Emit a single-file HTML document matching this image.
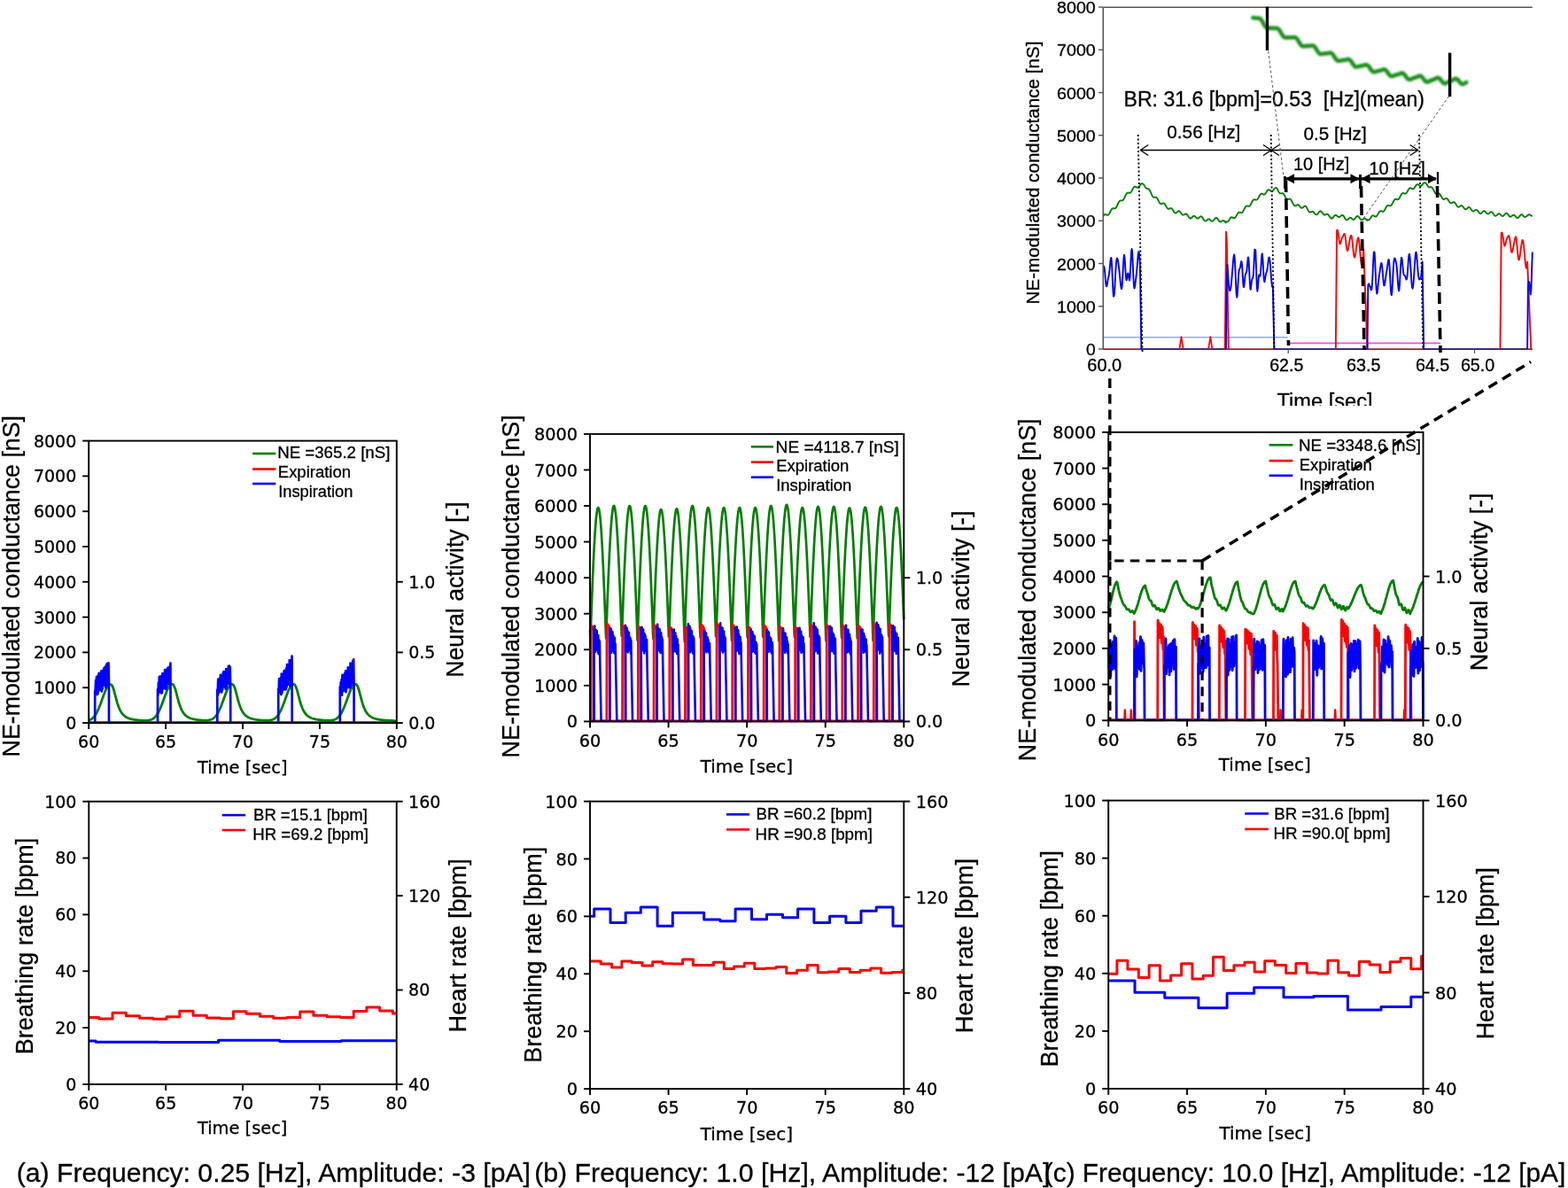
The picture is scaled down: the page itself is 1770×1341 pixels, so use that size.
<!DOCTYPE html><html><head><meta charset="utf-8"><title>Figure</title><style>html,body{margin:0;padding:0;background:#fff;}svg{display:block;}</style></head><body><svg width="1770" height="1341" viewBox="0 0 1770 1341"><defs><filter id="blur" x="-5%" y="-20%" width="110%" height="140%"><feGaussianBlur stdDeviation="0.9"/></filter><clipPath id="insclip"><rect x="1140" y="0" width="630" height="458"/></clipPath></defs><rect width="1770" height="1341" fill="#fff"/>
<polyline points="100.2,813.12 100.9,812.87 101.6,812.57 102.3,812.22 103,811.81 103.7,811.32 104.4,810.77 105.1,810.13 105.8,809.4 106.5,808.57 107.2,807.64 107.9,806.6 108.6,805.46 109.3,804.2 110,802.83 110.7,801.35 111.4,799.76 112.1,798.08 112.8,796.31 113.5,794.46 114.2,792.56 114.9,790.62 115.6,788.65 116.3,786.69 117,784.76 117.7,782.89 118.4,781.09 119.1,779.4 119.8,777.85 120.5,776.46 121.2,775.25 121.9,774.24 122.6,773.46 123.3,772.91 124,772.6 124.7,772.54 125.4,772.72 126.1,773.29 126.8,774.36 127.5,775.94 128.2,777.98 128.9,780.37 129.6,782.99 130.3,785.7 131,788.39 131.7,790.97 132.4,793.37 133.1,795.58 133.8,797.56 134.5,799.34 135.2,800.92 135.9,802.31 136.6,803.53 137.3,804.61 138,805.56 138.7,806.39 139.4,807.13 140.1,807.78 140.8,808.35 141.5,808.86 142.2,809.31 142.9,809.72 143.6,810.08 144.3,810.4 145,810.69 145.7,810.95 146.4,811.19 147.1,811.4 147.8,811.59 148.5,811.77 149.2,811.93 149.9,812.08 150.6,812.21 151.3,812.33 152,812.44 152.7,812.55 153.4,812.64 154.1,812.73 154.8,812.81 155.5,812.88 156.2,812.95 156.9,813.01 157.6,813.07 158.3,813.12 159,813.17 159.7,813.21 160.4,813.25 161.1,813.28 161.8,813.3 162.5,813.32 163.2,813.32 163.9,813.32 164.6,813.31 165.3,813.28 166,813.24 166.7,813.18 167.4,813.1 168.1,812.99 168.8,812.86 169.5,812.68 170.2,812.47 170.9,812.21 171.6,811.9 172.3,811.53 173,811.1 173.7,810.59 174.4,810 175.1,809.32 175.8,808.55 176.5,807.68 177.2,806.7 177.9,805.61 178.6,804.42 179.3,803.1 180,801.68 180.7,800.15 181.4,798.51 182.1,796.79 182.8,794.98 183.5,793.11 184.2,791.19 184.9,789.24 185.6,787.28 186.3,785.34 187,783.45 187.7,781.62 188.4,779.89 189.1,778.28 189.8,776.82 190.5,775.54 191.2,774.45 191.9,773.57 192.6,772.92 193.3,772.52 194,772.36 194.7,772.43 195.4,772.82 196.1,773.67 196.8,775.04 197.5,776.89 198.2,779.15 198.9,781.7 199.6,784.39 200.3,787.1 201,789.74 201.7,792.23 202.4,794.52 203.1,796.61 203.8,798.48 204.5,800.14 205.2,801.61 205.9,802.91 206.6,804.05 207.3,805.05 208,805.93 208.7,806.71 209.4,807.4 210.1,808.01 210.8,808.55 211.5,809.02 212.2,809.45 212.9,809.83 213.6,810.17 214.3,810.48 215,810.75 215.7,811 216.4,811.22 217.1,811.43 217.8,811.61 218.5,811.78 219.2,811.93 219.9,812.07 220.6,812.2 221.3,812.32 222,812.42 222.7,812.52 223.4,812.61 224.1,812.7 224.8,812.77 225.5,812.84 226.2,812.91 226.9,812.96 227.6,813.01 228.3,813.06 229,813.1 229.7,813.13 230.4,813.15 231.1,813.16 231.8,813.16 232.5,813.15 233.2,813.12 233.9,813.08 234.6,813.02 235.3,812.93 236,812.81 236.7,812.67 237.4,812.48 238.1,812.26 238.8,811.98 239.5,811.65 240.2,811.26 240.9,810.79 241.6,810.25 242.3,809.63 243,808.92 243.7,808.1 244.4,807.19 245.1,806.17 245.8,805.04 246.5,803.79 247.2,802.43 247.9,800.96 248.6,799.39 249.3,797.72 250,795.96 250.7,794.12 251.4,792.23 252.1,790.29 252.8,788.34 253.5,786.39 254.2,784.47 254.9,782.6 255.6,780.81 256.3,779.13 257,777.58 257.7,776.2 258.4,774.99 259.1,773.99 259.8,773.21 260.5,772.67 261.2,772.37 261.9,772.32 262.6,772.5 263.3,773.08 264,774.15 264.7,775.73 265.4,777.78 266.1,780.18 266.8,782.8 267.5,785.52 268.2,788.21 268.9,790.79 269.6,793.2 270.3,795.4 271,797.4 271.7,799.18 272.4,800.76 273.1,802.15 273.8,803.38 274.5,804.46 275.2,805.41 275.9,806.25 276.6,806.99 277.3,807.64 278,808.21 278.7,808.73 279.4,809.18 280.1,809.59 280.8,809.95 281.5,810.28 282.2,810.57 282.9,810.83 283.6,811.07 284.3,811.28 285,811.48 285.7,811.66 286.4,811.82 287.1,811.97 287.8,812.1 288.5,812.23 289.2,812.34 289.9,812.44 290.6,812.54 291.3,812.63 292,812.71 292.7,812.79 293.4,812.86 294.1,812.92 294.8,812.98 295.5,813.03 296.2,813.08 296.9,813.12 297.6,813.16 298.3,813.19 299,813.21 299.7,813.23 300.4,813.24 301.1,813.24 301.8,813.22 302.5,813.2 303.2,813.15 303.9,813.09 304.6,813.01 305.3,812.9 306,812.76 306.7,812.58 307.4,812.37 308.1,812.1 308.8,811.78 309.5,811.41 310.2,810.96 310.9,810.44 311.6,809.84 312.3,809.15 313,808.37 313.7,807.48 314.4,806.49 315.1,805.39 315.8,804.17 316.5,802.85 317.2,801.41 317.9,799.86 318.6,798.22 319.3,796.48 320,794.66 320.7,792.78 321.4,790.86 322.1,788.91 322.8,786.95 323.5,785.02 324.2,783.13 324.9,781.31 325.6,779.6 326.3,778.01 327,776.58 327.7,775.32 328.4,774.26 329.1,773.42 329.8,772.8 330.5,772.43 331.2,772.31 331.9,772.41 332.6,772.87 333.3,773.79 334,775.23 334.7,777.15 335.4,779.46 336.1,782.03 336.8,784.74 337.5,787.45 338.2,790.06 338.9,792.53 339.6,794.79 340.3,796.85 341,798.69 341.7,800.32 342.4,801.77 343.1,803.04 343.8,804.16 344.5,805.15 345.2,806.02 345.9,806.78 346.6,807.46 347.3,808.05 348,808.58 348.7,809.05 349.4,809.47 350.1,809.85 350.8,810.18 351.5,810.48 352.2,810.75 352.9,811 353.6,811.22 354.3,811.42 355,811.6 355.7,811.77 356.4,811.92 357.1,812.06 357.8,812.19 358.5,812.3 359.2,812.41 359.9,812.51 360.6,812.6 361.3,812.68 362,812.76 362.7,812.83 363.4,812.9 364.1,812.96 364.8,813.01 365.5,813.06 366.2,813.11 366.9,813.15 367.6,813.18 368.3,813.21 369,813.23 369.7,813.25 370.4,813.25 371.1,813.25 371.8,813.23 372.5,813.2 373.2,813.16 373.9,813.09 374.6,813 375.3,812.89 376,812.74 376.7,812.56 377.4,812.34 378.1,812.07 378.8,811.74 379.5,811.35 380.2,810.9 380.9,810.37 381.6,809.75 382.3,809.05 383,808.25 383.7,807.35 384.4,806.34 385.1,805.22 385.8,803.99 386.5,802.65 387.2,801.19 387.9,799.63 388.6,797.97 389.3,796.22 390,794.4 390.7,792.51 391.4,790.58 392.1,788.63 392.8,786.67 393.5,784.74 394.2,782.86 394.9,781.06 395.6,779.36 396.3,777.8 397,776.39 397.7,775.15 398.4,774.12 399.1,773.31 399.8,772.73 400.5,772.4 401.2,772.31 401.9,772.45 402.6,772.97 403.3,773.96 404,775.48 404.7,777.46 405.4,779.81 406.1,782.41 406.8,785.12 407.5,787.82 408.2,790.42 408.9,792.86 409.6,795.1 410.3,797.12 411,798.93 411.7,800.54 412.4,801.96 413.1,803.21 413.8,804.31 414.5,805.28 415.2,806.13 415.9,806.88 416.6,807.54 417.3,808.13 418,808.65 418.7,809.11 419.4,809.53 420.1,809.89 420.8,810.22 421.5,810.52 422.2,810.79 422.9,811.03 423.6,811.25 424.3,811.45 425,811.63 425.7,811.79 426.4,811.94 427.1,812.08 427.8,812.2 428.5,812.32 429.2,812.42 429.9,812.52 430.6,812.61 431.3,812.69 432,812.77 432.7,812.84 433.4,812.91 434.1,812.97 434.8,813.03 435.5,813.09 436.2,813.14 436.9,813.18 437.6,813.23 438.3,813.27 439,813.31 439.7,813.35 440.4,813.38 441.1,813.41 441.8,813.44 442.5,813.47 443.2,813.5 443.9,813.53 444.6,813.55 445.3,813.57 446,813.6 446.7,813.62 447.4,813.64" fill="none" stroke="#007f00" stroke-width="2.8" stroke-linejoin="round"/>
<line x1="100.2" y1="815.5" x2="447.8" y2="815.5" stroke="#0000ff" stroke-width="2.6"/>
<line x1="108.7" y1="815.5" x2="121.5" y2="815.5" stroke="#ff0000" stroke-width="2.6"/>
<line x1="179.5" y1="815.5" x2="191.1" y2="815.5" stroke="#ff0000" stroke-width="2.6"/>
<line x1="246.8" y1="815.5" x2="258.7" y2="815.5" stroke="#ff0000" stroke-width="2.6"/>
<line x1="315.7" y1="815.5" x2="328.2" y2="815.5" stroke="#ff0000" stroke-width="2.6"/>
<line x1="385.3" y1="815.5" x2="398.1" y2="815.5" stroke="#ff0000" stroke-width="2.6"/>
<polyline points="107.2,816 107.2,780.01 107.65,780.84 108.1,767.74 108.55,781.68 109,764.19 109.45,783.85 109.9,766.03 110.35,783.48 110.8,762.3 111.25,780.22 111.7,759.84 112.15,776.85 112.6,763.28 113.05,778.01 113.5,760.94 113.95,778.87 114.4,757.34 114.85,780.51 115.3,759.06 115.75,777.21 116.2,760.05 116.65,773.31 117.1,754.82 117.55,772.55 118,753.37 118.45,773.74 118.9,755.67 119.35,776.19 119.8,751.2 120.25,774.42 120.7,749.22 121.15,770.69 121.6,751.6 122.05,767.98 122.5,748.45 122.95,768.9 123,816" fill="none" stroke="#0000ff" stroke-width="2.7" stroke-linejoin="round"/>
<polyline points="178,816 178,778.36 178.45,784.74 178.9,770.58 179.35,781.51 179.8,763.83 180.25,779.4 180.7,763.52 181.15,781.18 181.6,765.57 182.05,782.48 182.5,762.99 182.95,781.95 183.4,760.07 183.85,777.66 184.3,763.19 184.75,774.75 185.2,761.35 185.65,776.01 186.1,756.21 186.55,777.36 187,757.24 187.45,777.75 187.9,759.57 188.35,774.85 188.8,754.94 189.25,771.14 189.7,753.55 190.15,770.72 190.6,755.85 191.05,772.06 191.5,752.71 191.95,773.89 192.4,748.72 192.6,816" fill="none" stroke="#0000ff" stroke-width="2.7" stroke-linejoin="round"/>
<polyline points="245.3,816 245.3,778.67 245.75,785 246.2,766.76 246.65,782.65 247.1,767.26 247.55,780.23 248,765.72 248.45,779.69 248.9,761.79 249.35,780.9 249.8,762.67 250.25,781.35 250.7,763.69 251.15,778.53 251.6,760.19 252.05,775.33 252.5,758.16 252.95,774.78 253.4,761.87 253.85,775.82 254.3,758 254.75,777.71 255.2,755.21 255.65,776.47 256.1,757.7 256.55,772.13 257,755.94 257.45,770.2 257.9,751.81 258.35,772 258.8,751.65 259.25,772.43 259.7,752.87 260.15,771.98 260.2,816" fill="none" stroke="#0000ff" stroke-width="2.7" stroke-linejoin="round"/>
<polyline points="314.2,816 314.2,777.96 314.65,782.48 315.1,766.36 315.55,779.83 316,766.25 316.45,781.54 316.9,765.1 317.35,784.07 317.8,760.64 318.25,782.51 318.7,761.92 319.15,779.51 319.6,761.64 320.05,777.2 320.5,757.66 320.95,777.35 321.4,756.76 321.85,778.41 322.3,758.16 322.75,778.19 323.2,754.36 323.65,775.51 324.1,750.08 324.55,772.46 325,752.45 325.45,771.75 325.9,750.06 326.35,772.77 326.8,745.09 327.25,774.1 327.7,746.46 328.15,772.33 328.6,747.27 329.05,769.83 329.5,740.5 329.7,816" fill="none" stroke="#0000ff" stroke-width="2.7" stroke-linejoin="round"/>
<polyline points="383.8,816 383.8,775.44 384.25,783.55 384.7,770.05 385.15,784.58 385.6,767.17 386.05,784.66 386.5,761.85 386.95,780.47 387.4,762.07 387.85,777.57 388.3,764.07 388.75,778.44 389.2,760.2 389.65,780.09 390.1,757.24 390.55,781.18 391,760.59 391.45,776.98 391.9,757.39 392.35,773.72 392.8,753.43 393.25,774.79 393.7,756.12 394.15,776.09 394.6,754.09 395.05,776.41 395.5,748.71 395.95,775 396.4,749.8 396.85,771.59 397.3,750.46 397.75,769.12 398.2,746.08 398.65,771.56 399.1,744.29 399.55,772.84 399.6,816" fill="none" stroke="#0000ff" stroke-width="2.7" stroke-linejoin="round"/>
<rect x="100.2" y="497.6" width="347.6" height="318.4" fill="none" stroke="#000" stroke-width="1.9"/>
<line x1="100.2" y1="816" x2="100.2" y2="823" stroke="#000" stroke-width="1.9"/>
<text x="100.2" y="844.15" font-size="19" font-family="'DejaVu Sans', 'Liberation Sans', sans-serif" fill="#000" stroke="#000" stroke-width="0.3" text-anchor="middle">60</text>
<line x1="187.1" y1="816" x2="187.1" y2="823" stroke="#000" stroke-width="1.9"/>
<text x="187.1" y="844.15" font-size="19" font-family="'DejaVu Sans', 'Liberation Sans', sans-serif" fill="#000" stroke="#000" stroke-width="0.3" text-anchor="middle">65</text>
<line x1="274" y1="816" x2="274" y2="823" stroke="#000" stroke-width="1.9"/>
<text x="274" y="844.15" font-size="19" font-family="'DejaVu Sans', 'Liberation Sans', sans-serif" fill="#000" stroke="#000" stroke-width="0.3" text-anchor="middle">70</text>
<line x1="360.9" y1="816" x2="360.9" y2="823" stroke="#000" stroke-width="1.9"/>
<text x="360.9" y="844.15" font-size="19" font-family="'DejaVu Sans', 'Liberation Sans', sans-serif" fill="#000" stroke="#000" stroke-width="0.3" text-anchor="middle">75</text>
<line x1="447.8" y1="816" x2="447.8" y2="823" stroke="#000" stroke-width="1.9"/>
<text x="447.8" y="844.15" font-size="19" font-family="'DejaVu Sans', 'Liberation Sans', sans-serif" fill="#000" stroke="#000" stroke-width="0.3" text-anchor="middle">80</text>
<line x1="93.2" y1="816" x2="100.2" y2="816" stroke="#000" stroke-width="1.9"/>
<text x="86.3" y="822.93" font-size="19" font-family="'DejaVu Sans', 'Liberation Sans', sans-serif" fill="#000" stroke="#000" stroke-width="0.3" text-anchor="end">0</text>
<line x1="93.2" y1="776.2" x2="100.2" y2="776.2" stroke="#000" stroke-width="1.9"/>
<text x="86.3" y="783.13" font-size="19" font-family="'DejaVu Sans', 'Liberation Sans', sans-serif" fill="#000" stroke="#000" stroke-width="0.3" text-anchor="end">1000</text>
<line x1="93.2" y1="736.4" x2="100.2" y2="736.4" stroke="#000" stroke-width="1.9"/>
<text x="86.3" y="743.33" font-size="19" font-family="'DejaVu Sans', 'Liberation Sans', sans-serif" fill="#000" stroke="#000" stroke-width="0.3" text-anchor="end">2000</text>
<line x1="93.2" y1="696.6" x2="100.2" y2="696.6" stroke="#000" stroke-width="1.9"/>
<text x="86.3" y="703.53" font-size="19" font-family="'DejaVu Sans', 'Liberation Sans', sans-serif" fill="#000" stroke="#000" stroke-width="0.3" text-anchor="end">3000</text>
<line x1="93.2" y1="656.8" x2="100.2" y2="656.8" stroke="#000" stroke-width="1.9"/>
<text x="86.3" y="663.73" font-size="19" font-family="'DejaVu Sans', 'Liberation Sans', sans-serif" fill="#000" stroke="#000" stroke-width="0.3" text-anchor="end">4000</text>
<line x1="93.2" y1="617" x2="100.2" y2="617" stroke="#000" stroke-width="1.9"/>
<text x="86.3" y="623.93" font-size="19" font-family="'DejaVu Sans', 'Liberation Sans', sans-serif" fill="#000" stroke="#000" stroke-width="0.3" text-anchor="end">5000</text>
<line x1="93.2" y1="577.2" x2="100.2" y2="577.2" stroke="#000" stroke-width="1.9"/>
<text x="86.3" y="584.13" font-size="19" font-family="'DejaVu Sans', 'Liberation Sans', sans-serif" fill="#000" stroke="#000" stroke-width="0.3" text-anchor="end">6000</text>
<line x1="93.2" y1="537.4" x2="100.2" y2="537.4" stroke="#000" stroke-width="1.9"/>
<text x="86.3" y="544.34" font-size="19" font-family="'DejaVu Sans', 'Liberation Sans', sans-serif" fill="#000" stroke="#000" stroke-width="0.3" text-anchor="end">7000</text>
<line x1="93.2" y1="497.6" x2="100.2" y2="497.6" stroke="#000" stroke-width="1.9"/>
<text x="86.3" y="504.54" font-size="19" font-family="'DejaVu Sans', 'Liberation Sans', sans-serif" fill="#000" stroke="#000" stroke-width="0.3" text-anchor="end">8000</text>
<line x1="447.8" y1="816" x2="454.8" y2="816" stroke="#000" stroke-width="1.9"/>
<text x="461.2" y="822.93" font-size="19" font-family="'DejaVu Sans', 'Liberation Sans', sans-serif" fill="#000" stroke="#000" stroke-width="0.3">0.0</text>
<line x1="447.8" y1="736.4" x2="454.8" y2="736.4" stroke="#000" stroke-width="1.9"/>
<text x="461.2" y="743.33" font-size="19" font-family="'DejaVu Sans', 'Liberation Sans', sans-serif" fill="#000" stroke="#000" stroke-width="0.3">0.5</text>
<line x1="447.8" y1="656.8" x2="454.8" y2="656.8" stroke="#000" stroke-width="1.9"/>
<text x="461.2" y="663.73" font-size="19" font-family="'DejaVu Sans', 'Liberation Sans', sans-serif" fill="#000" stroke="#000" stroke-width="0.3">1.0</text>
<text x="0" y="0" font-size="27.5" font-family="'Liberation Sans', Arial, sans-serif" fill="#000" stroke="#000" stroke-width="0.3" text-anchor="middle" textLength="385.5" lengthAdjust="spacingAndGlyphs" transform="translate(21.6 661.7) rotate(-90)">NE-modulated conductance [nS]</text>
<text x="0" y="0" font-size="28" font-family="'Liberation Sans', Arial, sans-serif" fill="#000" stroke="#000" stroke-width="0.3" text-anchor="middle" textLength="198.5" lengthAdjust="spacingAndGlyphs" transform="translate(522.5 665.5) rotate(-90)">Neural activity [-]</text>
<text x="273.8" y="873" font-size="19.3" font-family="'DejaVu Sans', 'Liberation Sans', sans-serif" fill="#000" stroke="#000" stroke-width="0.3" text-anchor="middle" textLength="101.5" lengthAdjust="spacingAndGlyphs">Time [sec]</text>
<line x1="285" y1="512" x2="311.3" y2="512" stroke="#007f00" stroke-width="2.6"/>
<text x="313.2" y="516.8" font-size="18.5" font-family="'Liberation Sans', Arial, sans-serif" fill="#000" stroke="#000" stroke-width="0.3" textLength="127.2" lengthAdjust="spacingAndGlyphs">NE =365.2 [nS]</text>
<line x1="285" y1="529.5" x2="311.3" y2="529.5" stroke="#ff0000" stroke-width="2.6"/>
<text x="313.8" y="539.4" font-size="18.5" font-family="'Liberation Sans', Arial, sans-serif" fill="#000" stroke="#000" stroke-width="0.3" textLength="82.2" lengthAdjust="spacingAndGlyphs">Expiration</text>
<line x1="285" y1="546" x2="311.3" y2="546" stroke="#0000ff" stroke-width="2.6"/>
<text x="314.2" y="560.8" font-size="18.5" font-family="'Liberation Sans', Arial, sans-serif" fill="#000" stroke="#000" stroke-width="0.3" textLength="84.2" lengthAdjust="spacingAndGlyphs">Inspiration</text>
<polyline points="100.3,1175.1 108.2,1175.1 108.2,1176.3 178.9,1176.3 178.9,1176.6 246.6,1176.6 246.6,1174.2 315.8,1174.2 315.8,1175.6 385,1175.6 385,1174.8 447.7,1174.8" fill="none" stroke="#0000ff" stroke-width="3.0" stroke-linejoin="round" stroke-linejoin="miter" stroke-linecap="butt"/>
<polyline points="100.3,1148.5 111.8,1148.5 111.8,1150.1 127,1150.1 127,1143.2 142.3,1143.2 142.3,1146.8 157.6,1146.8 157.6,1149.3 172.8,1149.3 172.8,1150.3 188,1150.3 188,1147.8 202.8,1147.8 202.8,1141.2 218,1141.2 218,1146.3 233.3,1146.3 233.3,1149.1 248.6,1149.1 248.6,1149.8 263.4,1149.8 263.4,1141.7 278.1,1141.7 278.1,1144.2 293.4,1144.2 293.4,1147.3 308.6,1147.3 308.6,1149.3 323.9,1149.3 323.9,1148.6 338.7,1148.6 338.7,1142 353.9,1142 353.9,1146.3 369.2,1146.3 369.2,1147.8 384.4,1147.8 384.4,1148.6 399.2,1148.6 399.2,1141.5 413.9,1141.5 413.9,1137.1 428.7,1137.1 428.7,1141 443.4,1141 443.4,1144 447.7,1144" fill="none" stroke="#ff0000" stroke-width="3.0" stroke-linejoin="round" stroke-linejoin="miter" stroke-linecap="butt"/>
<rect x="100.3" y="904.7" width="347.4" height="319.2" fill="none" stroke="#000" stroke-width="1.9"/>
<line x1="100.3" y1="1223.9" x2="100.3" y2="1230.9" stroke="#000" stroke-width="1.9"/>
<text x="100.3" y="1252.05" font-size="19" font-family="'DejaVu Sans', 'Liberation Sans', sans-serif" fill="#000" stroke="#000" stroke-width="0.3" text-anchor="middle">60</text>
<line x1="187.15" y1="1223.9" x2="187.15" y2="1230.9" stroke="#000" stroke-width="1.9"/>
<text x="187.15" y="1252.05" font-size="19" font-family="'DejaVu Sans', 'Liberation Sans', sans-serif" fill="#000" stroke="#000" stroke-width="0.3" text-anchor="middle">65</text>
<line x1="274" y1="1223.9" x2="274" y2="1230.9" stroke="#000" stroke-width="1.9"/>
<text x="274" y="1252.05" font-size="19" font-family="'DejaVu Sans', 'Liberation Sans', sans-serif" fill="#000" stroke="#000" stroke-width="0.3" text-anchor="middle">70</text>
<line x1="360.85" y1="1223.9" x2="360.85" y2="1230.9" stroke="#000" stroke-width="1.9"/>
<text x="360.85" y="1252.05" font-size="19" font-family="'DejaVu Sans', 'Liberation Sans', sans-serif" fill="#000" stroke="#000" stroke-width="0.3" text-anchor="middle">75</text>
<line x1="447.7" y1="1223.9" x2="447.7" y2="1230.9" stroke="#000" stroke-width="1.9"/>
<text x="447.7" y="1252.05" font-size="19" font-family="'DejaVu Sans', 'Liberation Sans', sans-serif" fill="#000" stroke="#000" stroke-width="0.3" text-anchor="middle">80</text>
<line x1="93.3" y1="1223.9" x2="100.3" y2="1223.9" stroke="#000" stroke-width="1.9"/>
<text x="86.4" y="1230.84" font-size="19" font-family="'DejaVu Sans', 'Liberation Sans', sans-serif" fill="#000" stroke="#000" stroke-width="0.3" text-anchor="end">0</text>
<line x1="93.3" y1="1160.06" x2="100.3" y2="1160.06" stroke="#000" stroke-width="1.9"/>
<text x="86.4" y="1167" font-size="19" font-family="'DejaVu Sans', 'Liberation Sans', sans-serif" fill="#000" stroke="#000" stroke-width="0.3" text-anchor="end">20</text>
<line x1="93.3" y1="1096.22" x2="100.3" y2="1096.22" stroke="#000" stroke-width="1.9"/>
<text x="86.4" y="1103.15" font-size="19" font-family="'DejaVu Sans', 'Liberation Sans', sans-serif" fill="#000" stroke="#000" stroke-width="0.3" text-anchor="end">40</text>
<line x1="93.3" y1="1032.38" x2="100.3" y2="1032.38" stroke="#000" stroke-width="1.9"/>
<text x="86.4" y="1039.32" font-size="19" font-family="'DejaVu Sans', 'Liberation Sans', sans-serif" fill="#000" stroke="#000" stroke-width="0.3" text-anchor="end">60</text>
<line x1="93.3" y1="968.54" x2="100.3" y2="968.54" stroke="#000" stroke-width="1.9"/>
<text x="86.4" y="975.48" font-size="19" font-family="'DejaVu Sans', 'Liberation Sans', sans-serif" fill="#000" stroke="#000" stroke-width="0.3" text-anchor="end">80</text>
<line x1="93.3" y1="904.7" x2="100.3" y2="904.7" stroke="#000" stroke-width="1.9"/>
<text x="86.4" y="911.63" font-size="19" font-family="'DejaVu Sans', 'Liberation Sans', sans-serif" fill="#000" stroke="#000" stroke-width="0.3" text-anchor="end">100</text>
<line x1="447.7" y1="1223.9" x2="454.7" y2="1223.9" stroke="#000" stroke-width="1.9"/>
<text x="461.1" y="1230.84" font-size="19" font-family="'DejaVu Sans', 'Liberation Sans', sans-serif" fill="#000" stroke="#000" stroke-width="0.3">40</text>
<line x1="447.7" y1="1117.5" x2="454.7" y2="1117.5" stroke="#000" stroke-width="1.9"/>
<text x="461.1" y="1124.43" font-size="19" font-family="'DejaVu Sans', 'Liberation Sans', sans-serif" fill="#000" stroke="#000" stroke-width="0.3">80</text>
<line x1="447.7" y1="1011.1" x2="454.7" y2="1011.1" stroke="#000" stroke-width="1.9"/>
<text x="461.1" y="1018.04" font-size="19" font-family="'DejaVu Sans', 'Liberation Sans', sans-serif" fill="#000" stroke="#000" stroke-width="0.3">120</text>
<line x1="447.7" y1="904.7" x2="454.7" y2="904.7" stroke="#000" stroke-width="1.9"/>
<text x="461.1" y="911.63" font-size="19" font-family="'DejaVu Sans', 'Liberation Sans', sans-serif" fill="#000" stroke="#000" stroke-width="0.3">160</text>
<text x="0" y="0" font-size="27.5" font-family="'Liberation Sans', Arial, sans-serif" fill="#000" stroke="#000" stroke-width="0.3" text-anchor="middle" textLength="244.5" lengthAdjust="spacingAndGlyphs" transform="translate(37.3 1068) rotate(-90)">Breathing rate [bpm]</text>
<text x="0" y="0" font-size="27.5" font-family="'Liberation Sans', Arial, sans-serif" fill="#000" stroke="#000" stroke-width="0.3" text-anchor="middle" textLength="196.3" lengthAdjust="spacingAndGlyphs" transform="translate(526.1 1067.3) rotate(-90)">Heart rate [bpm]</text>
<text x="273.7" y="1280.4" font-size="19.3" font-family="'DejaVu Sans', 'Liberation Sans', sans-serif" fill="#000" stroke="#000" stroke-width="0.3" text-anchor="middle" textLength="101.5" lengthAdjust="spacingAndGlyphs">Time [sec]</text>
<line x1="250.7" y1="920.1" x2="277.1" y2="920.1" stroke="#0000ff" stroke-width="2.6"/>
<text x="286.1" y="925.5" font-size="18.5" font-family="'Liberation Sans', Arial, sans-serif" fill="#000" stroke="#000" stroke-width="0.3" textLength="128.7" lengthAdjust="spacingAndGlyphs">BR =15.1 [bpm]</text>
<line x1="250.7" y1="937" x2="277.1" y2="937" stroke="#ff0000" stroke-width="2.6"/>
<text x="285.3" y="947.9" font-size="18.5" font-family="'Liberation Sans', Arial, sans-serif" fill="#000" stroke="#000" stroke-width="0.3" textLength="130.7" lengthAdjust="spacingAndGlyphs">HR =69.2 [bpm]</text>
<polyline points="666,711.17 666.35,721.47 666.7,714.66 667.05,704.62 667.4,694.94 667.75,685.53 668.1,676.37 668.45,667.49 668.8,658.88 669.15,650.56 669.5,642.57 669.85,634.9 670.2,627.6 670.55,620.68 670.9,614.16 671.25,608.06 671.6,602.39 671.95,597.19 672.3,592.45 672.65,588.21 673,584.47 673.35,581.24 673.7,578.53 674.05,576.36 674.4,574.73 674.75,573.65 675.1,573.11 675.45,573.13 675.8,573.7 676.15,574.81 676.5,576.47 676.85,578.67 677.2,581.41 677.55,584.67 677.9,588.44 678.25,592.71 678.6,597.47 678.95,602.7 679.3,608.39 679.65,614.52 680,621.06 680.35,628.01 680.7,635.33 681.05,643.01 681.4,651.03 681.75,659.36 682.1,667.99 682.45,676.89 682.8,686.06 683.15,695.48 683.5,705.19 683.85,715.25 684.2,720.39 684.55,709.88 684.9,699.93 685.25,690.29 685.6,680.92 685.95,671.81 686.3,662.97 686.65,654.41 687,646.16 687.35,638.23 687.7,630.65 688.05,623.44 688.4,616.61 688.75,610.2 689.1,604.21 689.45,598.68 689.8,593.6 690.15,589.01 690.5,584.92 690.85,581.33 691.2,578.26 691.55,575.73 691.9,573.73 692.25,572.28 692.6,571.38 692.95,571.03 693.3,571.24 693.65,571.99 694,573.3 694.35,575.16 694.7,577.56 695.05,580.49 695.4,583.94 695.75,587.91 696.1,592.38 696.45,597.33 696.8,602.75 697.15,608.62 697.5,614.92 697.85,621.64 698.2,628.76 698.55,636.25 698.9,644.09 699.25,652.26 699.6,660.74 699.95,669.51 700.3,678.55 700.65,687.86 701,697.42 701.35,707.29 701.7,717.59 702.05,717.85 702.4,707.52 702.75,697.6 703.1,687.98 703.45,678.62 703.8,669.53 704.15,660.71 704.5,652.19 704.85,643.98 705.2,636.11 705.55,628.59 705.9,621.45 706.25,614.71 706.6,608.39 706.95,602.51 707.3,597.09 707.65,592.14 708,587.68 708.35,583.73 708.7,580.29 709.05,577.38 709.4,575.01 709.75,573.19 710.1,571.92 710.45,571.2 710.8,571.04 711.15,571.44 711.5,572.39 711.85,573.9 712.2,575.96 712.55,578.56 712.9,581.7 713.25,585.36 713.6,589.53 713.95,594.2 714.3,599.36 714.65,604.98 715,611.05 715.35,617.55 715.7,624.47 716.05,631.77 716.4,639.44 716.75,647.46 717.1,655.81 717.45,664.46 717.8,673.39 718.15,682.6 718.5,692.07 718.85,701.81 719.2,711.88 719.55,722.56 719.9,713.86 720.25,703.73 720.6,693.94 720.95,684.44 721.3,675.2 721.65,666.22 722,657.53 722.35,649.13 722.7,641.06 723.05,633.33 723.4,625.96 723.75,618.97 724.1,612.39 724.45,606.23 724.8,600.52 725.15,595.27 725.5,590.5 725.85,586.23 726.2,582.46 726.55,579.21 726.9,576.5 727.25,574.32 727.6,572.69 727.95,571.6 728.3,571.08 728.65,571.11 729,571.7 729.35,572.84 729.7,574.54 730.05,576.78 730.4,579.56 730.75,582.87 731.1,586.69 731.45,591.03 731.8,595.85 732.15,601.15 732.5,606.92 732.85,613.12 733.2,619.75 733.55,626.78 733.9,634.19 734.25,641.96 734.6,650.08 734.95,658.51 735.3,667.23 735.65,676.24 736,685.51 736.35,695.05 736.7,704.86 737.05,715.05 737.4,720.94 737.75,710.69 738.1,700.96 738.45,691.53 738.8,682.36 739.15,673.46 739.5,664.81 739.85,656.45 740.2,648.38 740.55,640.63 740.9,633.22 741.25,626.18 741.6,619.51 741.95,613.24 742.3,607.4 742.65,601.99 743,597.04 743.35,592.56 743.7,588.57 744.05,585.07 744.4,582.09 744.75,579.62 745.1,577.68 745.45,576.28 745.8,575.41 746.15,575.08 746.5,575.3 746.85,576.06 747.2,577.36 747.55,579.19 747.9,581.55 748.25,584.43 748.6,587.83 748.95,591.72 749.3,596.11 749.65,600.96 750,606.28 750.35,612.04 750.7,618.22 751.05,624.81 751.4,631.79 751.75,639.12 752.1,646.8 752.45,654.81 752.8,663.12 753.15,671.71 753.5,680.56 753.85,689.68 754.2,699.05 754.55,708.71 754.9,718.81 755.25,718.84 755.6,708.67 755.95,698.89 756.3,689.4 756.65,680.18 757,671.21 757.35,662.52 757.7,654.12 758.05,646.03 758.4,638.27 758.75,630.87 759.1,623.83 759.45,617.2 759.8,610.97 760.15,605.18 760.5,599.84 760.85,594.97 761.2,590.59 761.55,586.7 761.9,583.32 762.25,580.47 762.6,578.15 762.95,576.36 763.3,575.12 763.65,574.43 764,574.29 764.35,574.7 764.7,575.65 765.05,577.16 765.4,579.21 765.75,581.79 766.1,584.9 766.45,588.53 766.8,592.66 767.15,597.28 767.5,602.38 767.85,607.94 768.2,613.94 768.55,620.37 768.9,627.2 769.25,634.42 769.6,642 769.95,649.92 770.3,658.17 770.65,666.71 771,675.53 771.35,684.63 771.7,693.98 772.05,703.6 772.4,713.54 772.75,724.12 773.1,712.05 773.45,702.03 773.8,692.36 774.15,682.97 774.5,673.83 774.85,664.96 775.2,656.36 775.55,648.07 775.9,640.09 776.25,632.45 776.6,625.17 776.95,618.27 777.3,611.77 777.65,605.69 778,600.05 778.35,594.88 778.7,590.17 779.05,585.95 779.4,582.24 779.75,579.04 780.1,576.37 780.45,574.23 780.8,572.63 781.15,571.58 781.5,571.07 781.85,571.12 782.2,571.72 782.55,572.86 782.9,574.56 783.25,576.79 783.6,579.55 783.95,582.84 784.3,586.64 784.65,590.94 785,595.73 785.35,600.99 785.7,606.7 786.05,612.85 786.4,619.42 786.75,626.39 787.1,633.73 787.45,641.43 787.8,649.47 788.15,657.82 788.5,666.46 788.85,675.38 789.2,684.56 789.55,694 789.9,703.72 790.25,713.81 790.6,719.79 790.95,709.48 791.3,699.68 791.65,690.19 792,680.96 792.35,671.98 792.7,663.27 793.05,654.85 793.4,646.73 793.75,638.92 794.1,631.46 794.45,624.37 794.8,617.66 795.15,611.35 795.5,605.47 795.85,600.04 796.2,595.06 796.55,590.55 796.9,586.54 797.25,583.03 797.6,580.04 797.95,577.57 798.3,575.63 798.65,574.23 799,573.37 799.35,573.05 799.7,573.29 800.05,574.07 800.4,575.39 800.75,577.26 801.1,579.65 801.45,582.57 801.8,586.01 802.15,589.95 802.5,594.38 802.85,599.3 803.2,604.67 803.55,610.49 803.9,616.73 804.25,623.39 804.6,630.43 804.95,637.84 805.3,645.59 805.65,653.67 806,662.05 806.35,670.72 806.7,679.66 807.05,688.85 807.4,698.31 807.75,708.06 808.1,718.26 808.45,716.94 808.8,706.81 809.15,697.07 809.5,687.61 809.85,678.42 810.2,669.49 810.55,660.83 810.9,652.46 811.25,644.4 811.6,636.67 811.95,629.29 812.3,622.29 812.65,615.68 813,609.49 813.35,603.72 813.7,598.41 814.05,593.57 814.4,589.21 814.75,585.35 815.1,581.99 815.45,579.16 815.8,576.86 816.15,575.1 816.5,573.87 816.85,573.2 817.2,573.07 817.55,573.5 817.9,574.47 818.25,575.99 818.6,578.04 818.95,580.64 819.3,583.75 819.65,587.38 820,591.52 820.35,596.14 820.7,601.24 821.05,606.8 821.4,612.8 821.75,619.22 822.1,626.04 822.45,633.25 822.8,640.82 823.15,648.73 823.5,656.96 823.85,665.49 824.2,674.3 824.55,683.38 824.9,692.71 825.25,702.31 825.6,712.24 825.95,722.83 826.3,713.4 826.65,703.43 827,693.79 827.35,684.43 827.7,675.33 828.05,666.48 828.4,657.92 828.75,649.66 829.1,641.71 829.45,634.1 829.8,626.85 830.15,619.98 830.5,613.51 830.85,607.46 831.2,601.85 831.55,596.7 831.9,592.02 832.25,587.83 832.6,584.14 832.95,580.96 833.3,578.31 833.65,576.19 834,574.62 834.35,573.58 834.7,573.09 835.05,573.16 835.4,573.77 835.75,574.93 836.1,576.63 836.45,578.87 836.8,581.64 837.15,584.94 837.5,588.74 837.85,593.05 838.2,597.83 838.55,603.09 838.9,608.8 839.25,614.95 839.6,621.51 839.95,628.47 840.3,635.81 840.65,643.5 841,651.52 841.35,659.85 841.7,668.48 842.05,677.38 842.4,686.55 842.75,695.97 843.1,705.68 843.45,715.75 843.8,719.88 844.15,709.57 844.5,699.75 844.85,690.24 845.2,680.99 845.55,672 845.9,663.27 846.25,654.83 846.6,646.7 846.95,638.88 847.3,631.41 847.65,624.31 848,617.59 848.35,611.28 848.7,605.4 849.05,599.96 849.4,594.98 849.75,590.48 850.1,586.47 850.45,582.97 850.8,579.98 851.15,577.51 851.5,575.59 851.85,574.2 852.2,573.35 852.55,573.05 852.9,573.3 853.25,574.1 853.6,575.45 853.95,577.33 854.3,579.75 854.65,582.69 855,586.15 855.35,590.12 855.7,594.58 856.05,599.51 856.4,604.92 856.75,610.76 857.1,617.04 857.45,623.72 857.8,630.79 858.15,638.23 858.5,646.01 858.85,654.12 859.2,662.54 859.55,671.24 859.9,680.21 860.25,689.43 860.6,698.93 860.95,708.71 861.3,718.96 861.65,716.55 862,706.29 862.35,696.43 862.7,686.86 863.05,677.55 863.4,668.5 863.75,659.73 864.1,651.26 864.45,643.1 864.8,635.28 865.15,627.81 865.5,620.73 865.85,614.04 866.2,607.78 866.55,601.95 866.9,596.58 867.25,591.68 867.6,587.28 867.95,583.38 868.3,580 868.65,577.14 869,574.83 869.35,573.05 869.7,571.83 870.05,571.16 870.4,571.05 870.75,571.5 871.1,572.5 871.45,574.05 871.8,576.15 872.15,578.79 872.5,581.96 872.85,585.66 873.2,589.86 873.55,594.56 873.9,599.74 874.25,605.39 874.6,611.48 874.95,618 875.3,624.93 875.65,632.25 876,639.93 876.35,647.96 876.7,656.31 877.05,664.96 877.4,673.9 877.75,683.1 878.1,692.57 878.45,702.31 878.8,712.38 879.15,723.17 879.5,712.89 879.85,702.71 880.2,692.88 880.55,683.32 880.9,674.02 881.25,665 881.6,656.26 881.95,647.83 882.3,639.72 882.65,631.95 883,624.56 883.35,617.55 883.7,610.95 884.05,604.79 884.4,599.07 884.75,593.82 885.1,589.05 885.45,584.79 885.8,581.03 886.15,577.81 886.5,575.11 886.85,572.96 887.2,571.37 887.55,570.33 887.9,569.84 888.25,569.92 888.6,570.57 888.95,571.77 889.3,573.52 889.65,575.83 890,578.67 890.35,582.05 890.7,585.95 891.05,590.37 891.4,595.27 891.75,600.66 892.1,606.5 892.45,612.8 892.8,619.51 893.15,626.63 893.5,634.14 893.85,642 894.2,650.21 894.55,658.73 894.9,667.55 895.25,676.65 895.6,686.02 895.95,695.66 896.3,705.58 896.65,715.89 897,719.18 897.35,708.91 897.7,699.13 898.05,689.65 898.4,680.44 898.75,671.48 899.1,662.78 899.45,654.38 899.8,646.27 900.15,638.49 900.5,631.05 900.85,623.98 901.2,617.29 901.55,611.01 901.9,605.15 902.25,599.74 902.6,594.79 902.95,590.31 903.3,586.33 903.65,582.85 904,579.88 904.35,577.44 904.7,575.53 905.05,574.16 905.4,573.33 905.75,573.05 906.1,573.32 906.45,574.13 906.8,575.48 907.15,577.38 907.5,579.8 907.85,582.76 908.2,586.22 908.55,590.19 908.9,594.65 909.25,599.59 909.6,604.99 909.95,610.83 910.3,617.1 910.65,623.78 911,630.84 911.35,638.27 911.7,646.04 912.05,654.14 912.4,662.54 912.75,671.22 913.1,680.18 913.45,689.39 913.8,698.86 914.15,708.63 914.5,718.87 914.85,715.51 915.2,705.38 915.55,695.63 915.9,686.17 916.25,676.97 916.6,668.02 916.95,659.36 917.3,650.98 917.65,642.92 918,635.19 918.35,627.82 918.7,620.82 919.05,614.21 919.4,608.02 919.75,602.27 920.1,596.97 920.45,592.14 920.8,587.8 921.15,583.96 921.5,580.63 921.85,577.82 922.2,575.54 922.55,573.8 922.9,572.61 923.25,571.96 923.6,571.87 923.95,572.32 924.3,573.33 924.65,574.88 925,576.97 925.35,579.6 925.7,582.76 926.05,586.43 926.4,590.6 926.75,595.26 927.1,600.4 927.45,606 927.8,612.04 928.15,618.51 928.5,625.37 928.85,632.62 929.2,640.23 929.55,648.18 929.9,656.45 930.25,665.02 930.6,673.87 930.95,682.99 931.3,692.36 931.65,702 932,711.98 932.35,723.13 932.7,712.36 933.05,702.35 933.4,692.68 933.75,683.28 934.1,674.14 934.45,665.27 934.8,656.68 935.15,648.39 935.5,640.42 935.85,632.79 936.2,625.52 936.55,618.63 936.9,612.15 937.25,606.09 937.6,600.48 937.95,595.33 938.3,590.65 938.65,586.47 939,582.79 939.35,579.62 939.7,576.99 940.05,574.89 940.4,573.33 940.75,572.32 941.1,571.87 941.45,571.96 941.8,572.61 942.15,573.8 942.5,575.55 942.85,577.83 943.2,580.65 943.55,583.99 943.9,587.84 944.25,592.2 944.6,597.04 944.95,602.35 945.3,608.12 945.65,614.33 946,620.95 946.35,627.97 946.7,635.36 947.05,643.11 947.4,651.2 947.75,659.59 948.1,668.28 948.45,677.25 948.8,686.48 949.15,695.97 949.5,705.74 949.85,715.9 950.2,720.07 950.55,709.77 950.9,699.95 951.25,690.42 951.6,681.16 951.95,672.16 952.3,663.43 952.65,654.99 953,646.85 953.35,639.03 953.7,631.56 954.05,624.46 954.4,617.75 954.75,611.44 955.1,605.57 955.45,600.14 955.8,595.17 956.15,590.69 956.5,586.7 956.85,583.21 957.2,580.25 957.55,577.81 957.9,575.9 958.25,574.54 958.6,573.73 958.95,573.46 959.3,573.74 959.65,574.57 960,575.95 960.35,577.87 960.7,580.32 961.05,583.31 961.4,586.81 961.75,590.81 962.1,595.31 962.45,600.29 962.8,605.73 963.15,611.62 963.5,617.93 963.85,624.66 964.2,631.77 964.55,639.25 964.9,647.07 965.25,655.22 965.6,663.68 965.95,672.42 966.3,681.42 966.65,690.69 967,700.22 967.35,710.06 967.7,720.37 968.05,716.03 968.4,705.91 968.75,696.17 969.1,686.71 969.45,677.52 969.8,668.58 970.15,659.93 970.5,651.56 970.85,643.51 971.2,635.79 971.55,628.42 971.9,621.43 972.25,614.84 972.6,608.67 972.95,602.93 973.3,597.64 973.65,592.83 974,588.5 974.35,584.67 974.7,581.35 975.05,578.55 975.4,576.29 975.75,574.57 976.1,573.39 976.45,572.76 976.8,572.68 977.15,573.15 977.5,574.18 977.85,575.74 978.2,577.85 978.55,580.5 978.9,583.67 979.25,587.35 979.6,591.54 979.95,596.22 980.3,601.37 980.65,606.98 981,613.03 981.35,619.51 981.7,626.39 982.05,633.65 982.4,641.27 982.75,649.23 983.1,657.51 983.45,666.08 983.8,674.94 984.15,684.06 984.5,693.44 984.85,703.1 985.2,713.08 985.55,723.17 985.9,712.44 986.25,702.42 986.6,692.73 986.95,683.32 987.3,674.16 987.65,665.27 988,656.67 988.35,648.36 988.7,640.38 989.05,632.74 989.4,625.46 989.75,618.57 990.1,612.08 990.45,606.02 990.8,600.4 991.15,595.25 991.5,590.57 991.85,586.39 992.2,582.72 992.55,579.56 992.9,576.93 993.25,574.85 993.6,573.3 993.95,572.3 994.3,571.86 994.65,571.97 995,572.64 995.35,573.85 995.7,575.62 996.05,577.92 996.4,580.76 996.75,584.13 997.1,588.01 997.45,592.39 997.8,597.25 998.15,602.6 998.5,608.39 998.85,614.62 999.2,621.28 999.55,628.32 999.9,635.75 1000.25,643.53 1000.6,651.65 1000.95,660.07 1001.3,668.79 1001.65,677.79 1002,687.05 1002.35,696.58 1002.7,706.38 1003.05,716.59 1003.4,718.57 1003.75,708.35 1004.1,698.58 1004.45,689.12 1004.8,679.92 1005.15,670.97 1005.5,662.3 1005.85,653.91 1006.2,645.82 1006.55,638.05 1006.9,630.63 1007.25,623.58 1007.6,616.92 1007.95,610.66 1008.3,604.83 1008.65,599.44 1009,594.52 1009.35,590.07 1009.7,586.11 1010.05,582.66 1010.4,579.73 1010.75,577.32 1011.1,575.44 1011.45,574.1 1011.8,573.3 1012.15,573.05 1012.5,573.35 1012.85,574.19 1013.2,575.58 1013.55,577.5 1013.9,579.96 1014.25,582.94 1014.6,586.43 1014.95,590.43 1015.3,594.92 1015.65,599.89 1016,605.31 1016.35,611.18 1016.7,617.47 1017.05,624.17 1017.4,631.26 1017.75,638.71 1018.1,646.5 1018.45,654.61 1018.8,663.03 1019.15,671.73 1019.5,680.7 1019.85,689.92 1020.2,699.41" fill="none" stroke="#007f00" stroke-width="2.7" stroke-linejoin="round"/>
<line x1="666" y1="813.9" x2="1020.3" y2="813.9" stroke="#ff0000" stroke-width="2.6"/>
<line x1="666" y1="813.9" x2="670.3" y2="813.9" stroke="#0000ff" stroke-width="2.6"/>
<line x1="678.6" y1="813.9" x2="688.03" y2="813.9" stroke="#0000ff" stroke-width="2.6"/>
<line x1="696.33" y1="813.9" x2="705.76" y2="813.9" stroke="#0000ff" stroke-width="2.6"/>
<line x1="714.06" y1="813.9" x2="723.49" y2="813.9" stroke="#0000ff" stroke-width="2.6"/>
<line x1="731.79" y1="813.9" x2="741.22" y2="813.9" stroke="#0000ff" stroke-width="2.6"/>
<line x1="749.52" y1="813.9" x2="758.95" y2="813.9" stroke="#0000ff" stroke-width="2.6"/>
<line x1="767.25" y1="813.9" x2="776.68" y2="813.9" stroke="#0000ff" stroke-width="2.6"/>
<line x1="784.98" y1="813.9" x2="794.41" y2="813.9" stroke="#0000ff" stroke-width="2.6"/>
<line x1="802.71" y1="813.9" x2="812.14" y2="813.9" stroke="#0000ff" stroke-width="2.6"/>
<line x1="820.44" y1="813.9" x2="829.87" y2="813.9" stroke="#0000ff" stroke-width="2.6"/>
<line x1="838.17" y1="813.9" x2="847.6" y2="813.9" stroke="#0000ff" stroke-width="2.6"/>
<line x1="855.9" y1="813.9" x2="865.33" y2="813.9" stroke="#0000ff" stroke-width="2.6"/>
<line x1="873.63" y1="813.9" x2="883.06" y2="813.9" stroke="#0000ff" stroke-width="2.6"/>
<line x1="891.36" y1="813.9" x2="900.79" y2="813.9" stroke="#0000ff" stroke-width="2.6"/>
<line x1="909.09" y1="813.9" x2="918.52" y2="813.9" stroke="#0000ff" stroke-width="2.6"/>
<line x1="926.82" y1="813.9" x2="936.25" y2="813.9" stroke="#0000ff" stroke-width="2.6"/>
<line x1="944.55" y1="813.9" x2="953.98" y2="813.9" stroke="#0000ff" stroke-width="2.6"/>
<line x1="962.28" y1="813.9" x2="971.71" y2="813.9" stroke="#0000ff" stroke-width="2.6"/>
<line x1="980.01" y1="813.9" x2="989.44" y2="813.9" stroke="#0000ff" stroke-width="2.6"/>
<line x1="997.74" y1="813.9" x2="1007.17" y2="813.9" stroke="#0000ff" stroke-width="2.6"/>
<line x1="1015.47" y1="813.9" x2="1020.3" y2="813.9" stroke="#0000ff" stroke-width="2.6"/>
<polyline points="667.1,814.4 667.3,705.89 668.8,707.51 670.3,710.35 670.6,753.56 670.8,814.4" fill="none" stroke="#ff0000" stroke-width="2.8" stroke-linejoin="round"/>
<polyline points="668.8,707.51 670.3,710.35 671.9,715.22" fill="none" stroke="#ff0000" stroke-width="2.8" stroke-linejoin="round"/>
<polyline points="670.5,814.4 670.5,710.49 670.9,733.33 671.3,706.63 671.7,735.92 672.1,711.18 672.5,733.72 672.9,711.25 673.3,731.13 673.7,712.1 674.1,732.67 674.5,718.37 674.9,736.35 675.3,716.93 675.7,738.26 676.1,722.3 676.5,734.7 676.9,723.69 677.4,753.56 677.9,777.89 678.3,800.2 678.6,814.4" fill="none" stroke="#0000ff" stroke-width="2.6" stroke-linejoin="round"/>
<polyline points="684.83,814.4 685.03,703.97 686.53,705.59 688.03,708.43 688.33,753.56 688.53,814.4" fill="none" stroke="#ff0000" stroke-width="2.8" stroke-linejoin="round"/>
<polyline points="686.53,705.59 688.03,708.43 689.63,713.3" fill="none" stroke="#ff0000" stroke-width="2.8" stroke-linejoin="round"/>
<polyline points="688.23,814.4 688.23,709.44 688.63,729.72 689.03,709.93 689.43,733.83 689.83,709.78 690.23,736.73 690.63,714.57 691.03,734.64 691.43,713.29 691.83,731.19 692.23,717.25 692.63,733.52 693.03,720.27 693.43,737.3 693.83,719.79 694.23,737.58 694.63,726.77 695.13,753.56 695.63,777.89 696.03,800.2 696.33,814.4" fill="none" stroke="#0000ff" stroke-width="2.6" stroke-linejoin="round"/>
<polyline points="702.56,814.4 702.76,705.66 704.26,707.28 705.76,710.12 706.06,753.56 706.26,814.4" fill="none" stroke="#ff0000" stroke-width="2.8" stroke-linejoin="round"/>
<polyline points="704.26,707.28 705.76,710.12 707.36,714.99" fill="none" stroke="#ff0000" stroke-width="2.8" stroke-linejoin="round"/>
<polyline points="705.96,814.4 705.96,705.89 706.36,731.15 706.76,711.17 707.16,730.47 707.56,708.65 707.96,734.86 708.36,711.68 708.76,736.32 709.16,714.33 709.56,734.21 709.96,714.1 710.36,732.38 710.76,719.38 711.16,734.03 711.56,720.32 711.96,737.77 712.36,722.77 712.86,753.56 713.36,777.89 713.76,800.2 714.06,814.4" fill="none" stroke="#0000ff" stroke-width="2.6" stroke-linejoin="round"/>
<polyline points="720.29,814.4 720.49,706.97 721.99,708.59 723.49,711.43 723.79,753.56 723.99,814.4" fill="none" stroke="#ff0000" stroke-width="2.8" stroke-linejoin="round"/>
<polyline points="721.99,708.59 723.49,711.43 725.09,716.3" fill="none" stroke="#ff0000" stroke-width="2.8" stroke-linejoin="round"/>
<polyline points="723.69,814.4 723.69,708.01 724.09,733.71 724.49,708.09 724.89,731.58 725.29,712.43 725.69,731.16 726.09,710.67 726.49,734.88 726.89,716.04 727.29,737.48 727.69,715.55 728.09,734.49 728.49,717.45 728.89,732.03 729.29,723.2 729.69,733.97 730.09,721.98 730.59,753.56 731.09,777.89 731.49,800.2 731.79,814.4" fill="none" stroke="#0000ff" stroke-width="2.6" stroke-linejoin="round"/>
<polyline points="738.02,814.4 738.22,705.17 739.72,706.79 741.22,709.63 741.52,753.56 741.72,814.4" fill="none" stroke="#ff0000" stroke-width="2.8" stroke-linejoin="round"/>
<polyline points="739.72,706.79 741.22,709.63 742.82,714.5" fill="none" stroke="#ff0000" stroke-width="2.8" stroke-linejoin="round"/>
<polyline points="741.42,814.4 741.42,707.72 741.82,735.91 742.22,704.83 742.62,734.3 743.02,709.37 743.42,731.75 743.82,709.86 744.22,732.18 744.62,710.31 745.02,735.62 745.42,715.89 745.82,736.86 746.22,714.4 746.62,734.58 747.02,719.06 747.42,733.06 747.82,721.77 748.32,753.56 748.82,777.89 749.22,800.2 749.52,814.4" fill="none" stroke="#0000ff" stroke-width="2.6" stroke-linejoin="round"/>
<polyline points="755.75,814.4 755.95,707.34 757.45,708.96 758.95,711.8 759.25,753.56 759.45,814.4" fill="none" stroke="#ff0000" stroke-width="2.8" stroke-linejoin="round"/>
<polyline points="757.45,708.96 758.95,711.8 760.55,716.67" fill="none" stroke="#ff0000" stroke-width="2.8" stroke-linejoin="round"/>
<polyline points="759.15,814.4 759.15,711 759.55,733.05 759.95,711.85 760.35,735.66 760.75,710.64 761.15,734.6 761.55,716.31 761.95,731.05 762.35,714.47 762.75,731.94 763.15,718.05 763.55,736.52 763.95,721.43 764.35,737.85 764.75,721.46 765.15,735.62 765.55,727.71 766.05,753.56 766.55,777.89 766.95,800.2 767.25,814.4" fill="none" stroke="#0000ff" stroke-width="2.6" stroke-linejoin="round"/>
<polyline points="773.48,814.4 773.68,707.35 775.18,708.98 776.68,711.81 776.98,753.56 777.18,814.4" fill="none" stroke="#ff0000" stroke-width="2.8" stroke-linejoin="round"/>
<polyline points="775.18,708.98 776.68,711.81 778.28,716.68" fill="none" stroke="#ff0000" stroke-width="2.8" stroke-linejoin="round"/>
<polyline points="776.88,814.4 776.88,704.29 777.28,729.99 777.68,708.69 778.08,733.66 778.48,706.92 778.88,736.35 779.28,709.37 779.68,735.24 780.08,713.21 780.48,732.26 780.88,712.23 781.28,732.54 781.68,717.93 782.08,737.33 782.48,718.37 782.88,737.65 783.28,720.49 783.78,753.56 784.28,777.89 784.68,800.2 784.98,814.4" fill="none" stroke="#0000ff" stroke-width="2.6" stroke-linejoin="round"/>
<polyline points="791.21,814.4 791.41,704.91 792.91,706.53 794.41,709.37 794.71,753.56 794.91,814.4" fill="none" stroke="#ff0000" stroke-width="2.8" stroke-linejoin="round"/>
<polyline points="792.91,706.53 794.41,709.37 796.01,714.24" fill="none" stroke="#ff0000" stroke-width="2.8" stroke-linejoin="round"/>
<polyline points="794.61,814.4 794.61,712 795.01,730.48 795.41,712.26 795.81,729.97 796.21,716.52 796.61,734.41 797.01,714.64 797.41,736.31 797.81,719.77 798.21,735.08 798.61,719.59 799.01,732.56 799.41,722.16 799.81,733.09 800.21,727.69 800.61,737.27 801.01,726.1 801.51,753.56 802.01,777.89 802.41,800.2 802.71,814.4" fill="none" stroke="#0000ff" stroke-width="2.6" stroke-linejoin="round"/>
<polyline points="808.94,814.4 809.14,703.74 810.64,705.36 812.14,708.2 812.44,753.56 812.64,814.4" fill="none" stroke="#ff0000" stroke-width="2.8" stroke-linejoin="round"/>
<polyline points="810.64,705.36 812.14,708.2 813.74,713.07" fill="none" stroke="#ff0000" stroke-width="2.8" stroke-linejoin="round"/>
<polyline points="812.34,814.4 812.34,707.32 812.74,734.77 813.14,703.18 813.54,731.12 813.94,707.72 814.34,730.8 814.74,708.25 815.14,734.49 815.54,709.03 815.94,736.54 816.34,714.47 816.74,734.98 817.14,712.49 817.54,732.22 817.94,718.23 818.34,734.04 818.74,720.29 819.24,753.56 819.74,777.89 820.14,800.2 820.44,814.4" fill="none" stroke="#0000ff" stroke-width="2.6" stroke-linejoin="round"/>
<polyline points="826.67,814.4 826.87,705.07 828.37,706.69 829.87,709.53 830.17,753.56 830.37,814.4" fill="none" stroke="#ff0000" stroke-width="2.8" stroke-linejoin="round"/>
<polyline points="828.37,706.69 829.87,709.53 831.47,714.4" fill="none" stroke="#ff0000" stroke-width="2.8" stroke-linejoin="round"/>
<polyline points="830.07,814.4 830.07,708.84 830.47,735.68 830.87,709.8 831.27,734.1 831.67,707.62 832.07,730.88 832.47,713.63 832.87,731.25 833.27,711.38 833.67,735.25 834.07,716.03 834.47,737.88 834.87,718.58 835.27,734.8 835.67,718.95 836.07,732.84 836.47,725.32 836.97,753.56 837.47,777.89 837.87,800.2 838.17,814.4" fill="none" stroke="#0000ff" stroke-width="2.6" stroke-linejoin="round"/>
<polyline points="844.4,814.4 844.6,707.08 846.1,708.7 847.6,711.54 847.9,753.56 848.1,814.4" fill="none" stroke="#ff0000" stroke-width="2.8" stroke-linejoin="round"/>
<polyline points="846.1,708.7 847.6,711.54 849.2,716.41" fill="none" stroke="#ff0000" stroke-width="2.8" stroke-linejoin="round"/>
<polyline points="847.8,814.4 847.8,710.4 848.2,731.99 848.6,715.62 849,735.73 849.4,713.33 849.8,735.3 850.2,716.21 850.6,732.04 851,719.32 851.4,732.5 851.8,717.94 852.2,736.41 852.6,724.51 853,737.65 853.4,724.91 853.8,735.89 854.2,727.32 854.7,753.56 855.2,777.89 855.6,800.2 855.9,814.4" fill="none" stroke="#0000ff" stroke-width="2.6" stroke-linejoin="round"/>
<polyline points="862.13,814.4 862.33,705.58 863.83,707.2 865.33,710.04 865.63,753.56 865.83,814.4" fill="none" stroke="#ff0000" stroke-width="2.8" stroke-linejoin="round"/>
<polyline points="863.83,707.2 865.33,710.04 866.93,714.91" fill="none" stroke="#ff0000" stroke-width="2.8" stroke-linejoin="round"/>
<polyline points="865.53,814.4 865.53,711.59 865.93,729.94 866.33,711.99 866.73,732.7 867.13,715.81 867.53,735.73 867.93,713.68 868.33,734.73 868.73,719.04 869.13,732.25 869.53,719.74 869.93,732.64 870.33,720.96 870.73,736.4 871.13,726.46 871.53,737.88 871.93,725.42 872.43,753.56 872.93,777.89 873.33,800.2 873.63,814.4" fill="none" stroke="#0000ff" stroke-width="2.6" stroke-linejoin="round"/>
<polyline points="879.86,814.4 880.06,706.95 881.56,708.57 883.06,711.41 883.36,753.56 883.56,814.4" fill="none" stroke="#ff0000" stroke-width="2.8" stroke-linejoin="round"/>
<polyline points="881.56,708.57 883.06,711.41 884.66,716.28" fill="none" stroke="#ff0000" stroke-width="2.8" stroke-linejoin="round"/>
<polyline points="883.26,814.4 883.26,713.2 883.66,731.27 884.06,709.42 884.46,730.36 884.86,714.27 885.26,733.34 885.66,715.27 886.06,736.63 886.46,714.83 886.86,735.54 887.26,720.45 887.66,732.23 888.06,719.52 888.46,733.8 888.86,723.94 889.26,737.59 889.66,727.33 890.16,753.56 890.66,777.89 891.06,800.2 891.36,814.4" fill="none" stroke="#0000ff" stroke-width="2.6" stroke-linejoin="round"/>
<polyline points="897.59,814.4 897.79,707.6 899.29,709.22 900.79,712.06 901.09,753.56 901.29,814.4" fill="none" stroke="#ff0000" stroke-width="2.8" stroke-linejoin="round"/>
<polyline points="899.29,709.22 900.79,712.06 902.39,716.93" fill="none" stroke="#ff0000" stroke-width="2.8" stroke-linejoin="round"/>
<polyline points="900.99,814.4 900.99,709.59 901.39,734.45 901.79,710.46 902.19,730.87 902.59,708.69 902.99,730.36 903.39,714.85 903.79,734.17 904.19,712.8 904.59,736.63 904.99,717.12 905.39,735.75 905.79,720.46 906.19,732.26 906.59,719.4 906.99,733.56 907.39,726.28 907.89,753.56 908.39,777.89 908.79,800.2 909.09,814.4" fill="none" stroke="#0000ff" stroke-width="2.6" stroke-linejoin="round"/>
<polyline points="915.32,814.4 915.52,705.93 917.02,707.56 918.52,710.4 918.82,753.56 919.02,814.4" fill="none" stroke="#ff0000" stroke-width="2.8" stroke-linejoin="round"/>
<polyline points="917.02,707.56 918.52,710.4 920.12,715.26" fill="none" stroke="#ff0000" stroke-width="2.8" stroke-linejoin="round"/>
<polyline points="918.72,814.4 918.72,703.41 919.12,735.17 919.52,708.01 919.92,735.34 920.32,707.47 920.72,731.68 921.12,708.58 921.52,731.95 921.92,712.62 922.32,734.93 922.72,710.81 923.12,737.38 923.52,717.41 923.92,735.48 924.32,717.55 924.72,732.84 925.12,719.84 925.62,753.56 926.12,777.89 926.52,800.2 926.82,814.4" fill="none" stroke="#0000ff" stroke-width="2.6" stroke-linejoin="round"/>
<polyline points="933.05,814.4 933.25,705.61 934.75,707.24 936.25,710.08 936.55,753.56 936.75,814.4" fill="none" stroke="#ff0000" stroke-width="2.8" stroke-linejoin="round"/>
<polyline points="934.75,707.24 936.25,710.08 937.85,714.94" fill="none" stroke="#ff0000" stroke-width="2.8" stroke-linejoin="round"/>
<polyline points="936.45,814.4 936.45,706.93 936.85,731.77 937.25,707.13 937.65,735.19 938.05,710.75 938.45,734.76 938.85,708.79 939.25,731.96 939.65,714.27 940.05,732.22 940.45,715.35 940.85,735.99 941.25,716.76 941.65,737.77 942.05,721.91 942.45,736.22 942.85,720.68 943.35,753.56 943.85,777.89 944.25,800.2 944.55,814.4" fill="none" stroke="#0000ff" stroke-width="2.6" stroke-linejoin="round"/>
<polyline points="950.78,814.4 950.98,705.69 952.48,707.32 953.98,710.16 954.28,753.56 954.48,814.4" fill="none" stroke="#ff0000" stroke-width="2.8" stroke-linejoin="round"/>
<polyline points="952.48,707.32 953.98,710.16 955.58,715.02" fill="none" stroke="#ff0000" stroke-width="2.8" stroke-linejoin="round"/>
<polyline points="954.18,814.4 954.18,709.63 954.58,730.03 954.98,705.72 955.38,733.31 955.78,710.53 956.18,736.37 956.58,711.7 956.98,735.57 957.38,710.75 957.78,732.13 958.18,717 958.58,732.87 958.98,716.15 959.38,736.75 959.78,720.53 960.18,738.73 960.58,723.83 961.08,753.56 961.58,777.89 961.98,800.2 962.28,814.4" fill="none" stroke="#0000ff" stroke-width="2.6" stroke-linejoin="round"/>
<polyline points="968.51,814.4 968.71,705.87 970.21,707.49 971.71,710.33 972.01,753.56 972.21,814.4" fill="none" stroke="#ff0000" stroke-width="2.8" stroke-linejoin="round"/>
<polyline points="970.21,707.49 971.71,710.33 973.31,715.19" fill="none" stroke="#ff0000" stroke-width="2.8" stroke-linejoin="round"/>
<polyline points="971.91,814.4 971.91,711.13 972.31,731.11 972.71,711.76 973.11,729.87 973.51,710.5 973.91,733.08 974.31,716.52 974.71,736.75 975.11,715.03 975.51,735.53 975.91,718.39 976.31,732.35 976.71,721.34 977.11,733.39 977.51,721.56 977.91,736.98 978.31,727.91 978.81,753.56 979.31,777.89 979.71,800.2 980.01,814.4" fill="none" stroke="#0000ff" stroke-width="2.6" stroke-linejoin="round"/>
<polyline points="986.24,814.4 986.44,703.67 987.94,705.3 989.44,708.14 989.74,753.56 989.94,814.4" fill="none" stroke="#ff0000" stroke-width="2.8" stroke-linejoin="round"/>
<polyline points="987.94,705.3 989.44,708.14 991.04,713" fill="none" stroke="#ff0000" stroke-width="2.8" stroke-linejoin="round"/>
<polyline points="989.64,814.4 989.64,702.69 990.04,734.23 990.44,707.21 990.84,731.33 991.24,705.2 991.64,730.5 992.04,707.74 992.44,733.85 992.84,711.91 993.24,737.69 993.64,710.1 994.04,735.42 994.44,716.04 994.84,732.86 995.24,717.05 995.64,733.75 996.04,719.19 996.54,753.56 997.04,777.89 997.44,800.2 997.74,814.4" fill="none" stroke="#0000ff" stroke-width="2.6" stroke-linejoin="round"/>
<polyline points="1003.97,814.4 1004.17,704.31 1005.67,705.94 1007.17,708.77 1007.47,753.56 1007.67,814.4" fill="none" stroke="#ff0000" stroke-width="2.8" stroke-linejoin="round"/>
<polyline points="1005.67,705.94 1007.17,708.77 1008.77,713.64" fill="none" stroke="#ff0000" stroke-width="2.8" stroke-linejoin="round"/>
<polyline points="1007.37,814.4 1007.37,706.25 1007.77,734.69 1008.17,706.28 1008.57,735.28 1008.97,710.56 1009.37,731.91 1009.77,707.99 1010.17,730.75 1010.57,713.28 1010.97,735.05 1011.37,714.94 1011.77,737.74 1012.17,715.38 1012.57,735.75 1012.97,721.53 1013.37,732.89 1013.77,720.12 1014.27,753.56 1014.77,777.89 1015.17,800.2 1015.47,814.4" fill="none" stroke="#0000ff" stroke-width="2.6" stroke-linejoin="round"/>
<rect x="666" y="489.9" width="354.3" height="324.5" fill="none" stroke="#000" stroke-width="1.9"/>
<line x1="666" y1="814.4" x2="666" y2="821.4" stroke="#000" stroke-width="1.9"/>
<text x="666" y="842.77" font-size="19.3" font-family="'DejaVu Sans', 'Liberation Sans', sans-serif" fill="#000" stroke="#000" stroke-width="0.3" text-anchor="middle">60</text>
<line x1="754.58" y1="814.4" x2="754.58" y2="821.4" stroke="#000" stroke-width="1.9"/>
<text x="754.58" y="842.77" font-size="19.3" font-family="'DejaVu Sans', 'Liberation Sans', sans-serif" fill="#000" stroke="#000" stroke-width="0.3" text-anchor="middle">65</text>
<line x1="843.15" y1="814.4" x2="843.15" y2="821.4" stroke="#000" stroke-width="1.9"/>
<text x="843.15" y="842.77" font-size="19.3" font-family="'DejaVu Sans', 'Liberation Sans', sans-serif" fill="#000" stroke="#000" stroke-width="0.3" text-anchor="middle">70</text>
<line x1="931.72" y1="814.4" x2="931.72" y2="821.4" stroke="#000" stroke-width="1.9"/>
<text x="931.72" y="842.77" font-size="19.3" font-family="'DejaVu Sans', 'Liberation Sans', sans-serif" fill="#000" stroke="#000" stroke-width="0.3" text-anchor="middle">75</text>
<line x1="1020.3" y1="814.4" x2="1020.3" y2="821.4" stroke="#000" stroke-width="1.9"/>
<text x="1020.3" y="842.77" font-size="19.3" font-family="'DejaVu Sans', 'Liberation Sans', sans-serif" fill="#000" stroke="#000" stroke-width="0.3" text-anchor="middle">80</text>
<line x1="659" y1="814.4" x2="666" y2="814.4" stroke="#000" stroke-width="1.9"/>
<text x="652.1" y="821.44" font-size="19.3" font-family="'DejaVu Sans', 'Liberation Sans', sans-serif" fill="#000" stroke="#000" stroke-width="0.3" text-anchor="end">0</text>
<line x1="659" y1="773.84" x2="666" y2="773.84" stroke="#000" stroke-width="1.9"/>
<text x="652.1" y="780.88" font-size="19.3" font-family="'DejaVu Sans', 'Liberation Sans', sans-serif" fill="#000" stroke="#000" stroke-width="0.3" text-anchor="end">1000</text>
<line x1="659" y1="733.27" x2="666" y2="733.27" stroke="#000" stroke-width="1.9"/>
<text x="652.1" y="740.32" font-size="19.3" font-family="'DejaVu Sans', 'Liberation Sans', sans-serif" fill="#000" stroke="#000" stroke-width="0.3" text-anchor="end">2000</text>
<line x1="659" y1="692.71" x2="666" y2="692.71" stroke="#000" stroke-width="1.9"/>
<text x="652.1" y="699.76" font-size="19.3" font-family="'DejaVu Sans', 'Liberation Sans', sans-serif" fill="#000" stroke="#000" stroke-width="0.3" text-anchor="end">3000</text>
<line x1="659" y1="652.15" x2="666" y2="652.15" stroke="#000" stroke-width="1.9"/>
<text x="652.1" y="659.19" font-size="19.3" font-family="'DejaVu Sans', 'Liberation Sans', sans-serif" fill="#000" stroke="#000" stroke-width="0.3" text-anchor="end">4000</text>
<line x1="659" y1="611.59" x2="666" y2="611.59" stroke="#000" stroke-width="1.9"/>
<text x="652.1" y="618.63" font-size="19.3" font-family="'DejaVu Sans', 'Liberation Sans', sans-serif" fill="#000" stroke="#000" stroke-width="0.3" text-anchor="end">5000</text>
<line x1="659" y1="571.02" x2="666" y2="571.02" stroke="#000" stroke-width="1.9"/>
<text x="652.1" y="578.07" font-size="19.3" font-family="'DejaVu Sans', 'Liberation Sans', sans-serif" fill="#000" stroke="#000" stroke-width="0.3" text-anchor="end">6000</text>
<line x1="659" y1="530.46" x2="666" y2="530.46" stroke="#000" stroke-width="1.9"/>
<text x="652.1" y="537.51" font-size="19.3" font-family="'DejaVu Sans', 'Liberation Sans', sans-serif" fill="#000" stroke="#000" stroke-width="0.3" text-anchor="end">7000</text>
<line x1="659" y1="489.9" x2="666" y2="489.9" stroke="#000" stroke-width="1.9"/>
<text x="652.1" y="496.94" font-size="19.3" font-family="'DejaVu Sans', 'Liberation Sans', sans-serif" fill="#000" stroke="#000" stroke-width="0.3" text-anchor="end">8000</text>
<line x1="1020.3" y1="814.4" x2="1027.3" y2="814.4" stroke="#000" stroke-width="1.9"/>
<text x="1033.7" y="821.44" font-size="19.3" font-family="'DejaVu Sans', 'Liberation Sans', sans-serif" fill="#000" stroke="#000" stroke-width="0.3">0.0</text>
<line x1="1020.3" y1="733.27" x2="1027.3" y2="733.27" stroke="#000" stroke-width="1.9"/>
<text x="1033.7" y="740.32" font-size="19.3" font-family="'DejaVu Sans', 'Liberation Sans', sans-serif" fill="#000" stroke="#000" stroke-width="0.3">0.5</text>
<line x1="1020.3" y1="652.15" x2="1027.3" y2="652.15" stroke="#000" stroke-width="1.9"/>
<text x="1033.7" y="659.19" font-size="19.3" font-family="'DejaVu Sans', 'Liberation Sans', sans-serif" fill="#000" stroke="#000" stroke-width="0.3">1.0</text>
<text x="0" y="0" font-size="27.5" font-family="'Liberation Sans', Arial, sans-serif" fill="#000" stroke="#000" stroke-width="0.3" text-anchor="middle" textLength="387.1" lengthAdjust="spacingAndGlyphs" transform="translate(586.1 661.9) rotate(-90)">NE-modulated conductance [nS]</text>
<text x="0" y="0" font-size="28" font-family="'Liberation Sans', Arial, sans-serif" fill="#000" stroke="#000" stroke-width="0.3" text-anchor="middle" textLength="199.1" lengthAdjust="spacingAndGlyphs" transform="translate(1093.5 675.9) rotate(-90)">Neural activity [-]</text>
<text x="842.9" y="871.5" font-size="19.6" font-family="'DejaVu Sans', 'Liberation Sans', sans-serif" fill="#000" stroke="#000" stroke-width="0.3" text-anchor="middle" textLength="104.3" lengthAdjust="spacingAndGlyphs">Time [sec]</text>
<line x1="847.8" y1="504.3" x2="873" y2="504.3" stroke="#007f00" stroke-width="2.6"/>
<text x="875.6" y="510.8" font-size="18.5" font-family="'Liberation Sans', Arial, sans-serif" fill="#000" stroke="#000" stroke-width="0.3" textLength="139.2" lengthAdjust="spacingAndGlyphs">NE =4118.7 [nS]</text>
<line x1="847.8" y1="521.6" x2="873" y2="521.6" stroke="#ff0000" stroke-width="2.6"/>
<text x="876.2" y="532" font-size="18.5" font-family="'Liberation Sans', Arial, sans-serif" fill="#000" stroke="#000" stroke-width="0.3" textLength="82.2" lengthAdjust="spacingAndGlyphs">Expiration</text>
<line x1="847.8" y1="538.7" x2="873" y2="538.7" stroke="#0000ff" stroke-width="2.6"/>
<text x="876.2" y="554.4" font-size="18.5" font-family="'Liberation Sans', Arial, sans-serif" fill="#000" stroke="#000" stroke-width="0.3" textLength="85.2" lengthAdjust="spacingAndGlyphs">Inspiration</text>
<polyline points="665.8,1034.2 670.7,1034.2 670.7,1026.1 689,1026.1 689,1041.5 706.2,1041.5 706.2,1030.2 723.3,1030.2 723.3,1024 742.1,1024 742.1,1045.2 759.3,1045.2 759.3,1030.2 794.7,1030.2 794.7,1038.1 813,1038.1 813,1039.8 830.1,1039.8 830.1,1025.9 848.5,1025.9 848.5,1037.7 865.5,1037.7 865.5,1032.3 883.5,1032.3 883.5,1035.8 900.6,1035.8 900.6,1025.9 918.9,1025.9 918.9,1041.5 936.6,1041.5 936.6,1034.2 954.9,1034.2 954.9,1041.5 972,1041.5 972,1028.2 989.2,1028.2 989.2,1024 1008,1024 1008,1045.2 1020.4,1045.2" fill="none" stroke="#0000ff" stroke-width="3.0" stroke-linejoin="round" stroke-linejoin="miter" stroke-linecap="butt"/>
<polyline points="665.8,1085.1 678.2,1085.1 678.2,1088.1 690.6,1088.1 690.6,1092.1 701.9,1092.1 701.9,1085.1 713.1,1085.1 713.1,1086.4 724.9,1086.4 724.9,1090 736.7,1090 736.7,1085.7 748,1085.7 748,1087.8 759.8,1087.8 759.8,1088.1 770.6,1088.1 770.6,1083 782.4,1083 782.4,1089.4 793.6,1089.4 793.6,1089.4 805.4,1089.4 805.4,1086.2 817.3,1086.2 817.3,1093.5 828.5,1093.5 828.5,1091 840.3,1091 840.3,1087.3 851.8,1087.3 851.8,1093.5 864.2,1093.5 864.2,1092.9 876,1092.9 876,1091.4 887.8,1091.4 887.8,1098.6 899.6,1098.6 899.6,1095.3 911.4,1095.3 911.4,1089.6 923.2,1089.6 923.2,1097.8 935,1097.8 935,1096.9 946.8,1096.9 946.8,1093.5 959.2,1093.5 959.2,1097.5 971,1097.5 971,1095.3 982.8,1095.3 982.8,1092.9 994.6,1092.9 994.6,1098.2 1006.9,1098.2 1006.9,1097.5 1018.7,1097.5 1018.7,1095.3 1020.4,1095.3" fill="none" stroke="#ff0000" stroke-width="3.0" stroke-linejoin="round" stroke-linejoin="miter" stroke-linecap="butt"/>
<rect x="666" y="904.6" width="354.3" height="324.45" fill="none" stroke="#000" stroke-width="1.9"/>
<line x1="666" y1="1229.05" x2="666" y2="1236.05" stroke="#000" stroke-width="1.9"/>
<text x="666" y="1257.42" font-size="19.3" font-family="'DejaVu Sans', 'Liberation Sans', sans-serif" fill="#000" stroke="#000" stroke-width="0.3" text-anchor="middle">60</text>
<line x1="754.58" y1="1229.05" x2="754.58" y2="1236.05" stroke="#000" stroke-width="1.9"/>
<text x="754.58" y="1257.42" font-size="19.3" font-family="'DejaVu Sans', 'Liberation Sans', sans-serif" fill="#000" stroke="#000" stroke-width="0.3" text-anchor="middle">65</text>
<line x1="843.15" y1="1229.05" x2="843.15" y2="1236.05" stroke="#000" stroke-width="1.9"/>
<text x="843.15" y="1257.42" font-size="19.3" font-family="'DejaVu Sans', 'Liberation Sans', sans-serif" fill="#000" stroke="#000" stroke-width="0.3" text-anchor="middle">70</text>
<line x1="931.72" y1="1229.05" x2="931.72" y2="1236.05" stroke="#000" stroke-width="1.9"/>
<text x="931.72" y="1257.42" font-size="19.3" font-family="'DejaVu Sans', 'Liberation Sans', sans-serif" fill="#000" stroke="#000" stroke-width="0.3" text-anchor="middle">75</text>
<line x1="1020.3" y1="1229.05" x2="1020.3" y2="1236.05" stroke="#000" stroke-width="1.9"/>
<text x="1020.3" y="1257.42" font-size="19.3" font-family="'DejaVu Sans', 'Liberation Sans', sans-serif" fill="#000" stroke="#000" stroke-width="0.3" text-anchor="middle">80</text>
<line x1="659" y1="1229.05" x2="666" y2="1229.05" stroke="#000" stroke-width="1.9"/>
<text x="652.1" y="1236.09" font-size="19.3" font-family="'DejaVu Sans', 'Liberation Sans', sans-serif" fill="#000" stroke="#000" stroke-width="0.3" text-anchor="end">0</text>
<line x1="659" y1="1164.16" x2="666" y2="1164.16" stroke="#000" stroke-width="1.9"/>
<text x="652.1" y="1171.2" font-size="19.3" font-family="'DejaVu Sans', 'Liberation Sans', sans-serif" fill="#000" stroke="#000" stroke-width="0.3" text-anchor="end">20</text>
<line x1="659" y1="1099.27" x2="666" y2="1099.27" stroke="#000" stroke-width="1.9"/>
<text x="652.1" y="1106.31" font-size="19.3" font-family="'DejaVu Sans', 'Liberation Sans', sans-serif" fill="#000" stroke="#000" stroke-width="0.3" text-anchor="end">40</text>
<line x1="659" y1="1034.38" x2="666" y2="1034.38" stroke="#000" stroke-width="1.9"/>
<text x="652.1" y="1041.42" font-size="19.3" font-family="'DejaVu Sans', 'Liberation Sans', sans-serif" fill="#000" stroke="#000" stroke-width="0.3" text-anchor="end">60</text>
<line x1="659" y1="969.49" x2="666" y2="969.49" stroke="#000" stroke-width="1.9"/>
<text x="652.1" y="976.53" font-size="19.3" font-family="'DejaVu Sans', 'Liberation Sans', sans-serif" fill="#000" stroke="#000" stroke-width="0.3" text-anchor="end">80</text>
<line x1="659" y1="904.6" x2="666" y2="904.6" stroke="#000" stroke-width="1.9"/>
<text x="652.1" y="911.64" font-size="19.3" font-family="'DejaVu Sans', 'Liberation Sans', sans-serif" fill="#000" stroke="#000" stroke-width="0.3" text-anchor="end">100</text>
<line x1="1020.3" y1="1229.05" x2="1027.3" y2="1229.05" stroke="#000" stroke-width="1.9"/>
<text x="1033.7" y="1236.09" font-size="19.3" font-family="'DejaVu Sans', 'Liberation Sans', sans-serif" fill="#000" stroke="#000" stroke-width="0.3">40</text>
<line x1="1020.3" y1="1120.9" x2="1027.3" y2="1120.9" stroke="#000" stroke-width="1.9"/>
<text x="1033.7" y="1127.94" font-size="19.3" font-family="'DejaVu Sans', 'Liberation Sans', sans-serif" fill="#000" stroke="#000" stroke-width="0.3">80</text>
<line x1="1020.3" y1="1012.75" x2="1027.3" y2="1012.75" stroke="#000" stroke-width="1.9"/>
<text x="1033.7" y="1019.79" font-size="19.3" font-family="'DejaVu Sans', 'Liberation Sans', sans-serif" fill="#000" stroke="#000" stroke-width="0.3">120</text>
<line x1="1020.3" y1="904.6" x2="1027.3" y2="904.6" stroke="#000" stroke-width="1.9"/>
<text x="1033.7" y="911.64" font-size="19.3" font-family="'DejaVu Sans', 'Liberation Sans', sans-serif" fill="#000" stroke="#000" stroke-width="0.3">160</text>
<text x="0" y="0" font-size="27.5" font-family="'Liberation Sans', Arial, sans-serif" fill="#000" stroke="#000" stroke-width="0.3" text-anchor="middle" textLength="243.9" lengthAdjust="spacingAndGlyphs" transform="translate(611.3 1077.8) rotate(-90)">Breathing rate [bpm]</text>
<text x="0" y="0" font-size="27.5" font-family="'Liberation Sans', Arial, sans-serif" fill="#000" stroke="#000" stroke-width="0.3" text-anchor="middle" textLength="197.3" lengthAdjust="spacingAndGlyphs" transform="translate(1098.4 1067.6) rotate(-90)">Heart rate [bpm]</text>
<text x="842.9" y="1286.5" font-size="19.6" font-family="'DejaVu Sans', 'Liberation Sans', sans-serif" fill="#000" stroke="#000" stroke-width="0.3" text-anchor="middle" textLength="104.3" lengthAdjust="spacingAndGlyphs">Time [sec]</text>
<line x1="820" y1="919.3" x2="846" y2="919.3" stroke="#0000ff" stroke-width="2.6"/>
<text x="853.6" y="925" font-size="18.5" font-family="'Liberation Sans', Arial, sans-serif" fill="#000" stroke="#000" stroke-width="0.3" textLength="130.8" lengthAdjust="spacingAndGlyphs">BR =60.2 [bpm]</text>
<line x1="820" y1="936.4" x2="846" y2="936.4" stroke="#ff0000" stroke-width="2.6"/>
<text x="852.6" y="947.5" font-size="18.5" font-family="'Liberation Sans', Arial, sans-serif" fill="#000" stroke="#000" stroke-width="0.3" textLength="132.4" lengthAdjust="spacingAndGlyphs">HR =90.8 [bpm]</text>
<polyline points="1251.2,687.27 1251.56,686.4 1251.91,685.63 1252.27,684.81 1252.62,683.69 1252.98,682.31 1253.33,680.93 1253.69,679.7 1254.04,678.45 1254.4,676.97 1254.75,675.27 1255.11,673.64 1255.46,672.21 1255.82,670.85 1256.17,669.3 1256.53,667.62 1256.88,666.08 1257.24,664.82 1257.6,663.68 1257.95,662.44 1258.31,661.12 1258.66,660 1259.02,659.23 1259.37,658.64 1259.73,657.99 1260.08,657.31 1260.44,656.87 1260.79,656.8 1261.15,657.46 1261.5,659.47 1261.86,661.17 1262.21,662.85 1262.57,664.66 1262.92,666.45 1263.28,667.98 1263.64,669.27 1263.99,670.56 1264.35,671.96 1264.7,673.29 1265.06,674.31 1265.41,675.07 1265.77,675.88 1266.12,676.92 1266.48,678.05 1266.83,679.03 1267.19,679.84 1267.54,680.69 1267.9,681.62 1268.25,682.41 1268.61,682.84 1268.97,682.98 1269.32,683.15 1269.68,683.6 1270.03,684.2 1270.39,684.77 1270.74,685.29 1271.1,685.96 1271.45,686.82 1271.81,687.58 1272.16,687.94 1272.52,687.91 1272.87,687.77 1273.23,687.77 1273.58,687.84 1273.94,687.87 1274.29,687.94 1274.65,688.32 1275.01,689.09 1275.36,689.96 1275.72,690.55 1276.07,690.76 1276.43,690.78 1276.78,690.75 1277.14,690.59 1277.49,690.17 1277.85,689.69 1278.2,689.52 1278.56,689.87 1278.91,690.55 1279.27,691.2 1279.62,691.71 1279.98,692.15 1280.33,692.55 1280.69,691.33 1281.05,690.75 1281.4,689.92 1281.76,689.1 1282.11,688.43 1282.47,687.74 1282.82,686.8 1283.18,685.62 1283.53,684.47 1283.89,683.49 1284.24,682.53 1284.6,681.33 1284.95,679.93 1285.31,678.6 1285.66,677.48 1286.02,676.4 1286.37,675.13 1286.73,673.71 1287.09,672.38 1287.44,671.31 1287.8,670.32 1288.15,669.18 1288.51,667.91 1288.86,666.8 1289.22,665.97 1289.57,665.26 1289.93,664.43 1290.28,663.52 1290.64,662.78 1290.99,662.35 1291.35,662.07 1291.7,661.7 1292.06,661.25 1292.41,661 1292.77,661.07 1293.13,662.85 1293.48,664.32 1293.84,665.46 1294.19,666.53 1294.55,667.71 1294.9,668.9 1295.26,669.94 1295.61,670.91 1295.97,672.07 1296.32,673.51 1296.68,674.96 1297.03,676.05 1297.39,676.71 1297.74,677.14 1298.1,677.53 1298.45,677.81 1298.81,677.91 1299.17,678.02 1299.52,678.53 1299.88,679.59 1300.23,680.98 1300.59,682.21 1300.94,683.08 1301.3,683.71 1301.65,684.16 1302.01,684.28 1302.36,683.98 1302.72,683.45 1303.07,683.15 1303.43,683.36 1303.78,683.98 1304.14,684.71 1304.5,685.46 1304.85,686.31 1305.21,687.2 1305.56,687.83 1305.92,687.91 1306.27,687.49 1306.63,686.97 1306.98,686.65 1307.34,686.53 1307.69,686.5 1308.05,686.62 1308.4,687.11 1308.76,687.98 1309.11,688.9 1309.47,689.46 1309.82,689.57 1310.18,689.45 1310.54,689.28 1310.89,689.01 1311.25,688.54 1311.6,688.05 1311.96,687.89 1312.31,688.24 1312.67,688.88 1313.02,689.46 1313.38,689.86 1313.73,690.2 1314.09,690.53 1314.44,689.52 1314.8,688.97 1315.15,688.19 1315.51,687.44 1315.86,686.85 1316.22,686.24 1316.58,685.39 1316.93,684.31 1317.29,683.27 1317.64,682.41 1318,681.56 1318.35,680.47 1318.71,679.18 1319.06,677.95 1319.42,676.93 1319.77,675.93 1320.13,674.73 1320.48,673.35 1320.84,672.05 1321.19,670.99 1321.55,669.98 1321.9,668.8 1322.26,667.47 1322.62,666.26 1322.97,665.3 1323.33,664.43 1323.68,663.41 1324.04,662.27 1324.39,661.27 1324.75,660.55 1325.1,659.95 1325.46,659.21 1325.81,658.38 1326.17,657.71 1326.52,657.34 1326.88,657.1 1327.23,656.75 1327.59,656.31 1327.94,656.04 1328.3,656.08 1328.66,657 1329.01,658.43 1329.37,659.62 1329.72,660.85 1330.08,662.25 1330.43,663.66 1330.79,664.85 1331.14,665.81 1331.5,666.8 1331.85,667.95 1332.21,669.07 1332.56,669.91 1332.92,670.53 1333.27,671.17 1333.63,672.01 1333.98,672.89 1334.34,673.59 1334.7,674.13 1335.05,674.78 1335.41,675.66 1335.76,676.56 1336.12,677.22 1336.47,677.63 1336.83,678 1337.18,678.51 1337.54,678.99 1337.89,679.24 1338.25,679.33 1338.6,679.56 1338.96,680.09 1339.31,680.74 1339.67,681.25 1340.03,681.61 1340.38,682.02 1340.74,682.58 1341.09,683.07 1341.45,683.23 1341.8,683.12 1342.16,683.04 1342.51,683.17 1342.87,683.42 1343.22,683.57 1343.58,683.68 1343.93,683.98 1344.29,684.57 1344.64,685.2 1345,685.56 1345.35,685.61 1345.71,685.59 1346.07,685.66 1346.42,685.68 1346.78,685.49 1347.13,685.2 1347.49,685.12 1347.84,685.44 1348.2,685.95 1348.55,686.36 1348.91,686.62 1349.26,686.89 1349.62,687.24 1349.97,687.44 1350.33,687.28 1350.68,686.82 1351.04,686.43 1351.39,686.32 1351.75,686.42 1352.11,686.53 1352.46,687.11 1352.82,686.48 1353.17,685.99 1353.53,685.49 1353.88,684.72 1354.24,683.72 1354.59,682.73 1354.95,681.91 1355.3,681.09 1355.66,680.02 1356.01,678.73 1356.37,677.48 1356.72,676.42 1357.08,675.37 1357.43,674.11 1357.79,672.66 1358.15,671.28 1358.5,670.11 1358.86,668.99 1359.21,667.69 1359.57,666.22 1359.92,664.86 1360.28,663.75 1360.63,662.72 1360.99,661.53 1361.34,660.22 1361.7,659.04 1362.05,658.14 1362.41,657.36 1362.76,656.44 1363.12,655.43 1363.47,654.58 1363.83,654.03 1364.19,653.61 1364.54,653.09 1364.9,652.48 1365.25,652.06 1365.61,651.95 1365.96,651.98 1366.32,651.92 1366.67,654.09 1367.03,656.21 1367.38,658.38 1367.74,660.38 1368.09,662 1368.45,663.3 1368.8,664.61 1369.16,666.15 1369.51,667.81 1369.87,669.35 1370.23,670.76 1370.58,672.19 1370.94,673.67 1371.29,674.94 1371.65,675.68 1372,675.95 1372.36,676.11 1372.71,676.5 1373.07,677.11 1373.42,677.78 1373.78,678.55 1374.13,679.6 1374.49,680.91 1374.84,682.17 1375.2,682.97 1375.56,683.27 1375.91,683.32 1376.27,683.33 1376.62,683.28 1376.98,683.1 1377.33,682.94 1377.69,683.17 1378.04,683.91 1378.4,684.92 1378.75,685.8 1379.11,686.41 1379.46,686.87 1379.82,687.22 1380.17,687.3 1380.53,686.94 1380.88,686.31 1381.24,685.84 1381.6,685.82 1381.95,686.16 1382.31,686.6 1382.66,687.1 1383.02,687.75 1383.37,688.53 1383.73,689.13 1384.08,689.21 1384.44,688.8 1384.79,687.34 1385.15,686.85 1385.5,686.34 1385.86,685.55 1386.21,684.53 1386.57,683.52 1386.92,682.68 1387.28,681.82 1387.64,680.72 1387.99,679.4 1388.35,678.13 1388.7,677.05 1389.06,675.99 1389.41,674.71 1389.77,673.26 1390.12,671.89 1390.48,670.74 1390.83,669.66 1391.19,668.41 1391.54,667.01 1391.9,665.74 1392.25,664.73 1392.61,663.82 1392.96,662.78 1393.32,661.64 1393.68,660.65 1394.03,659.96 1394.39,659.41 1394.74,658.75 1395.1,658.01 1395.45,657.46 1395.81,657.23 1396.16,657.14 1396.52,656.97 1396.87,656.73 1397.23,658.97 1397.58,661.23 1397.94,663.36 1398.29,665.14 1398.65,666.65 1399,668.2 1399.36,669.97 1399.72,671.79 1400.07,673.38 1400.43,674.71 1400.78,675.97 1401.14,677.25 1401.49,678.35 1401.85,679.08 1402.2,679.52 1402.56,680.04 1402.91,680.85 1403.27,681.88 1403.62,682.84 1403.98,683.67 1404.33,684.54 1404.69,685.52 1405.04,686.37 1405.4,686.84 1405.76,686.97 1406.11,687.08 1406.47,687.39 1406.82,687.79 1407.18,688.1 1407.53,688.34 1407.89,688.75 1408.24,689.41 1408.6,690.1 1408.95,690.52 1409.31,690.66 1409.66,690.78 1410.02,691.03 1410.37,691.28 1410.73,691.33 1411.08,691.25 1411.44,691.3 1411.8,691.62 1412.15,692.03 1412.51,692.25 1412.86,692.29 1413.22,692.38 1413.57,692.65 1413.93,692.95 1414.28,693.04 1414.64,692.94 1414.99,692.93 1415.35,692.44 1415.7,691.98 1416.06,691.25 1416.41,690.28 1416.77,689.33 1417.13,688.53 1417.48,687.72 1417.84,686.66 1418.19,685.37 1418.55,684.12 1418.9,683.04 1419.26,681.98 1419.61,680.69 1419.97,679.21 1420.32,677.78 1420.68,676.57 1421.03,675.4 1421.39,674.03 1421.74,672.5 1422.1,671.07 1422.45,669.87 1422.81,668.76 1423.17,667.48 1423.52,666.08 1423.88,664.8 1424.23,663.8 1424.59,662.91 1424.94,661.89 1425.3,660.76 1425.65,659.8 1426.01,659.14 1426.36,658.61 1426.72,657.98 1427.07,657.26 1427.43,656.73 1427.78,656.51 1428.14,656.44 1428.49,656.28 1428.85,656.04 1429.21,657.91 1429.56,659.84 1429.92,661.69 1430.27,663.25 1430.63,664.6 1430.98,666.05 1431.34,667.74 1431.69,669.47 1432.05,670.92 1432.4,672.03 1432.76,673 1433.11,673.93 1433.47,674.68 1433.82,675.13 1434.18,675.43 1434.53,675.97 1434.89,677 1435.25,678.35 1435.6,679.68 1435.96,680.79 1436.31,681.75 1436.67,682.57 1437.02,683.04 1437.38,682.97 1437.73,682.55 1438.09,682.23 1438.44,682.34 1438.8,682.84 1439.15,683.51 1439.51,684.32 1439.86,685.34 1440.22,686.5 1440.57,687.42 1440.93,687.75 1441.29,687.48 1441.64,686.96 1442,686.51 1442.35,686.18 1442.71,685.95 1443.06,685.95 1443.42,686.46 1443.77,687.49 1444.13,688.69 1444.48,689.57 1444.84,689.95 1445.19,689.97 1445.55,689.76 1445.9,689.29 1446.26,688.52 1446.61,687.72 1446.97,687.34 1447.33,687.65 1447.68,688.43 1448.04,689.32 1448.39,690.11 1448.75,688.87 1449.1,688.42 1449.46,687.95 1449.81,687.22 1450.17,686.26 1450.52,685.33 1450.88,684.56 1451.23,683.79 1451.59,682.78 1451.94,681.55 1452.3,680.36 1452.66,679.37 1453.01,678.39 1453.37,677.2 1453.72,675.81 1454.08,674.5 1454.43,673.41 1454.79,672.36 1455.14,671.13 1455.5,669.73 1455.85,668.44 1456.21,667.4 1456.56,666.43 1456.92,665.31 1457.27,664.06 1457.63,662.94 1457.98,662.1 1458.34,661.37 1458.7,660.5 1459.05,659.54 1459.41,658.73 1459.76,658.21 1460.12,657.83 1460.47,657.33 1460.83,656.75 1461.18,656.34 1461.54,656.25 1461.89,656.29 1462.25,656.23 1462.6,657.82 1462.96,659.32 1463.31,660.89 1463.67,662.42 1464.02,663.74 1464.38,664.94 1464.74,666.29 1465.09,667.89 1465.45,669.48 1465.8,670.73 1466.16,671.55 1466.51,672.19 1466.87,672.81 1467.22,673.35 1467.58,673.71 1467.93,674.05 1468.29,674.72 1468.64,675.87 1469,677.25 1469.35,678.41 1469.71,679.2 1470.06,679.76 1470.42,680.21 1470.78,680.44 1471.13,680.34 1471.49,680.08 1471.84,680.07 1472.2,680.52 1472.55,681.27 1472.91,682 1473.26,682.61 1473.62,683.22 1473.97,683.86 1474.33,684.29 1474.68,684.29 1475.04,683.97 1475.39,683.7 1475.75,683.73 1476.1,683.99 1476.46,684.25 1476.82,684.5 1477.17,684.91 1477.53,685.51 1477.88,686.04 1478.24,686.2 1478.59,686.01 1478.95,685.78 1479.3,685.75 1479.66,685.82 1480.01,685.82 1480.37,685.8 1480.72,685.99 1481.08,686.46 1481.43,686.94 1481.79,687.13 1482.14,687 1482.5,686.36 1482.86,686.04 1483.21,685.7 1483.57,685.11 1483.92,684.29 1484.28,683.51 1484.63,682.9 1484.99,682.3 1485.34,681.45 1485.7,680.4 1486.05,679.4 1486.41,678.59 1486.76,677.8 1487.12,676.8 1487.47,675.61 1487.83,674.5 1488.19,673.61 1488.54,672.77 1488.9,671.74 1489.25,670.56 1489.61,669.48 1489.96,668.64 1490.32,667.89 1490.67,666.98 1491.03,665.94 1491.38,665.03 1491.74,664.39 1492.09,663.86 1492.45,663.19 1492.8,662.42 1493.16,661.8 1493.51,661.47 1493.87,661.26 1494.23,660.94 1494.58,660.52 1494.94,660.26 1495.29,660.31 1495.65,661.06 1496,662.19 1496.36,663.14 1496.71,664.19 1497.07,665.48 1497.42,666.79 1497.78,667.82 1498.13,668.53 1498.49,669.16 1498.84,669.86 1499.2,670.52 1499.55,671 1499.91,671.43 1500.27,672.13 1500.62,673.26 1500.98,674.58 1501.33,675.7 1501.69,676.49 1502.04,677.06 1502.4,677.48 1502.75,677.59 1503.11,677.31 1503.46,676.85 1503.82,676.71 1504.17,677.23 1504.53,678.3 1504.88,679.51 1505.24,680.65 1505.59,681.7 1505.95,682.59 1506.31,683.01 1506.66,682.74 1507.02,681.95 1507.37,681.15 1507.73,680.77 1508.08,680.85 1508.44,681.26 1508.79,681.98 1509.15,683.09 1509.5,684.45 1509.86,685.61 1510.21,686.1 1510.57,685.86 1510.92,685.21 1511.28,684.48 1511.63,683.81 1511.99,683.22 1512.35,682.96 1512.7,683.34 1513.06,684.43 1513.41,685.81 1513.77,686.94 1514.12,687.57 1514.48,687.76 1514.83,687.58 1515.19,687 1515.54,685.99 1515.9,684.91 1516.25,684.28 1516.61,684.41 1516.96,685.17 1517.32,686.16 1517.67,687.16 1518.03,688.1 1518.39,688.86 1518.74,689.11 1519.1,688.6 1519.45,687.52 1519.81,686.4 1520.16,685.67 1520.52,685.42 1520.87,685.54 1521.23,686.02 1521.58,687.08 1521.94,686.81 1522.29,686.55 1522.65,686.05 1523,685.33 1523.36,684.67 1523.72,684.18 1524.07,683.71 1524.43,683 1524.78,682.1 1525.14,681.25 1525.49,680.59 1525.85,679.96 1526.2,679.11 1526.56,678.07 1526.91,677.11 1527.27,676.35 1527.62,675.64 1527.98,674.73 1528.33,673.64 1528.69,672.64 1529.04,671.88 1529.4,671.17 1529.76,670.28 1530.11,669.24 1530.47,668.31 1530.82,667.63 1531.18,667.02 1531.53,666.25 1531.89,665.35 1532.24,664.57 1532.6,664.05 1532.95,663.63 1533.31,663.06 1533.66,662.37 1534.02,661.82 1534.37,661.54 1534.73,661.37 1535.08,661.06 1535.44,660.64 1535.8,660.36 1536.15,660.37 1536.51,660.48 1536.86,661.26 1537.22,662.6 1537.57,663.97 1537.93,665.56 1538.28,667.21 1538.64,668.64 1538.99,669.84 1539.35,670.98 1539.7,672.16 1540.06,673.21 1540.41,673.92 1540.77,674.42 1541.12,675.04 1541.48,676 1541.84,677.16 1542.19,678.24 1542.55,679.17 1542.9,680.09 1543.26,681.03 1543.61,681.75 1543.97,682.03 1544.32,681.99 1544.68,682.04 1545.03,682.45 1545.39,683.11 1545.74,683.77 1546.1,684.39 1546.45,685.1 1546.81,685.91 1547.16,686.57 1547.52,686.8 1547.88,686.66 1548.23,686.52 1548.59,686.63 1548.94,686.92 1549.3,687.21 1549.65,687.52 1550.01,688.03 1550.36,688.75 1550.72,689.4 1551.07,689.66 1551.43,689.51 1551.78,689.28 1552.14,689.19 1552.49,689.2 1552.85,689.19 1553.2,689.23 1553.56,689.57 1553.92,690.27 1554.27,691.01 1554.63,691.43 1554.98,691.43 1555.34,691.25 1555.69,691.07 1556.05,690.84 1556.4,690.48 1556.76,690.14 1557.11,690.17 1557.47,690.7 1557.82,691.49 1558.18,692.13 1558.53,692.47 1558.89,692.63 1559.25,691.06 1559.6,690.62 1559.96,689.9 1560.31,688.95 1560.67,688.01 1561.02,687.23 1561.38,686.44 1561.73,685.4 1562.09,684.13 1562.44,682.9 1562.8,681.85 1563.15,680.81 1563.51,679.54 1563.86,678.08 1564.22,676.68 1564.57,675.49 1564.93,674.35 1565.29,673.01 1565.64,671.5 1566,670.09 1566.35,668.92 1566.71,667.83 1567.06,666.58 1567.42,665.2 1567.77,663.94 1568.13,662.97 1568.48,662.09 1568.84,661.09 1569.19,659.98 1569.55,659.04 1569.9,658.39 1570.26,657.88 1570.61,657.25 1570.97,656.55 1571.33,656.02 1571.68,655.81 1572.04,655.75 1572.39,655.59 1572.75,655.35 1573.1,657.27 1573.46,659.27 1573.81,661.3 1574.17,663.17 1574.52,664.93 1574.88,666.75 1575.23,668.66 1575.59,670.36 1575.94,671.5 1576.3,672.11 1576.65,672.54 1577.01,673.12 1577.37,673.89 1577.72,674.8 1578.08,675.97 1578.43,677.58 1578.79,679.57 1579.14,681.47 1579.5,682.65 1579.85,682.99 1580.21,682.83 1580.56,682.49 1580.92,682.12 1581.27,681.79 1581.63,681.77 1581.98,682.41 1582.34,683.78 1582.69,685.5 1583.05,687 1583.41,688 1583.76,688.53 1584.12,688.67 1584.47,688.32 1584.83,687.5 1585.18,686.53 1585.54,685.97 1585.89,686.17 1586.25,687 1586.6,688.1 1586.96,689.23 1587.31,690.36 1587.67,691.32 1588.02,691.77 1588.38,691.44 1588.73,690.5 1589.09,689.46 1589.45,688.78 1589.8,688.53 1590.16,688.64 1590.51,689.11 1590.87,690.05 1591.22,691.33 1591.58,692.48 1591.93,693.02 1592.29,690.75 1592.64,690.14 1593,689.7 1593.35,689.26 1593.71,688.56 1594.06,687.64 1594.42,686.75 1594.78,686.04 1595.13,685.33 1595.49,684.38 1595.84,683.23 1596.2,682.12 1596.55,681.2 1596.91,680.31 1597.26,679.2 1597.62,677.89 1597.97,676.66 1598.33,675.64 1598.68,674.67 1599.04,673.5 1599.39,672.16 1599.75,670.92 1600.1,669.92 1600.46,668.98 1600.82,667.87 1601.17,666.63 1601.53,665.5 1601.88,664.63 1602.24,663.85 1602.59,662.93 1602.95,661.89 1603.3,660.99 1603.66,660.37 1604.01,659.86 1604.37,659.22 1604.72,658.47 1605.08,657.89 1605.43,657.6 1605.79,657.43 1606.14,657.15 1606.5,656.77" fill="none" stroke="#007f00" stroke-width="2.8" stroke-linejoin="round"/>
<line x1="1251.2" y1="812.75" x2="1606.5" y2="812.75" stroke="#ff0000" stroke-width="2.8"/>
<line x1="1259.99" y1="812.75" x2="1280.51" y2="812.75" stroke="#0000ff" stroke-width="2.8"/>
<line x1="1291.7" y1="812.75" x2="1314.27" y2="812.75" stroke="#0000ff" stroke-width="2.8"/>
<line x1="1327.41" y1="812.75" x2="1352.46" y2="812.75" stroke="#0000ff" stroke-width="2.8"/>
<line x1="1365.25" y1="812.75" x2="1384.44" y2="812.75" stroke="#0000ff" stroke-width="2.8"/>
<line x1="1395.81" y1="812.75" x2="1414.99" y2="812.75" stroke="#0000ff" stroke-width="2.8"/>
<line x1="1427.78" y1="812.75" x2="1448.39" y2="812.75" stroke="#0000ff" stroke-width="2.8"/>
<line x1="1461.18" y1="812.75" x2="1482.32" y2="812.75" stroke="#0000ff" stroke-width="2.8"/>
<line x1="1494.4" y1="812.75" x2="1521.41" y2="812.75" stroke="#0000ff" stroke-width="2.8"/>
<line x1="1535.62" y1="812.75" x2="1558.89" y2="812.75" stroke="#0000ff" stroke-width="2.8"/>
<line x1="1571.68" y1="812.75" x2="1592.11" y2="812.75" stroke="#0000ff" stroke-width="2.8"/>
<line x1="1606.14" y1="812.75" x2="1606.5" y2="812.75" stroke="#0000ff" stroke-width="2.8"/>
<polyline points="1280.28,813.25 1280.55,701.72 1280.71,711.3 1280.73,712.72 1281.12,813.25" fill="none" stroke="#ff0000" stroke-width="2.8" stroke-linejoin="round"/>
<polyline points="1306.72,813.25 1306.98,700.7 1307.14,700.04 1307.3,702.75 1307.46,707.82 1307.62,712.1 1307.78,713.21 1307.94,711.45 1308.1,708.98 1308.26,707.3 1308.42,706.15 1308.58,704.76 1308.74,703.6 1308.9,704.44 1309.06,708.29 1309.22,713.92 1309.38,718.51 1309.54,719.88 1309.7,717.98 1309.86,714.28 1310.02,710.33 1310.18,707.03 1310.34,705.18 1310.5,705.86 1310.66,709.74 1310.82,716.01 1310.98,722.23 1311.14,725.8 1311.3,725.55 1311.46,722.17 1311.62,717.24 1311.78,712.28 1311.94,708.55 1312.1,707.31 1312.26,709.66 1312.42,715.59 1312.58,723.42 1312.74,730.26 1312.9,733.44 1313.06,731.82 1313.22,726.13 1313.38,718.56 1314.27,813.25" fill="none" stroke="#ff0000" stroke-width="2.8" stroke-linejoin="round"/>
<polyline points="1345.98,813.25 1346.24,702.71 1346.4,702.56 1346.56,704.59 1346.72,708.69 1346.88,713.02 1347.04,715.09 1347.2,714.02 1347.36,711.22 1347.52,708.75 1347.68,707.26 1347.84,706.13 1348,705.38 1348.16,706.41 1348.32,710.36 1348.48,716.01 1348.64,720.37 1348.8,721.32 1348.96,719.31 1349.12,716.15 1349.28,712.87 1349.44,709.53 1349.6,706.82 1349.76,706.77 1349.92,710.9 1350.08,718.14 1350.24,725.02 1350.4,728.4 1350.56,727.53 1350.72,723.75 1350.88,718.83 1351.04,714.04 1351.2,710.52 1351.36,709.58 1351.52,712.04 1351.68,717.57 1351.84,724.77 1352,731.64 1352.16,735.86 1352.32,735.29 1352.46,730.17 1353.35,813.25" fill="none" stroke="#ff0000" stroke-width="2.8" stroke-linejoin="round"/>
<polyline points="1376.35,813.25 1376.62,705.97 1376.78,707.07 1376.94,708.6 1377.1,710.97 1377.26,714.17 1377.42,716.94 1377.58,717.52 1377.74,715.39 1377.9,711.9 1378.06,709.08 1378.22,707.96 1378.38,708.41 1378.54,710.13 1378.7,713.31 1378.86,717.83 1379.02,722.29 1379.18,724.45 1379.34,723.01 1379.5,718.84 1379.66,714.27 1379.82,711.16 1379.98,710.1 1380.14,711.06 1380.3,714.24 1380.46,719.68 1380.62,726.03 1380.78,730.56 1380.94,730.93 1381.1,727.08 1381.26,721.24 1381.42,716.04 1381.58,712.9 1381.74,712.24 1381.9,714.45 1382.06,719.91 1382.22,727.71 1382.38,734.95 1382.54,738.21 1382.7,736 1382.86,729.84 1383.02,722.82 1383.9,813.25" fill="none" stroke="#ff0000" stroke-width="2.8" stroke-linejoin="round"/>
<polyline points="1405.49,813.25 1405.76,710.17 1405.92,710.57 1406.08,711.59 1406.24,714.41 1406.4,718.28 1406.55,720.72 1406.71,720.24 1406.87,717.81 1407.03,715.34 1407.19,713.54 1407.35,712 1407.51,711.1 1407.67,712.36 1407.83,716.52 1407.99,721.94 1408.15,725.73 1408.31,726.37 1408.47,724.54 1408.63,721.64 1408.79,718.31 1408.95,714.91 1409.11,712.71 1409.27,713.42 1409.43,717.45 1409.59,723.2 1409.75,728.4 1409.91,731.63 1410.07,732.32 1410.23,730 1410.39,724.77 1410.55,718.47 1410.71,714.37 1410.87,714.68 1411.03,718.71 1411.19,724.06 1411.35,729.23 1411.51,734.2 1411.67,738.3 1411.83,738.95 1411.99,734 1412.15,725.09 1412.31,717.41 1412.47,715.33 1412.63,718.75 1412.79,724.45 1412.86,727.01 1413.75,813.25" fill="none" stroke="#ff0000" stroke-width="2.8" stroke-linejoin="round"/>
<polyline points="1437.47,813.25 1437.73,712.43 1437.89,712.69 1438.05,714.45 1438.21,717.77 1438.37,721.63 1438.53,724.53 1438.69,725.32 1438.85,723.74 1439.01,720.37 1439.17,716.55 1439.33,714.04 1439.49,714.34 1439.65,717.88 1439.81,723.5 1439.97,729.02 1440.13,732.6 1440.29,733.65 1440.45,732.62 1440.61,730.02 1440.77,726 1440.93,721.1 1441.09,717.2 1441.25,717.11 1441.41,722.54 1441.57,732.07 1441.73,741.43 1441.89,746.17 1442,745.82 1442.88,813.25" fill="none" stroke="#ff0000" stroke-width="2.8" stroke-linejoin="round"/>
<polyline points="1470.86,813.25 1471.13,703.73 1471.29,706.27 1471.45,707.57 1471.61,708.35 1471.77,710.76 1471.93,714.58 1472.09,716.6 1472.25,714.41 1472.41,709.51 1472.57,705.82 1472.73,705.44 1472.89,707.15 1473.05,709.04 1473.21,711.24 1473.37,714.98 1473.53,719.73 1473.69,722.69 1473.85,721.57 1474.01,717.07 1474.17,712.02 1474.33,708.75 1474.49,707.8 1474.65,709.05 1474.81,712.61 1474.97,718.15 1475.13,724 1475.29,727.81 1475.45,728.2 1475.61,725.36 1475.77,720.37 1475.93,714.58 1476.09,709.91 1476.25,708.77 1476.41,712.42 1476.57,719.54 1476.73,726.91 1476.89,731.98 1477.05,734.12 1477.21,733.49 1477.37,729.7 1477.53,722.64 1478.41,813.25" fill="none" stroke="#ff0000" stroke-width="2.8" stroke-linejoin="round"/>
<polyline points="1514.03,813.25 1514.3,699.4 1514.46,702.42 1514.62,704.92 1514.78,706 1514.94,707.34 1515.1,710.03 1515.26,712.27 1515.42,711.25 1515.58,706.89 1515.74,702.48 1515.9,701.21 1516.06,703.08 1516.22,705.84 1516.38,708.22 1516.54,711.05 1516.7,714.93 1516.86,718.09 1517.02,717.74 1517.18,713.41 1517.34,707.84 1517.5,704.44 1517.66,704.23 1517.82,706.03 1517.98,708.9 1518.14,713.14 1518.3,718.65 1518.46,723.34 1518.62,724.31 1518.78,720.72 1518.94,714.73 1519.1,709.51 1519.26,706.73 1519.42,706.41 1519.58,708.55 1519.74,713.54 1519.9,720.72 1520.06,727.4 1520.22,730.31 1520.38,728.22 1520.54,722.73 1520.7,716.47 1520.85,711.21 1521.01,707.96 1521.17,708.03 1521.33,712.61 1521.41,716.01 1522.29,813.25" fill="none" stroke="#ff0000" stroke-width="2.8" stroke-linejoin="round"/>
<polyline points="1551.52,813.25 1551.78,705.9 1551.94,706.2 1552.1,707.95 1552.26,711.61 1552.42,716.02 1552.58,718.75 1552.74,718.2 1552.9,715.12 1553.06,711.92 1553.22,710.29 1553.38,709.95 1553.54,709.9 1553.7,710.45 1553.86,713.27 1554.02,719.04 1554.18,725.54 1554.34,728.83 1554.5,726.67 1554.66,720.68 1554.82,714.81 1554.98,711.88 1555.14,711.89 1555.3,713.58 1555.46,716.69 1555.62,722 1555.78,729.11 1555.94,735.13 1556.1,736.49 1556.26,732.13 1556.42,724.63 1556.58,717.99 1556.74,714.56 1556.76,714.39 1557.65,813.25" fill="none" stroke="#ff0000" stroke-width="2.8" stroke-linejoin="round"/>
<polyline points="1586.34,813.25 1586.6,705.62 1586.76,705.26 1586.92,708.25 1587.08,713.08 1587.24,716.7 1587.4,717.68 1587.56,716.92 1587.72,715.66 1587.88,713.79 1588.04,710.93 1588.2,708.29 1588.36,708.06 1588.52,711.06 1588.68,715.72 1588.84,719.93 1589,723.02 1589.16,725.16 1589.32,725.55 1589.48,722.6 1589.64,716.56 1589.8,710.75 1589.96,709.07 1590.12,712.37 1590.28,718.06 1590.44,723.31 1590.6,727.57 1590.76,731.34 1590.92,733.51 1591.08,731.71 1591.24,725.36 1591.4,717.55 1591.56,712.67 1591.72,712.81 1591.88,716.98 1592.04,723.36 1592.11,726.61 1593,813.25" fill="none" stroke="#ff0000" stroke-width="2.8" stroke-linejoin="round"/>
<polyline points="1269.41,813.25 1269.85,801.46 1270.3,813.25" fill="none" stroke="#ff0000" stroke-width="2.52" stroke-linejoin="round"/>
<polyline points="1276.34,813.25 1276.78,801.46 1277.23,813.25" fill="none" stroke="#ff0000" stroke-width="2.52" stroke-linejoin="round"/>
<polyline points="1445.1,813.25 1445.55,801.46 1445.99,813.25" fill="none" stroke="#ff0000" stroke-width="2.52" stroke-linejoin="round"/>
<polyline points="1469.27,813.25 1469.71,801.46 1470.15,813.25" fill="none" stroke="#ff0000" stroke-width="2.52" stroke-linejoin="round"/>
<polyline points="1506.75,813.25 1507.19,801.46 1507.64,813.25" fill="none" stroke="#ff0000" stroke-width="2.52" stroke-linejoin="round"/>
<polyline points="1584.74,813.25 1585.18,801.46 1585.63,813.25" fill="none" stroke="#ff0000" stroke-width="2.52" stroke-linejoin="round"/>
<polyline points="1251.2,735.31 1251.36,734.28 1251.52,736.88 1251.68,743.77 1251.84,751.07 1252,753.95 1252.16,751.65 1252.32,747.58 1252.48,744.45 1252.64,741.11 1252.8,735.24 1252.96,728.39 1253.12,726.36 1253.28,733.62 1253.44,747.8 1253.6,760.62 1253.76,763.12 1253.92,757.96 1254.08,745.96 1254.24,734.82 1254.4,728.33 1254.56,726.9 1254.72,729.09 1254.88,733.31 1255.04,738.63 1255.2,744.8 1255.36,751.24 1255.52,755.71 1255.68,754.6 1255.84,746.06 1256,733.4 1256.16,724.49 1256.32,725.61 1256.48,735.32 1256.64,745.13 1256.8,747.66 1256.96,743.8 1257.12,740.91 1257.28,743.62 1257.44,747.8 1257.6,745.11 1257.76,733.31 1257.92,720.45 1258.08,717.88 1258.23,727.9 1258.39,743.51 1258.55,753.86 1258.71,755.03 1258.87,750.71 1259.03,745.6 1259.19,740.11 1259.35,732.47 1259.51,724.08 1259.67,720.15 1259.83,724.29 1259.99,734 1260.31,813.25" fill="none" stroke="#0000ff" stroke-width="2.8" stroke-linejoin="round"/>
<polyline points="1280.51,813.25 1280.69,752.25 1280.87,733.19 1281.03,743.58 1281.19,752.52 1281.35,757.17 1281.51,757.7 1281.67,754.84 1281.83,749.16 1281.99,741.63 1282.15,733.51 1282.31,726.44 1282.47,723.5 1282.63,728.5 1282.79,741.91 1282.95,757.27 1283.11,764.02 1283.27,759.88 1283.43,748.47 1283.59,739.86 1283.75,737.1 1283.91,735.62 1284.07,731.89 1284.23,729.7 1284.39,734.98 1284.54,746.15 1284.7,754.13 1284.86,752.78 1285.02,746 1285.18,741.68 1285.34,740.96 1285.5,737.98 1285.66,730.44 1285.82,725.42 1285.98,731.1 1286.14,745.04 1286.3,755.57 1286.46,755.42 1286.62,749.45 1286.78,746.28 1286.94,745.56 1287.1,739.21 1287.26,725.22 1287.42,718.65 1287.58,719.31 1287.74,737.96 1287.9,754.78 1288.06,757.45 1288.22,749.46 1288.38,743.13 1288.54,743.37 1288.7,743.32 1288.86,736.04 1289.02,725.56 1289.18,722.47 1289.34,730.75 1289.5,742.98 1289.66,749.22 1289.82,747.46 1289.98,743.12 1290.14,740.63 1290.3,738.86 1290.46,734.91 1290.62,729.34 1290.78,725.9 1290.94,727.39 1291.1,733.53 1291.26,742.16 1291.42,750.35 1291.58,754.48 1291.7,752.81 1292.02,813.25" fill="none" stroke="#0000ff" stroke-width="2.8" stroke-linejoin="round"/>
<polyline points="1314.27,813.25 1314.44,752.25 1314.62,751.14 1314.78,752.96 1314.94,753.85 1315.1,756.12 1315.26,756.99 1315.42,751.45 1315.58,738.59 1315.74,724.67 1315.9,720.85 1316.06,725.59 1316.22,740.68 1316.38,754.72 1316.54,760.58 1316.7,757.96 1316.86,751.57 1317.02,745.71 1317.18,741.16 1317.34,736.71 1317.5,732.6 1317.66,731.44 1317.82,735.42 1317.98,743.25 1318.14,750.43 1318.3,752.98 1318.46,750.54 1318.62,745.9 1318.78,741.58 1318.94,737.65 1319.1,733.05 1319.26,728.77 1319.42,728.49 1319.58,735.38 1319.74,747.86 1319.9,759.26 1320.06,761.84 1320.22,755.46 1320.38,742.97 1320.54,732.19 1320.7,727.2 1320.86,727.13 1321.02,729.05 1321.18,732.05 1321.34,737.6 1321.5,746.33 1321.66,755.01 1321.82,757.96 1321.98,751.96 1322.14,739.94 1322.3,729.28 1322.46,726.06 1322.62,730.45 1322.78,737.47 1322.94,742.04 1323.09,743.19 1323.25,743.54 1323.41,745.27 1323.57,747.12 1323.73,745.55 1323.89,738.83 1324.05,729.56 1324.21,723.23 1324.37,723.94 1324.53,731.54 1324.69,742.15 1324.85,751.14 1325.01,755.46 1325.17,754.14 1325.33,747.66 1325.49,737.76 1325.65,727.69 1325.81,721.53 1325.97,721.97 1326.13,728.37 1326.29,736.96 1326.45,743.61 1326.61,746.65 1326.77,747.04 1326.93,746.09 1327.09,743.44 1327.25,737.88 1327.41,730.13 1327.73,813.25" fill="none" stroke="#0000ff" stroke-width="2.8" stroke-linejoin="round"/>
<polyline points="1352.46,813.25 1352.64,752.25 1352.82,748.9 1352.98,751.53 1353.14,759.06 1353.3,760.39 1353.46,747.52 1353.62,726.72 1353.78,720.95 1353.93,720.89 1354.09,737.99 1354.25,754.79 1354.41,760.33 1354.57,756.71 1354.73,751.57 1354.89,748.63 1355.05,745.61 1355.21,739.97 1355.37,733.59 1355.53,730.78 1355.69,733.3 1355.85,739.09 1356.01,745.32 1356.17,750.69 1356.33,754.14 1356.49,753.19 1356.65,746.09 1356.81,735.47 1356.97,727.94 1357.13,728.26 1357.29,734.61 1357.45,740.98 1357.61,744.21 1357.77,746.94 1357.93,752.51 1358.09,758.34 1358.25,757.02 1358.41,744.96 1358.57,728.29 1358.73,719.22 1358.89,720.85 1359.05,731.56 1359.21,741.76 1359.37,747.46 1359.53,750.82 1359.69,753.79 1359.85,753.56 1360.01,746.38 1360.17,734.6 1360.33,726.55 1360.49,728.12 1360.65,735.96 1360.81,741.32 1360.97,740.42 1361.13,738.6 1361.29,742.69 1361.45,750.96 1361.61,753.51 1361.77,743.69 1361.93,727.22 1362.09,718.05 1362.25,722.34 1362.41,735.85 1362.57,746.19 1362.73,747.88 1362.89,745.85 1363.05,747.01 1363.21,750.66 1363.37,749.36 1363.53,738.66 1363.69,723.78 1363.85,717.44 1364.01,719.03 1364.17,731.42 1364.33,743.96 1364.49,750.77 1364.65,751.2 1364.81,747.3 1364.97,741.05 1365.13,734.51 1365.25,730.92 1365.57,813.25" fill="none" stroke="#0000ff" stroke-width="2.8" stroke-linejoin="round"/>
<polyline points="1384.44,813.25 1384.62,752.25 1384.79,744.45 1384.95,749.55 1385.11,753.21 1385.27,745.52 1385.43,729.62 1385.59,720.95 1385.75,727.66 1385.91,746.37 1386.07,760.83 1386.23,762.06 1386.39,754.98 1386.55,749.43 1386.71,747.51 1386.87,743.02 1387.03,732.4 1387.19,721.99 1387.35,721.74 1387.51,733.43 1387.67,748.22 1387.83,756.29 1387.99,756.21 1388.15,753.17 1388.31,750.15 1388.47,744.74 1388.63,735.33 1388.79,727.03 1388.95,727.51 1389.11,737.22 1389.27,747.27 1389.43,749.09 1389.59,744.36 1389.75,742.31 1389.91,747.09 1390.07,751.37 1390.23,745.11 1390.39,729.33 1390.55,719.01 1390.71,721.33 1390.87,738.14 1391.03,753.43 1391.19,756.79 1391.35,751.39 1391.51,747.15 1391.67,747.24 1391.83,745.12 1391.99,735.04 1392.15,721.75 1392.31,718.32 1392.47,725.14 1392.63,740.17 1392.79,750.51 1392.95,751.95 1393.11,748.98 1393.27,746.42 1393.43,743.25 1393.59,736.44 1393.75,728.19 1393.91,725.37 1394.07,731.1 1394.23,739.85 1394.39,743.53 1394.55,741.28 1394.71,739.97 1394.87,744.26 1395.03,748.9 1395.19,744.38 1395.35,729.7 1395.51,717.06 1395.66,717 1395.81,728.46 1396.13,813.25" fill="none" stroke="#0000ff" stroke-width="2.8" stroke-linejoin="round"/>
<polyline points="1414.99,813.25 1415.17,752.25 1415.35,754.18 1415.51,736.8 1415.67,722.36 1415.83,721.11 1415.99,731.72 1416.15,744.04 1416.31,749.62 1416.47,749.91 1416.63,751.37 1416.79,755.26 1416.95,755.53 1417.11,747.23 1417.27,734.48 1417.43,727.26 1417.59,730.85 1417.75,740.44 1417.91,747.33 1418.07,748.46 1418.23,747.96 1418.39,749.84 1418.55,751.95 1418.71,748.78 1418.87,739.04 1419.03,728.35 1419.19,723.93 1419.35,728.01 1419.51,737.21 1419.67,747.04 1419.83,755.03 1419.99,759.62 1420.15,758.59 1420.31,750.74 1420.46,738.79 1420.62,728.72 1420.78,725.01 1420.94,727.3 1421.1,732.31 1421.26,738.14 1421.42,745.07 1421.58,752.23 1421.74,755.56 1421.9,751.29 1422.06,741.13 1422.22,732.12 1422.38,729.99 1422.54,733.63 1422.7,737.24 1422.86,737.75 1423.02,738.28 1423.18,743.18 1423.34,751.05 1423.5,754.68 1423.66,748.66 1423.82,735.83 1423.98,724.96 1424.14,722.32 1424.3,726.81 1424.46,733.31 1424.62,738.99 1424.78,744.93 1424.94,751.83 1425.1,756.45 1425.26,753.96 1425.42,743.53 1425.58,730.45 1425.74,722 1425.9,721.69 1426.06,727.61 1426.22,735.44 1426.38,741.99 1426.54,746.06 1426.7,747.29 1426.86,745.6 1427.02,741.61 1427.18,736.78 1427.34,732.45 1427.5,729.35 1427.66,728.17 1427.78,729.36 1428.1,813.25" fill="none" stroke="#0000ff" stroke-width="2.8" stroke-linejoin="round"/>
<polyline points="1448.39,813.25 1448.57,752.25 1448.75,729.52 1448.91,721.22 1449.07,721.17 1449.23,733.46 1449.39,753.22 1449.55,763.22 1449.71,759.39 1449.87,748.49 1450.03,741.02 1450.19,741.76 1450.35,746.3 1450.51,746.41 1450.67,738.92 1450.83,729.5 1450.99,727.75 1451.15,738.01 1451.3,754.42 1451.46,763.93 1451.62,761.51 1451.78,746.18 1451.94,729.87 1452.1,723.02 1452.26,727.63 1452.42,737.07 1452.58,743.18 1452.74,743.74 1452.9,743.43 1453.06,747.75 1453.22,756.17 1453.38,761.35 1453.54,755.68 1453.7,739.12 1453.86,720.98 1454.02,719.44 1454.18,721.33 1454.34,739.35 1454.5,755.04 1454.66,759.2 1454.82,752.13 1454.98,741.98 1455.14,736.9 1455.3,738.39 1455.46,741.27 1455.62,739.79 1455.78,733.75 1455.94,728.9 1456.1,731.5 1456.26,742.03 1456.42,753.94 1456.58,758.63 1456.74,752.23 1456.9,738.6 1457.06,726.09 1457.22,721.29 1457.38,724.9 1457.54,732.68 1457.7,739.84 1457.86,744.58 1458.02,747.96 1458.18,751.02 1458.34,752.48 1458.5,749.51 1458.66,740.89 1458.82,729.33 1458.98,720.58 1459.14,719.67 1459.3,727.29 1459.46,739.16 1459.62,748.88 1459.78,752 1459.94,748.38 1460.1,741.4 1460.26,735.14 1460.42,731.83 1460.58,731.22 1460.74,731.84 1460.9,732.76 1461.06,734.33 1461.18,736.62 1461.5,813.25" fill="none" stroke="#0000ff" stroke-width="2.8" stroke-linejoin="round"/>
<polyline points="1482.32,813.25 1482.5,752.25 1482.68,722.82 1482.84,728.63 1483,743.09 1483.16,754.58 1483.32,755.3 1483.48,749.46 1483.64,746.7 1483.8,749.2 1483.96,749.43 1484.12,741.32 1484.28,729.94 1484.44,726.51 1484.6,735.21 1484.76,748.38 1484.92,755.6 1485.08,754.55 1485.24,750.76 1485.4,748.51 1485.56,745.82 1485.72,738.97 1485.88,729.34 1486.04,723.17 1486.2,725.42 1486.36,735.38 1486.52,748.17 1486.68,758.42 1486.83,762.25 1486.99,757.96 1487.15,747.3 1487.31,735.66 1487.47,728.84 1487.63,728.48 1487.79,731.6 1487.95,734.88 1488.11,738.46 1488.27,744.09 1488.43,750.62 1488.59,753.49 1488.75,749.47 1488.91,740.77 1489.07,733.02 1489.23,729.96 1489.39,731.14 1489.55,734.41 1489.71,738.72 1489.87,743.8 1490.03,748.51 1490.19,751.08 1490.35,750.54 1490.51,746.74 1490.67,739.34 1490.83,728.92 1490.99,719.63 1491.15,718.32 1491.31,728.31 1491.47,744.08 1491.63,754.89 1491.79,754.98 1491.95,748.69 1492.11,743.9 1492.27,742.13 1492.43,738.04 1492.59,728.91 1492.75,720.91 1492.91,722.85 1493.07,734.88 1493.23,746.99 1493.39,749.94 1493.55,744.8 1493.71,739.64 1493.87,738.65 1494.03,738.14 1494.19,733.65 1494.35,727.37 1494.4,726.03 1494.72,813.25" fill="none" stroke="#0000ff" stroke-width="2.8" stroke-linejoin="round"/>
<polyline points="1521.41,813.25 1521.58,752.25 1521.76,736.67 1521.92,745.35 1522.08,753.66 1522.24,756.18 1522.4,751.99 1522.56,745.78 1522.72,742.36 1522.88,741.16 1523.04,737.96 1523.2,731.95 1523.36,728.78 1523.52,734.75 1523.68,748.68 1523.84,761.61 1524,764.54 1524.16,757.8 1524.32,746.3 1524.48,736.36 1524.64,729.78 1524.8,726.33 1524.96,726.92 1525.12,732.87 1525.28,742.68 1525.44,751.87 1525.6,756.55 1525.76,756.17 1525.92,752.2 1526.08,745.51 1526.24,736.84 1526.4,729.31 1526.56,727.72 1526.72,733.89 1526.88,743.41 1527.04,749.26 1527.2,748.88 1527.36,746.18 1527.52,745.79 1527.68,746.72 1527.84,743.69 1528,734.7 1528.16,725.24 1528.32,723.46 1528.48,731.81 1528.64,744.82 1528.8,754.72 1528.96,757.93 1529.12,755.52 1529.28,749.48 1529.44,740.84 1529.6,731.32 1529.76,724.53 1529.92,723.7 1530.07,728.58 1530.23,736.06 1530.39,743.43 1530.55,749.85 1530.71,754.18 1530.87,753.48 1531.03,745.85 1531.19,734.51 1531.35,726.79 1531.51,727.55 1531.67,734.2 1531.83,739.82 1531.99,740.96 1532.15,740.7 1532.31,743.45 1532.47,748.22 1532.63,749.09 1532.79,742.24 1532.95,730.97 1533.11,722.75 1533.27,722.3 1533.43,728.5 1533.59,737.38 1533.75,745.91 1533.91,752.27 1534.07,754.41 1534.23,750.6 1534.39,741.93 1534.55,732.5 1534.71,726.15 1534.87,723.7 1535.03,724.11 1535.19,727.59 1535.35,735.34 1535.51,745.77 1535.62,751.39 1535.94,813.25" fill="none" stroke="#0000ff" stroke-width="2.8" stroke-linejoin="round"/>
<polyline points="1558.89,813.25 1559.07,752.25 1559.25,748.73 1559.4,749.33 1559.56,752.92 1559.72,756.61 1559.88,753.11 1560.04,741.62 1560.2,730.92 1560.36,729.83 1560.52,737.19 1560.68,744.3 1560.84,746.06 1561,746.27 1561.16,750.58 1561.32,757.02 1561.48,757.14 1561.64,746.47 1561.8,731.07 1561.96,721.92 1562.12,724.14 1562.28,733.46 1562.44,742.64 1562.6,748.96 1562.76,754.14 1562.92,758.67 1563.08,759.07 1563.24,751.72 1563.4,738.41 1563.56,726.52 1563.72,723.12 1563.88,729.03 1564.04,738.67 1564.2,745.62 1564.36,747.86 1564.52,747.98 1564.68,748.62 1564.84,748.69 1565,744.85 1565.16,736.65 1565.32,728.89 1565.48,727.64 1565.64,733.93 1565.8,742.56 1565.96,747.76 1566.12,748.95 1566.28,749.54 1566.44,750.59 1566.6,748.16 1566.76,738.71 1566.92,725.7 1567.08,718.55 1567.24,722.24 1567.4,734.22 1567.56,745.56 1567.72,751.32 1567.88,752.97 1568.04,753.05 1568.2,750.24 1568.36,742.01 1568.52,730.64 1568.68,723.2 1568.84,724.48 1569,731.91 1569.16,739.01 1569.32,742.66 1569.48,744.72 1569.64,746.81 1569.8,746.72 1569.96,741.78 1570.12,733.98 1570.28,728.73 1570.44,728.73 1570.6,731.4 1570.76,733.68 1570.92,736.83 1571.08,743.62 1571.24,751.78 1571.4,753.98 1571.56,746.02 1571.68,735.77 1572,813.25" fill="none" stroke="#0000ff" stroke-width="2.8" stroke-linejoin="round"/>
<polyline points="1592.11,813.25 1592.29,752.25 1592.47,757.94 1592.63,759.21 1592.79,752.17 1592.95,741.13 1593.11,734.59 1593.27,735.73 1593.42,739.35 1593.58,739.51 1593.74,738.05 1593.9,742.05 1594.06,752.94 1594.22,761.89 1594.38,758.79 1594.54,744.5 1594.7,730.74 1594.86,727.28 1595.02,731.97 1595.18,735.8 1595.34,735.65 1595.5,738.06 1595.66,749.04 1595.82,763.4 1595.98,763.56 1596.14,757.16 1596.3,737.95 1596.46,724.81 1596.62,724.31 1596.78,731.18 1596.94,737.05 1597.1,739.9 1597.26,743.37 1597.42,749.18 1597.58,753.69 1597.74,752.49 1597.9,745.88 1598.06,738.15 1598.22,732.82 1598.38,730.55 1598.54,731.47 1598.7,736.48 1598.86,744.79 1599.02,751.97 1599.18,753.15 1599.34,748.51 1599.5,743.1 1599.66,740.3 1599.82,737.38 1599.98,730.12 1600.14,721.28 1600.3,720.52 1600.46,733.68 1600.62,753.56 1600.78,760 1600.94,759.88 1601.1,745.65 1601.26,735.58 1601.42,734.63 1601.58,735.67 1601.74,731.13 1601.9,724.18 1602.06,725.08 1602.22,737.5 1602.38,752.32 1602.54,756.96 1602.7,748.96 1602.86,737.6 1603.02,732.58 1603.18,734.06 1603.34,735.26 1603.5,732.67 1603.66,730.29 1603.82,733.65 1603.98,742.29 1604.14,750.18 1604.3,752.25 1604.46,748.37 1604.62,741.08 1604.78,732.29 1604.94,723.81 1605.1,719.34 1605.26,722.65 1605.42,732.97 1605.58,744.11 1605.74,749.98 1605.9,750.16 1606.06,748.43 1606.14,747.44 1606.46,813.25" fill="none" stroke="#0000ff" stroke-width="2.8" stroke-linejoin="round"/>
<rect x="1251.2" y="487.9" width="355.3" height="325.35" fill="none" stroke="#000" stroke-width="1.9"/>
<line x1="1251.2" y1="813.25" x2="1251.2" y2="820.25" stroke="#000" stroke-width="1.9"/>
<text x="1251.2" y="841.62" font-size="19.3" font-family="'DejaVu Sans', 'Liberation Sans', sans-serif" fill="#000" stroke="#000" stroke-width="0.3" text-anchor="middle">60</text>
<line x1="1340.03" y1="813.25" x2="1340.03" y2="820.25" stroke="#000" stroke-width="1.9"/>
<text x="1340.03" y="841.62" font-size="19.3" font-family="'DejaVu Sans', 'Liberation Sans', sans-serif" fill="#000" stroke="#000" stroke-width="0.3" text-anchor="middle">65</text>
<line x1="1428.85" y1="813.25" x2="1428.85" y2="820.25" stroke="#000" stroke-width="1.9"/>
<text x="1428.85" y="841.62" font-size="19.3" font-family="'DejaVu Sans', 'Liberation Sans', sans-serif" fill="#000" stroke="#000" stroke-width="0.3" text-anchor="middle">70</text>
<line x1="1517.67" y1="813.25" x2="1517.67" y2="820.25" stroke="#000" stroke-width="1.9"/>
<text x="1517.67" y="841.62" font-size="19.3" font-family="'DejaVu Sans', 'Liberation Sans', sans-serif" fill="#000" stroke="#000" stroke-width="0.3" text-anchor="middle">75</text>
<line x1="1606.5" y1="813.25" x2="1606.5" y2="820.25" stroke="#000" stroke-width="1.9"/>
<text x="1606.5" y="841.62" font-size="19.3" font-family="'DejaVu Sans', 'Liberation Sans', sans-serif" fill="#000" stroke="#000" stroke-width="0.3" text-anchor="middle">80</text>
<line x1="1244.2" y1="813.25" x2="1251.2" y2="813.25" stroke="#000" stroke-width="1.9"/>
<text x="1237.3" y="820.29" font-size="19.3" font-family="'DejaVu Sans', 'Liberation Sans', sans-serif" fill="#000" stroke="#000" stroke-width="0.3" text-anchor="end">0</text>
<line x1="1244.2" y1="772.58" x2="1251.2" y2="772.58" stroke="#000" stroke-width="1.9"/>
<text x="1237.3" y="779.63" font-size="19.3" font-family="'DejaVu Sans', 'Liberation Sans', sans-serif" fill="#000" stroke="#000" stroke-width="0.3" text-anchor="end">1000</text>
<line x1="1244.2" y1="731.91" x2="1251.2" y2="731.91" stroke="#000" stroke-width="1.9"/>
<text x="1237.3" y="738.96" font-size="19.3" font-family="'DejaVu Sans', 'Liberation Sans', sans-serif" fill="#000" stroke="#000" stroke-width="0.3" text-anchor="end">2000</text>
<line x1="1244.2" y1="691.24" x2="1251.2" y2="691.24" stroke="#000" stroke-width="1.9"/>
<text x="1237.3" y="698.29" font-size="19.3" font-family="'DejaVu Sans', 'Liberation Sans', sans-serif" fill="#000" stroke="#000" stroke-width="0.3" text-anchor="end">3000</text>
<line x1="1244.2" y1="650.58" x2="1251.2" y2="650.58" stroke="#000" stroke-width="1.9"/>
<text x="1237.3" y="657.62" font-size="19.3" font-family="'DejaVu Sans', 'Liberation Sans', sans-serif" fill="#000" stroke="#000" stroke-width="0.3" text-anchor="end">4000</text>
<line x1="1244.2" y1="609.91" x2="1251.2" y2="609.91" stroke="#000" stroke-width="1.9"/>
<text x="1237.3" y="616.95" font-size="19.3" font-family="'DejaVu Sans', 'Liberation Sans', sans-serif" fill="#000" stroke="#000" stroke-width="0.3" text-anchor="end">5000</text>
<line x1="1244.2" y1="569.24" x2="1251.2" y2="569.24" stroke="#000" stroke-width="1.9"/>
<text x="1237.3" y="576.28" font-size="19.3" font-family="'DejaVu Sans', 'Liberation Sans', sans-serif" fill="#000" stroke="#000" stroke-width="0.3" text-anchor="end">6000</text>
<line x1="1244.2" y1="528.57" x2="1251.2" y2="528.57" stroke="#000" stroke-width="1.9"/>
<text x="1237.3" y="535.61" font-size="19.3" font-family="'DejaVu Sans', 'Liberation Sans', sans-serif" fill="#000" stroke="#000" stroke-width="0.3" text-anchor="end">7000</text>
<line x1="1244.2" y1="487.9" x2="1251.2" y2="487.9" stroke="#000" stroke-width="1.9"/>
<text x="1237.3" y="494.94" font-size="19.3" font-family="'DejaVu Sans', 'Liberation Sans', sans-serif" fill="#000" stroke="#000" stroke-width="0.3" text-anchor="end">8000</text>
<line x1="1606.5" y1="813.25" x2="1613.5" y2="813.25" stroke="#000" stroke-width="1.9"/>
<text x="1619.9" y="820.29" font-size="19.3" font-family="'DejaVu Sans', 'Liberation Sans', sans-serif" fill="#000" stroke="#000" stroke-width="0.3">0.0</text>
<line x1="1606.5" y1="731.91" x2="1613.5" y2="731.91" stroke="#000" stroke-width="1.9"/>
<text x="1619.9" y="738.96" font-size="19.3" font-family="'DejaVu Sans', 'Liberation Sans', sans-serif" fill="#000" stroke="#000" stroke-width="0.3">0.5</text>
<line x1="1606.5" y1="650.58" x2="1613.5" y2="650.58" stroke="#000" stroke-width="1.9"/>
<text x="1619.9" y="657.62" font-size="19.3" font-family="'DejaVu Sans', 'Liberation Sans', sans-serif" fill="#000" stroke="#000" stroke-width="0.3">1.0</text>
<text x="0" y="0" font-size="27.5" font-family="'Liberation Sans', Arial, sans-serif" fill="#000" stroke="#000" stroke-width="0.3" text-anchor="middle" textLength="386.7" lengthAdjust="spacingAndGlyphs" transform="translate(1168.6 665.8) rotate(-90)">NE-modulated conductance [nS]</text>
<text x="0" y="0" font-size="28" font-family="'Liberation Sans', Arial, sans-serif" fill="#000" stroke="#000" stroke-width="0.3" text-anchor="middle" textLength="200.7" lengthAdjust="spacingAndGlyphs" transform="translate(1679.2 656.9) rotate(-90)">Neural activity [-]</text>
<text x="1427.8" y="869.5" font-size="19.6" font-family="'DejaVu Sans', 'Liberation Sans', sans-serif" fill="#000" stroke="#000" stroke-width="0.3" text-anchor="middle" textLength="103.9" lengthAdjust="spacingAndGlyphs">Time [sec]</text>
<line x1="1432.6" y1="502.3" x2="1459.3" y2="502.3" stroke="#007f00" stroke-width="2.6"/>
<text x="1465.9" y="508.7" font-size="18.5" font-family="'Liberation Sans', Arial, sans-serif" fill="#000" stroke="#000" stroke-width="0.3" textLength="138.2" lengthAdjust="spacingAndGlyphs">NE =3348.6 [nS]</text>
<line x1="1432.6" y1="520.1" x2="1459.3" y2="520.1" stroke="#ff0000" stroke-width="2.6"/>
<text x="1466.7" y="530.8" font-size="18.5" font-family="'Liberation Sans', Arial, sans-serif" fill="#000" stroke="#000" stroke-width="0.3" textLength="82.2" lengthAdjust="spacingAndGlyphs">Expiration</text>
<line x1="1432.6" y1="536.8" x2="1459.3" y2="536.8" stroke="#0000ff" stroke-width="2.6"/>
<text x="1466.7" y="553.2" font-size="18.5" font-family="'Liberation Sans', Arial, sans-serif" fill="#000" stroke="#000" stroke-width="0.3" textLength="85.2" lengthAdjust="spacingAndGlyphs">Inspiration</text>
<polyline points="1251.4,1099.2 1260.9,1099.2 1260.9,1084.2 1272.9,1084.2 1272.9,1094.1 1285.3,1094.1 1285.3,1103.5 1297.1,1103.5 1297.1,1089.8 1309.4,1089.8 1309.4,1107 1321.7,1107 1321.7,1101.1 1333.6,1101.1 1333.6,1087.7 1345.9,1087.7 1345.9,1105.1 1358.2,1105.1 1358.2,1101.3 1369.5,1101.3 1369.5,1080.2 1381.3,1080.2 1381.3,1095.4 1392.9,1095.4 1392.9,1089.8 1405,1089.8 1405,1086.3 1416.2,1086.3 1416.2,1097 1427.7,1097 1427.7,1084.7 1439.3,1084.7 1439.3,1089.5 1451.7,1089.5 1451.7,1098.4 1462.9,1098.4 1462.9,1087.4 1475.3,1087.4 1475.3,1098.1 1487.1,1098.1 1487.1,1098.9 1498.9,1098.9 1498.9,1084.2 1510.7,1084.2 1510.7,1097.8 1522.5,1097.8 1522.5,1101.3 1534.3,1101.3 1534.3,1085.5 1546.1,1085.5 1546.1,1089 1557.9,1089 1557.9,1097.4 1569.2,1097.4 1569.2,1085.8 1581,1085.8 1581,1081.5 1592.8,1081.5 1592.8,1093.8 1604.6,1093.8 1604.6,1079.3 1606.3,1079.3" fill="none" stroke="#ff0000" stroke-width="3.0" stroke-linejoin="round" stroke-linejoin="miter" stroke-linecap="butt"/>
<polyline points="1251.4,1107 1281,1107 1281,1120.3 1314.8,1120.3 1314.8,1126.3 1352.9,1126.3 1352.9,1137.8 1385.1,1137.8 1385.1,1121.2 1415.7,1121.2 1415.7,1114.7 1449,1114.7 1449,1125.7 1482.8,1125.7 1482.8,1124.6 1521.4,1124.6 1521.4,1140 1559,1140 1559,1136.4 1592.8,1136.4 1592.8,1125.3 1606.3,1125.3" fill="none" stroke="#0000ff" stroke-width="3.0" stroke-linejoin="round" stroke-linejoin="miter" stroke-linecap="butt"/>
<rect x="1251.2" y="903.6" width="355.3" height="325.3" fill="none" stroke="#000" stroke-width="1.9"/>
<line x1="1251.2" y1="1228.9" x2="1251.2" y2="1235.9" stroke="#000" stroke-width="1.9"/>
<text x="1251.2" y="1257.27" font-size="19.3" font-family="'DejaVu Sans', 'Liberation Sans', sans-serif" fill="#000" stroke="#000" stroke-width="0.3" text-anchor="middle">60</text>
<line x1="1340.03" y1="1228.9" x2="1340.03" y2="1235.9" stroke="#000" stroke-width="1.9"/>
<text x="1340.03" y="1257.27" font-size="19.3" font-family="'DejaVu Sans', 'Liberation Sans', sans-serif" fill="#000" stroke="#000" stroke-width="0.3" text-anchor="middle">65</text>
<line x1="1428.85" y1="1228.9" x2="1428.85" y2="1235.9" stroke="#000" stroke-width="1.9"/>
<text x="1428.85" y="1257.27" font-size="19.3" font-family="'DejaVu Sans', 'Liberation Sans', sans-serif" fill="#000" stroke="#000" stroke-width="0.3" text-anchor="middle">70</text>
<line x1="1517.67" y1="1228.9" x2="1517.67" y2="1235.9" stroke="#000" stroke-width="1.9"/>
<text x="1517.67" y="1257.27" font-size="19.3" font-family="'DejaVu Sans', 'Liberation Sans', sans-serif" fill="#000" stroke="#000" stroke-width="0.3" text-anchor="middle">75</text>
<line x1="1606.5" y1="1228.9" x2="1606.5" y2="1235.9" stroke="#000" stroke-width="1.9"/>
<text x="1606.5" y="1257.27" font-size="19.3" font-family="'DejaVu Sans', 'Liberation Sans', sans-serif" fill="#000" stroke="#000" stroke-width="0.3" text-anchor="middle">80</text>
<line x1="1244.2" y1="1228.9" x2="1251.2" y2="1228.9" stroke="#000" stroke-width="1.9"/>
<text x="1237.3" y="1235.94" font-size="19.3" font-family="'DejaVu Sans', 'Liberation Sans', sans-serif" fill="#000" stroke="#000" stroke-width="0.3" text-anchor="end">0</text>
<line x1="1244.2" y1="1163.84" x2="1251.2" y2="1163.84" stroke="#000" stroke-width="1.9"/>
<text x="1237.3" y="1170.88" font-size="19.3" font-family="'DejaVu Sans', 'Liberation Sans', sans-serif" fill="#000" stroke="#000" stroke-width="0.3" text-anchor="end">20</text>
<line x1="1244.2" y1="1098.78" x2="1251.2" y2="1098.78" stroke="#000" stroke-width="1.9"/>
<text x="1237.3" y="1105.82" font-size="19.3" font-family="'DejaVu Sans', 'Liberation Sans', sans-serif" fill="#000" stroke="#000" stroke-width="0.3" text-anchor="end">40</text>
<line x1="1244.2" y1="1033.72" x2="1251.2" y2="1033.72" stroke="#000" stroke-width="1.9"/>
<text x="1237.3" y="1040.76" font-size="19.3" font-family="'DejaVu Sans', 'Liberation Sans', sans-serif" fill="#000" stroke="#000" stroke-width="0.3" text-anchor="end">60</text>
<line x1="1244.2" y1="968.66" x2="1251.2" y2="968.66" stroke="#000" stroke-width="1.9"/>
<text x="1237.3" y="975.7" font-size="19.3" font-family="'DejaVu Sans', 'Liberation Sans', sans-serif" fill="#000" stroke="#000" stroke-width="0.3" text-anchor="end">80</text>
<line x1="1244.2" y1="903.6" x2="1251.2" y2="903.6" stroke="#000" stroke-width="1.9"/>
<text x="1237.3" y="910.64" font-size="19.3" font-family="'DejaVu Sans', 'Liberation Sans', sans-serif" fill="#000" stroke="#000" stroke-width="0.3" text-anchor="end">100</text>
<line x1="1606.5" y1="1228.9" x2="1613.5" y2="1228.9" stroke="#000" stroke-width="1.9"/>
<text x="1619.9" y="1235.94" font-size="19.3" font-family="'DejaVu Sans', 'Liberation Sans', sans-serif" fill="#000" stroke="#000" stroke-width="0.3">40</text>
<line x1="1606.5" y1="1120.47" x2="1613.5" y2="1120.47" stroke="#000" stroke-width="1.9"/>
<text x="1619.9" y="1127.51" font-size="19.3" font-family="'DejaVu Sans', 'Liberation Sans', sans-serif" fill="#000" stroke="#000" stroke-width="0.3">80</text>
<line x1="1606.5" y1="1012.03" x2="1613.5" y2="1012.03" stroke="#000" stroke-width="1.9"/>
<text x="1619.9" y="1019.08" font-size="19.3" font-family="'DejaVu Sans', 'Liberation Sans', sans-serif" fill="#000" stroke="#000" stroke-width="0.3">120</text>
<line x1="1606.5" y1="903.6" x2="1613.5" y2="903.6" stroke="#000" stroke-width="1.9"/>
<text x="1619.9" y="910.64" font-size="19.3" font-family="'DejaVu Sans', 'Liberation Sans', sans-serif" fill="#000" stroke="#000" stroke-width="0.3">160</text>
<text x="0" y="0" font-size="27.5" font-family="'Liberation Sans', Arial, sans-serif" fill="#000" stroke="#000" stroke-width="0.3" text-anchor="middle" textLength="244.5" lengthAdjust="spacingAndGlyphs" transform="translate(1194.4 1082.3) rotate(-90)">Breathing rate [bpm]</text>
<text x="0" y="0" font-size="27.5" font-family="'Liberation Sans', Arial, sans-serif" fill="#000" stroke="#000" stroke-width="0.3" text-anchor="middle" textLength="194.3" lengthAdjust="spacingAndGlyphs" transform="translate(1685.5 1076.2) rotate(-90)">Heart rate [bpm]</text>
<text x="1428.2" y="1285.8" font-size="19.6" font-family="'DejaVu Sans', 'Liberation Sans', sans-serif" fill="#000" stroke="#000" stroke-width="0.3" text-anchor="middle" textLength="103.6" lengthAdjust="spacingAndGlyphs">Time [sec]</text>
<line x1="1405.2" y1="918.4" x2="1431.9" y2="918.4" stroke="#0000ff" stroke-width="2.6"/>
<text x="1438.2" y="924.5" font-size="18.5" font-family="'Liberation Sans', Arial, sans-serif" fill="#000" stroke="#000" stroke-width="0.3" textLength="130.3" lengthAdjust="spacingAndGlyphs">BR =31.6 [bpm]</text>
<line x1="1405.2" y1="935.9" x2="1431.9" y2="935.9" stroke="#ff0000" stroke-width="2.6"/>
<text x="1437.4" y="946.5" font-size="18.5" font-family="'Liberation Sans', Arial, sans-serif" fill="#000" stroke="#000" stroke-width="0.3" textLength="132.2" lengthAdjust="spacingAndGlyphs">HR =90.0[ bpm]</text>
<g clip-path="url(#insclip)">
<line x1="1245.3" y1="380.8" x2="1453.5" y2="380.8" stroke="#95acd8" stroke-width="1.5"/>
<line x1="1453.5" y1="387.4" x2="1626" y2="387.4" stroke="#ff44ff" stroke-width="1.6"/>
<polyline points="1245.3,244.01 1245.64,243.5 1245.97,243.05 1246.31,242.66 1246.64,242.36 1246.98,242.15 1247.32,242.03 1247.65,242 1247.99,242.04 1248.32,242.15 1248.66,242.29 1249,242.44 1249.33,242.6 1249.67,242.71 1250,242.78 1250.34,242.77 1250.68,242.68 1251.01,242.49 1251.35,242.19 1251.68,241.8 1252.02,241.31 1252.36,240.75 1252.69,240.13 1253.03,239.46 1253.36,238.79 1253.7,238.12 1254.04,237.49 1254.37,236.92 1254.71,236.41 1255.04,235.99 1255.38,235.67 1255.72,235.43 1256.05,235.29 1256.39,235.22 1256.72,235.21 1257.06,235.25 1257.4,235.3 1257.73,235.35 1258.07,235.37 1258.4,235.34 1258.74,235.23 1259.08,235.05 1259.41,234.76 1259.75,234.38 1260.08,233.9 1260.42,233.33 1260.76,232.69 1261.09,231.99 1261.43,231.25 1261.76,230.51 1262.1,229.77 1262.44,229.08 1262.77,228.44 1263.11,227.87 1263.44,227.4 1263.78,227.01 1264.12,226.73 1264.45,226.53 1264.79,226.42 1265.12,226.37 1265.46,226.37 1265.8,226.39 1266.13,226.4 1266.47,226.39 1266.8,226.33 1267.14,226.21 1267.48,226 1267.81,225.7 1268.15,225.31 1268.48,224.82 1268.82,224.24 1269.16,223.6 1269.49,222.9 1269.83,222.16 1270.16,221.42 1270.5,220.7 1270.84,220.02 1271.17,219.4 1271.51,218.85 1271.84,218.4 1272.18,218.05 1272.52,217.79 1272.85,217.63 1273.19,217.56 1273.52,217.55 1273.86,217.59 1274.2,217.66 1274.53,217.72 1274.87,217.77 1275.2,217.77 1275.54,217.7 1275.88,217.56 1276.21,217.33 1276.55,217 1276.88,216.59 1277.22,216.09 1277.56,215.53 1277.89,214.91 1278.23,214.27 1278.56,213.62 1278.9,212.99 1279.24,212.4 1279.57,211.88 1279.91,211.43 1280.24,211.09 1280.58,210.84 1280.92,210.7 1281.25,210.65 1281.59,210.69 1281.92,210.8 1282.26,210.96 1282.6,211.15 1282.93,211.35 1283.27,211.52 1283.6,211.65 1283.94,211.72 1284.28,211.72 1284.61,211.62 1284.95,211.44 1285.28,211.17 1285.62,210.82 1285.96,210.4 1286.29,209.93 1286.63,209.44 1286.96,208.94 1287.3,208.47 1287.64,208.04 1287.97,207.67 1288.31,207.39 1288.64,207.2 1288.98,207.12 1289.32,207.14 1289.65,207.26 1289.99,207.47 1290.32,207.75 1290.66,208.08 1291,208.45 1291.33,208.81 1291.67,209.16 1292,209.59 1292.34,210.33 1292.68,210.98 1293.01,211.53 1293.35,211.97 1293.68,212.32 1294.02,212.57 1294.36,212.74 1294.69,212.85 1295.03,212.93 1295.36,212.98 1295.7,213.05 1296.04,213.14 1296.37,213.29 1296.71,213.52 1297.04,213.82 1297.38,214.22 1297.72,214.71 1298.05,215.28 1298.39,215.94 1298.72,216.65 1299.06,217.41 1299.4,218.18 1299.73,218.95 1300.07,219.69 1300.4,220.38 1300.74,220.99 1301.08,221.52 1301.41,221.96 1301.75,222.29 1302.08,222.53 1302.42,222.67 1302.76,222.74 1303.09,222.75 1303.43,222.73 1303.76,222.69 1304.1,222.65 1304.44,222.66 1304.77,222.72 1305.11,222.84 1305.44,223.06 1305.78,223.36 1306.12,223.76 1306.45,224.24 1306.79,224.79 1307.12,225.41 1307.46,226.06 1307.8,226.73 1308.13,227.39 1308.47,228.02 1308.8,228.6 1309.14,229.1 1309.48,229.51 1309.81,229.83 1310.15,230.04 1310.48,230.15 1310.82,230.18 1311.16,230.12 1311.49,230 1311.83,229.85 1312.16,229.69 1312.5,229.53 1312.84,229.42 1313.17,229.36 1313.51,229.37 1313.84,229.48 1314.18,229.68 1314.52,229.97 1314.85,230.36 1315.19,230.83 1315.52,231.37 1315.86,231.95 1316.2,232.56 1316.53,233.16 1316.87,233.75 1317.2,234.28 1317.54,234.75 1317.88,235.14 1318.21,235.44 1318.55,235.64 1318.88,235.75 1319.22,235.78 1319.56,235.73 1319.89,235.62 1320.23,235.49 1320.56,235.34 1320.9,235.2 1321.24,235.1 1321.57,235.05 1321.91,235.08 1322.24,235.19 1322.58,235.39 1322.92,235.67 1323.25,236.04 1323.59,236.49 1323.92,236.99 1324.26,237.52 1324.6,238.07 1324.93,238.61 1325.27,239.12 1325.6,239.56 1325.94,239.93 1326.28,240.21 1326.61,240.39 1326.95,240.46 1327.28,240.43 1327.62,240.3 1327.96,240.1 1328.29,239.84 1328.63,239.54 1328.96,239.22 1329.3,238.92 1329.64,238.65 1329.97,238.44 1330.31,238.3 1330.64,238.25 1330.98,238.3 1331.32,238.45 1331.65,238.7 1331.99,239.03 1332.32,239.42 1332.66,239.87 1333,240.34 1333.33,240.82 1333.67,241.28 1334,241.7 1334.34,242.06 1334.68,242.34 1335.01,242.53 1335.35,242.64 1335.68,242.65 1336.02,242.59 1336.36,242.46 1336.69,242.28 1337.03,242.07 1337.36,241.86 1337.7,241.66 1338.04,241.51 1338.37,241.41 1338.71,241.4 1339.04,241.47 1339.38,241.64 1339.72,241.9 1340.05,242.25 1340.39,242.68 1340.72,243.17 1341.06,243.69 1341.4,244.23 1341.73,244.77 1342.07,245.26 1342.4,245.7 1342.74,246.06 1343.08,246.33 1343.41,246.5 1343.75,246.55 1344.08,246.5 1344.42,246.36 1344.76,246.13 1345.09,245.83 1345.43,245.49 1345.76,245.12 1346.1,244.77 1346.44,244.44 1346.77,244.16 1347.11,243.95 1347.44,243.82 1347.78,243.78 1348.12,243.84 1348.45,243.98 1348.79,244.2 1349.12,244.49 1349.46,244.82 1349.8,245.17 1350.13,245.53 1350.47,245.86 1350.8,246.15 1351.14,246.37 1351.48,246.52 1351.81,246.59 1352.15,246.56 1352.48,246.45 1352.82,246.27 1353.16,246.02 1353.49,245.72 1353.83,245.41 1354.16,245.09 1354.5,244.8 1354.84,244.56 1355.17,244.39 1355.51,244.31 1355.84,244.32 1356.18,244.44 1356.52,244.66 1356.85,244.98 1357.19,245.39 1357.52,245.87 1357.86,246.39 1358.2,246.94 1358.53,247.49 1358.87,248.01 1359.2,248.49 1359.54,248.89 1359.88,249.2 1360.21,249.42 1360.55,249.53 1360.88,249.54 1361.22,249.45 1361.56,249.28 1361.89,249.04 1362.23,248.76 1362.56,248.46 1362.9,248.15 1363.24,247.87 1363.57,247.64 1363.91,247.47 1364.24,247.37 1364.58,247.36 1364.92,247.43 1365.25,247.57 1365.59,247.79 1365.92,248.06 1366.26,248.36 1366.6,248.68 1366.93,248.99 1367.27,249.26 1367.6,249.48 1367.94,249.63 1368.28,249.69 1368.61,249.66 1368.95,249.53 1369.28,249.31 1369.62,249 1369.96,248.63 1370.29,248.21 1370.63,247.76 1370.96,247.31 1371.3,246.88 1371.64,246.51 1371.97,246.2 1372.31,245.98 1372.64,245.87 1372.98,245.86 1373.32,245.97 1373.65,246.18 1373.99,246.49 1374.32,246.87 1374.66,247.32 1375,247.8 1375.33,248.29 1375.67,248.76 1376,249.2 1376.34,249.58 1376.68,249.88 1377.01,250.1 1377.35,250.23 1377.68,250.27 1378.02,250.22 1378.36,250.1 1378.69,249.93 1379.03,249.71 1379.36,249.49 1379.7,249.27 1380.04,249.09 1380.37,248.95 1380.71,248.88 1381.04,248.89 1381.38,248.98 1381.72,249.16 1382.05,249.41 1382.39,249.73 1382.72,250.09 1383.06,250.49 1383.4,250.89 1383.73,251.28 1384.07,250.21 1384.4,250.4 1384.74,250.51 1385.08,250.55 1385.41,250.48 1385.75,250.31 1386.08,250.05 1386.42,249.69 1386.76,249.26 1387.09,248.76 1387.43,248.23 1387.76,247.69 1388.1,247.16 1388.44,246.66 1388.77,246.22 1389.11,245.84 1389.44,245.56 1389.78,245.36 1390.12,245.26 1390.45,245.25 1390.79,245.32 1391.12,245.44 1391.46,245.61 1391.8,245.8 1392.13,245.98 1392.47,246.13 1392.8,246.23 1393.14,246.25 1393.48,246.2 1393.81,246.04 1394.15,245.79 1394.48,245.44 1394.82,244.99 1395.16,244.48 1395.49,243.9 1395.83,243.29 1396.16,242.66 1396.5,242.05 1396.84,241.47 1397.17,240.95 1397.51,240.5 1397.84,240.13 1398.18,239.87 1398.52,239.69 1398.85,239.6 1399.19,239.6 1399.52,239.65 1399.86,239.75 1400.2,239.87 1400.53,239.98 1400.87,240.07 1401.2,240.1 1401.54,240.07 1401.88,239.95 1402.21,239.73 1402.55,239.42 1402.88,239.01 1403.22,238.51 1403.56,237.94 1403.89,237.31 1404.23,236.64 1404.56,235.97 1404.9,235.31 1405.24,234.68 1405.57,234.11 1405.91,233.62 1406.24,233.22 1406.58,232.91 1406.92,232.69 1407.25,232.57 1407.59,232.53 1407.92,232.55 1408.26,232.62 1408.6,232.7 1408.93,232.79 1409.27,232.85 1409.6,232.86 1409.94,232.8 1410.28,232.66 1410.61,232.43 1410.95,232.1 1411.28,231.67 1411.62,231.16 1411.96,230.57 1412.29,229.94 1412.63,229.26 1412.96,228.58 1413.3,227.92 1413.64,227.29 1413.97,226.72 1414.31,226.23 1414.64,225.83 1414.98,225.53 1415.32,225.32 1415.65,225.21 1415.99,225.17 1416.32,225.21 1416.66,225.29 1417,225.4 1417.33,225.5 1417.67,225.58 1418,225.61 1418.34,225.58 1418.68,225.47 1419.01,225.26 1419.35,224.96 1419.68,224.57 1420.02,224.09 1420.36,223.54 1420.69,222.94 1421.03,222.31 1421.36,221.67 1421.7,221.05 1422.04,220.46 1422.37,219.94 1422.71,219.5 1423.04,219.15 1423.38,218.9 1423.72,218.75 1424.05,218.69 1424.39,218.72 1424.72,218.81 1425.06,218.95 1425.4,219.12 1425.73,219.29 1426.07,219.44 1426.4,219.54 1426.74,219.58 1427.08,219.53 1427.41,219.4 1427.75,219.18 1428.08,218.86 1428.42,218.46 1428.76,217.99 1429.09,217.47 1429.43,216.92 1429.76,216.36 1430.1,215.83 1430.44,215.33 1430.77,214.9 1431.11,214.55 1431.44,214.29 1431.78,214.13 1432.12,214.07 1432.45,214.11 1432.79,214.23 1433.12,214.42 1433.46,214.66 1433.8,214.93 1434.13,215.2 1434.47,215.45 1434.8,215.65 1435.14,215.79 1435.48,215.86 1435.81,215.83 1436.15,215.71 1436.48,215.5 1436.82,215.21 1437.16,214.86 1437.49,214.45 1437.83,214.01 1438.16,213.57 1438.5,213.14 1438.84,212.76 1439.17,212.44 1439.51,212.21 1439.84,212.06 1440.18,212.02 1440.52,212.08 1440.85,212.23 1441.19,212.48 1441.52,212.79 1441.86,213.15 1442.2,213.92 1442.53,214.69 1442.87,215.43 1443.2,216.11 1443.54,216.72 1443.88,217.24 1444.21,217.66 1444.55,217.98 1444.88,218.2 1445.22,218.32 1445.56,218.37 1445.89,218.35 1446.23,218.28 1446.56,218.2 1446.9,218.13 1447.24,218.09 1447.57,218.1 1447.91,218.17 1448.24,218.33 1448.58,218.58 1448.92,218.92 1449.25,219.35 1449.59,219.85 1449.92,220.42 1450.26,221.02 1450.6,221.65 1450.93,222.27 1451.27,222.87 1451.6,223.42 1451.94,223.9 1452.28,224.3 1452.61,224.61 1452.95,224.83 1453.28,224.95 1453.62,224.99 1453.96,224.97 1454.29,224.9 1454.63,224.79 1454.96,224.68 1455.3,224.6 1455.64,224.55 1455.97,224.57 1456.31,224.67 1456.64,224.86 1456.98,225.16 1457.32,225.55 1457.65,226.03 1457.99,226.6 1458.32,227.23 1458.66,227.91 1459,228.6 1459.33,229.3 1459.67,229.96 1460,230.56 1460.34,231.09 1460.68,231.53 1461.01,231.87 1461.35,232.1 1461.68,232.22 1462.02,232.25 1462.36,232.19 1462.69,232.06 1463.03,231.88 1463.36,231.68 1463.7,231.48 1464.04,231.3 1464.37,231.17 1464.71,231.09 1465.04,231.09 1465.38,231.18 1465.72,231.34 1466.05,231.59 1466.39,231.9 1466.72,232.27 1467.06,232.68 1467.4,233.09 1467.73,233.51 1468.07,233.88 1468.4,234.21 1468.74,234.47 1469.08,234.65 1469.41,234.73 1469.75,234.73 1470.08,234.63 1470.42,234.45 1470.76,234.21 1471.09,233.93 1471.43,233.62 1471.76,233.32 1472.1,233.04 1472.44,232.82 1472.77,232.67 1473.11,232.61 1473.44,232.66 1473.78,232.82 1474.12,233.09 1474.45,233.47 1474.79,233.95 1475.12,234.51 1475.46,235.12 1475.8,235.78 1476.13,236.44 1476.47,237.09 1476.8,237.7 1477.14,238.23 1477.48,238.69 1477.81,239.05 1478.15,239.32 1478.48,239.48 1478.82,239.55 1479.16,239.54 1479.49,239.46 1479.83,239.34 1480.16,239.19 1480.5,239.04 1480.84,238.91 1481.17,238.83 1481.51,238.8 1481.84,238.84 1482.18,238.96 1482.52,239.16 1482.85,239.43 1483.19,239.76 1483.52,240.13 1483.86,240.53 1484.2,240.94 1484.53,241.33 1484.87,241.67 1485.2,241.95 1485.54,242.15 1485.88,242.25 1486.21,242.26 1486.55,242.15 1486.88,241.95 1487.22,241.65 1487.56,241.28 1487.89,240.85 1488.23,240.39 1488.56,239.93 1488.9,239.48 1489.24,239.08 1489.57,238.74 1489.91,238.49 1490.24,238.34 1490.58,238.3 1490.92,238.37 1491.25,238.55 1491.59,238.82 1491.92,239.18 1492.26,239.59 1492.6,240.05 1492.93,240.52 1493.27,240.98 1493.6,241.41 1493.94,241.78 1494.28,242.09 1494.61,242.32 1494.95,242.47 1495.28,242.53 1495.62,242.52 1495.96,242.44 1496.29,242.32 1496.63,242.17 1496.96,242.01 1497.3,241.86 1497.64,241.76 1497.97,241.71 1498.31,241.74 1498.64,241.85 1498.98,242.05 1499.32,242.33 1499.65,242.7 1499.99,243.14 1500.32,243.63 1500.66,244.15 1501,244.67 1501.33,245.18 1501.67,245.65 1502,246.05 1502.34,246.36 1502.68,246.57 1503.01,246.68 1503.35,246.67 1503.68,246.54 1504.02,246.32 1504.36,246 1504.69,245.61 1505.03,245.18 1505.36,244.73 1505.7,244.28 1506.04,243.85 1506.37,243.48 1506.71,243.18 1507.04,242.96 1507.38,242.84 1507.72,242.81 1508.05,242.87 1508.39,243.02 1508.72,243.23 1509.06,243.5 1509.4,243.79 1509.73,244.09 1510.07,244.38 1510.4,244.63 1510.74,244.82 1511.08,244.94 1511.41,244.99 1511.75,244.95 1512.08,244.83 1512.42,244.65 1512.76,244.4 1513.09,244.11 1513.43,243.81 1513.76,243.51 1514.1,243.24 1514.44,243.02 1514.77,242.88 1515.11,242.82 1515.44,242.86 1515.78,243 1516.12,243.25 1516.45,243.6 1516.79,244.03 1517.12,244.53 1517.46,245.07 1517.8,245.64 1518.13,246.21 1518.47,246.74 1518.8,247.22 1519.14,247.63 1519.48,247.94 1519.81,248.15 1520.15,248.26 1520.48,248.25 1520.82,248.15 1521.16,247.96 1521.49,247.71 1521.83,247.4 1522.16,247.07 1522.5,246.74 1522.84,246.43 1523.17,246.16 1523.51,245.96 1523.84,245.82 1524.18,245.77 1524.52,245.81 1524.85,245.92 1525.19,246.1 1525.52,246.34 1525.86,246.62 1526.2,246.9 1526.53,247.18 1526.87,247.43 1527.2,247.63 1527.54,247.75 1527.88,247.8 1528.21,247.75 1528.55,247.61 1528.88,247.38 1529.22,247.06 1529.56,246.68 1529.89,246.26 1530.23,245.81 1530.56,245.35 1530.9,244.93 1531.24,244.56 1531.57,244.25 1531.91,244.04 1532.24,243.93 1532.58,243.93 1532.92,244.03 1533.25,244.25 1533.59,244.55 1533.92,244.94 1534.26,245.38 1534.6,245.86 1534.93,246.34 1535.27,246.81 1535.6,247.24 1535.94,247.6 1536.28,247.89 1536.61,248.1 1536.95,248.21 1537.28,248.22 1537.62,248.15 1537.96,248.01 1538.29,247.81 1538.63,247.57 1538.96,247.32 1539.3,247.08 1539.64,246.87 1539.97,246.71 1540.31,246.61 1540.64,246.6 1540.98,246.66 1541.32,246.82 1541.65,247.05 1541.99,247.35 1542.32,247.71 1542.66,248.09 1543,248.49 1543.33,248.87 1543.67,248.04 1544,248.24 1544.34,248.36 1544.68,248.4 1545.01,248.34 1545.35,248.18 1545.68,247.92 1546.02,247.58 1546.36,247.16 1546.69,246.67 1547.03,246.16 1547.36,245.63 1547.7,245.11 1548.04,244.62 1548.37,244.19 1548.71,243.84 1549.04,243.57 1549.38,243.39 1549.72,243.31 1550.05,243.31 1550.39,243.39 1550.72,243.54 1551.06,243.73 1551.4,243.93 1551.73,244.13 1552.07,244.3 1552.4,244.42 1552.74,244.47 1553.08,244.44 1553.41,244.3 1553.75,244.07 1554.08,243.74 1554.42,243.33 1554.76,242.83 1555.09,242.28 1555.43,241.69 1555.76,241.09 1556.1,240.5 1556.44,239.95 1556.77,239.45 1557.11,239.03 1557.44,238.69 1557.78,238.45 1558.12,238.3 1558.45,238.24 1558.79,238.26 1559.12,238.34 1559.46,238.47 1559.8,238.61 1560.13,238.75 1560.47,238.86 1560.8,238.92 1561.14,238.92 1561.48,238.82 1561.81,238.63 1562.15,238.35 1562.48,237.96 1562.82,237.49 1563.16,236.95 1563.49,236.34 1563.83,235.7 1564.16,235.05 1564.5,234.42 1564.84,233.82 1565.17,233.27 1565.51,232.8 1565.84,232.42 1566.18,232.14 1566.52,231.95 1566.85,231.85 1567.19,231.83 1567.52,231.87 1567.86,231.96 1568.2,232.06 1568.53,232.17 1568.87,232.25 1569.2,232.28 1569.54,232.24 1569.88,232.11 1570.21,231.9 1570.55,231.58 1570.88,231.17 1571.22,230.67 1571.56,230.1 1571.89,229.48 1572.23,228.82 1572.56,228.15 1572.9,227.49 1573.24,226.87 1573.57,226.31 1573.91,225.83 1574.24,225.43 1574.58,225.14 1574.92,224.93 1575.25,224.82 1575.59,224.79 1575.92,224.83 1576.26,224.91 1576.6,225.02 1576.93,225.12 1577.27,225.19 1577.6,225.22 1577.94,225.18 1578.28,225.06 1578.61,224.85 1578.95,224.54 1579.28,224.13 1579.62,223.64 1579.96,223.08 1580.29,222.47 1580.63,221.82 1580.96,221.16 1581.3,220.52 1581.64,219.92 1581.97,219.37 1582.31,218.91 1582.64,218.54 1582.98,218.26 1583.32,218.08 1583.65,217.99 1583.99,217.99 1584.32,218.05 1584.66,218.16 1585,218.29 1585.33,218.43 1585.67,218.53 1586,218.6 1586.34,218.59 1586.68,218.51 1587.01,218.33 1587.35,218.06 1587.68,217.69 1588.02,217.25 1588.36,216.73 1588.69,216.15 1589.03,215.55 1589.36,214.94 1589.7,214.35 1590.04,213.79 1590.37,213.3 1590.71,212.89 1591.04,212.56 1591.38,212.34 1591.72,212.22 1592.05,212.19 1592.39,212.24 1592.72,212.36 1593.06,212.53 1593.4,212.72 1593.73,212.92 1594.07,213.09 1594.4,213.21 1594.74,213.27 1595.08,213.26 1595.41,213.15 1595.75,212.94 1596.08,212.65 1596.42,212.27 1596.76,211.82 1597.09,211.32 1597.43,210.79 1597.76,210.26 1598.1,209.74 1598.44,209.26 1598.77,208.84 1599.11,208.51 1599.44,208.27 1599.78,208.12 1600.12,208.08 1600.45,208.13 1600.79,208.27 1601.12,208.47 1601.46,208.72 1601.8,209 1602.13,209.28 1602.47,209.54 1602.8,209.75 1603.14,209.9 1603.48,209.97 1603.81,209.95 1604.15,209.84 1604.48,209.63 1604.82,209.35 1605.16,208.99 1605.49,208.58 1605.83,208.14 1606.16,207.7 1606.5,207.28 1606.84,206.89 1607.17,206.57 1607.51,206.33 1607.84,206.19 1608.18,206.14 1608.52,206.19 1608.85,206.34 1609.19,206.57 1609.52,206.87 1609.86,207.23 1610.2,207.6 1610.53,207.98 1610.87,208.52 1611.2,209.18 1611.54,209.78 1611.88,210.29 1612.21,210.7 1612.55,211.01 1612.88,211.22 1613.22,211.34 1613.56,211.39 1613.89,211.37 1614.23,211.32 1614.56,211.26 1614.9,211.21 1615.24,211.19 1615.57,211.23 1615.91,211.35 1616.24,211.55 1616.58,211.84 1616.92,212.23 1617.25,212.71 1617.59,213.26 1617.92,213.88 1618.26,214.55 1618.6,215.23 1618.93,215.91 1619.27,216.56 1619.6,217.16 1619.94,217.69 1620.28,218.13 1620.61,218.48 1620.95,218.73 1621.28,218.89 1621.62,218.95 1621.96,218.94 1622.29,218.87 1622.63,218.77 1622.96,218.65 1623.3,218.55 1623.64,218.48 1623.97,218.46 1624.31,218.52 1624.64,218.67 1624.98,218.9 1625.32,219.24 1625.65,219.65 1625.99,220.15 1626.32,220.71 1626.66,221.3 1627,221.92 1627.33,222.53 1627.67,223.11 1628,223.64 1628.34,224.09 1628.68,224.46 1629.01,224.74 1629.35,224.91 1629.68,224.98 1630.02,224.97 1630.36,224.87 1630.69,224.72 1631.03,224.53 1631.36,224.33 1631.7,224.14 1632.04,223.99 1632.37,223.89 1632.71,223.87 1633.04,223.93 1633.38,224.09 1633.72,224.34 1634.05,224.69 1634.39,225.11 1634.72,225.59 1635.06,226.13 1635.4,226.68 1635.73,227.23 1636.07,227.75 1636.4,228.22 1636.74,228.63 1637.08,228.96 1637.41,229.19 1637.75,229.32 1638.08,229.37 1638.42,229.32 1638.76,229.21 1639.09,229.03 1639.43,228.83 1639.76,228.62 1640.1,228.42 1640.44,228.26 1640.77,228.17 1641.11,228.14 1641.44,228.21 1641.78,228.37 1642.12,228.63 1642.45,228.99 1642.79,229.42 1643.12,229.91 1643.46,230.45 1643.8,231.02 1644.13,231.57 1644.47,232.1 1644.8,232.58 1645.14,232.99 1645.48,233.31 1645.81,233.54 1646.15,233.67 1646.48,233.7 1646.82,233.64 1647.16,233.5 1647.49,233.3 1647.83,233.06 1648.16,232.81 1648.5,232.57 1648.84,232.36 1649.17,232.2 1649.51,232.11 1649.84,232.11 1650.18,232.19 1650.52,232.37 1650.85,232.64 1651.19,232.98 1651.52,233.39 1651.86,233.83 1652.2,234.29 1652.53,234.75 1652.87,235.18 1653.2,235.56 1653.54,235.86 1653.88,236.09 1654.21,236.22 1654.55,236.25 1654.88,236.18 1655.22,236.03 1655.56,235.81 1655.89,235.53 1656.23,235.22 1656.56,234.9 1656.9,234.59 1657.24,234.33 1657.57,234.13 1657.91,234.01 1658.24,233.98 1658.58,234.04 1658.92,234.21 1659.25,234.48 1659.59,234.82 1659.92,235.24 1660.26,235.71 1660.6,236.2 1660.93,236.69 1661.27,237.16 1661.6,237.58 1661.94,237.94 1662.28,238.22 1662.61,238.41 1662.95,238.5 1663.28,238.5 1663.62,238.41 1663.96,238.26 1664.29,238.04 1664.63,237.8 1664.96,237.54 1665.3,237.29 1665.64,237.09 1665.97,236.94 1666.31,236.86 1666.64,236.86 1666.98,236.96 1667.32,237.16 1667.65,237.44 1667.99,237.79 1668.32,238.21 1668.66,238.66 1669,239.13 1669.33,239.6 1669.67,240.03 1670,240.4 1670.34,240.7 1670.68,240.92 1671.01,241.03 1671.35,241.04 1671.68,240.95 1672.02,240.77 1672.36,240.51 1672.69,240.19 1673.03,239.83 1673.36,239.45 1673.7,239.09 1674.04,238.76 1674.37,238.49 1674.71,238.29 1675.04,238.18 1675.38,238.17 1675.72,238.25 1676.05,238.42 1676.39,238.68 1676.72,239 1677.06,239.37 1677.4,239.76 1677.73,240.16 1678.07,240.53 1678.4,240.86 1678.74,241.12 1679.08,241.31 1679.41,241.41 1679.75,241.42 1680.08,241.33 1680.42,241.17 1680.76,240.94 1681.09,240.66 1681.43,240.36 1681.76,240.04 1682.1,239.75 1682.44,239.5 1682.77,239.32 1683.11,239.22 1683.44,239.2 1683.78,239.29 1684.12,239.48 1684.45,239.76 1684.79,240.12 1685.12,240.55 1685.46,241.03 1685.8,241.52 1686.13,242.02 1686.47,242.48 1686.8,242.89 1687.14,243.24 1687.48,243.49 1687.81,243.65 1688.15,243.7 1688.48,243.66 1688.82,243.52 1689.16,243.31 1689.49,243.03 1689.83,242.71 1690.16,242.37 1690.5,242.04 1690.84,241.74 1691.17,241.49 1691.51,241.31 1691.84,241.21 1692.18,241.2 1692.52,241.28 1692.85,241.44 1693.19,241.68 1693.52,241.98 1693.86,242.31 1694.2,242.67 1694.53,243.02 1694.87,243.34 1695.2,243.6 1695.54,243.8 1695.88,243.92 1696.21,243.94 1696.55,243.87 1696.88,243.7 1697.22,243.45 1697.56,243.12 1697.89,242.75 1698.23,242.35 1698.56,241.94 1698.9,241.55 1699.24,241.21 1699.57,240.93 1699.91,240.74 1700.24,240.64 1700.58,240.64 1700.92,240.75 1701.25,240.96 1701.59,241.26 1701.92,241.63 1702.26,242.05 1702.6,242.51 1702.93,242.96 1703.27,243.4 1703.6,243.79 1703.94,244.13 1704.28,244.38 1704.61,244.54 1704.95,244.61 1705.28,244.59 1705.62,244.48 1705.96,244.3 1706.29,244.07 1706.63,243.8 1706.96,243.51 1707.3,243.24 1707.64,243.01 1707.97,242.82 1708.31,242.71 1708.64,242.68 1708.98,242.74 1709.32,242.89 1709.65,243.13 1709.99,243.43 1710.32,243.79 1710.66,244.19 1711,244.6 1711.33,245 1711.67,245.36 1712,245.67 1712.34,245.9 1712.68,246.03 1713.01,246.07 1713.35,246 1713.68,245.83 1714.02,245.57 1714.36,245.22 1714.69,244.82 1715.03,244.38 1715.36,243.92 1715.7,243.48 1716.04,243.07 1716.37,242.73 1716.71,242.45 1717.04,242.27 1717.38,242.19 1717.72,242.21 1718.05,242.32 1718.39,242.52 1718.72,242.79 1719.06,243.11 1719.4,243.46 1719.73,243.81 1720.07,244.15 1720.4,244.45 1720.74,244.69 1721.08,244.85 1721.41,244.94 1721.75,244.93 1722.08,244.84 1722.42,244.67 1722.76,244.44 1723.09,244.16 1723.43,243.86 1723.76,243.55 1724.1,243.27 1724.44,243.37 1724.77,242.97 1725.11,242.64 1725.44,242.4 1725.78,242.25 1726.12,242.19 1726.45,242.23 1726.79,242.33 1727.12,242.51 1727.46,242.72 1727.8,242.95 1728.13,243.17 1728.47,243.37 1728.8,243.51 1729.14,243.58 1729.48,243.56 1729.81,243.45" fill="none" stroke="#007f00" stroke-width="1.9" stroke-linejoin="round"/>
<line x1="1245.3" y1="394.2" x2="1729.98" y2="394.2" stroke="#8b2a2a" stroke-width="1.8"/>
<line x1="1286.88" y1="394.2" x2="1383.9" y2="394.2" stroke="#2a2a80" stroke-width="1.8"/>
<line x1="1436.82" y1="394.2" x2="1543.5" y2="394.2" stroke="#2a2a80" stroke-width="1.8"/>
<line x1="1605.66" y1="394.2" x2="1724.1" y2="394.2" stroke="#2a2a80" stroke-width="1.8"/>
<polyline points="1382.81,394 1384.07,261.68 1384.57,268.62 1384.91,274.73 1386.76,394" fill="none" stroke="#ff0000" stroke-width="1.9" stroke-linejoin="round"/>
<polyline points="1507.8,394 1509.06,260.47 1509.56,259.55 1510.07,260.3 1510.57,262.9 1511.08,266.81 1511.58,270.9 1512.08,274 1512.59,275.34 1513.09,274.88 1513.6,273.23 1514.1,271.21 1514.6,269.5 1515.11,268.3 1515.61,267.39 1516.12,266.43 1516.62,265.28 1517.12,264.22 1517.63,263.88 1518.13,264.9 1518.64,267.58 1519.14,271.61 1519.64,276.15 1520.15,280.12 1520.65,282.63 1521.16,283.23 1521.66,282.06 1522.16,279.64 1522.67,276.58 1523.17,273.41 1523.68,270.46 1524.18,267.98 1524.68,266.25 1525.19,265.66 1525.69,266.59 1526.2,269.25 1526.7,273.48 1527.2,278.64 1527.71,283.77 1528.21,287.89 1528.72,290.25 1529.22,290.54 1529.72,288.94 1530.23,285.94 1530.73,282.12 1531.24,278.06 1531.74,274.21 1532.24,271 1532.75,268.89 1533.25,268.32 1533.76,269.66 1534.26,273.03 1534.76,278.14 1535.27,284.28 1535.77,290.44 1536.28,295.54 1536.78,298.67 1537.28,299.31 1537.79,297.39 1538.29,293.29 1538.8,287.73 1539.3,281.66 1543.5,394" fill="none" stroke="#ff0000" stroke-width="1.9" stroke-linejoin="round"/>
<polyline points="1693.44,394 1694.7,262.85 1695.2,262.5 1695.71,263.16 1696.21,265.08 1696.72,268.15 1697.22,271.79 1697.72,275.08 1698.23,277.15 1698.73,277.5 1699.24,276.27 1699.74,274.12 1700.24,271.85 1700.75,270.02 1701.25,268.75 1701.76,267.79 1702.26,266.91 1702.76,266.18 1703.27,266.09 1703.77,267.25 1704.28,270.01 1704.78,274.1 1705.28,278.64 1705.79,282.47 1706.29,284.67 1706.8,284.93 1707.3,283.6 1707.8,281.35 1708.31,278.8 1708.81,276.21 1709.32,273.59 1709.82,270.94 1710.32,268.59 1710.83,267.23 1711.33,267.67 1711.84,270.39 1712.34,275.19 1712.84,281.15 1713.35,286.93 1713.85,291.24 1714.36,293.34 1714.86,293.13 1715.36,291.08 1715.87,287.82 1716.37,283.98 1716.88,280.01 1717.38,276.29 1717.88,273.25 1718.39,271.34 1718.89,271.01 1719.4,272.5 1719.9,275.77 1720.4,280.48 1720.91,286.09 1721.41,291.91 1721.92,297.17 1722.42,301.04 1722.92,302.69 1723.43,301.51 1723.93,297.38 1724.1,295.44 1728.3,394" fill="none" stroke="#ff0000" stroke-width="1.9" stroke-linejoin="round"/>
<polyline points="1331.4,394 1333.5,380.01 1335.6,394" fill="none" stroke="#ff0000" stroke-width="1.71" stroke-linejoin="round"/>
<polyline points="1364.16,394 1366.26,380.01 1368.36,394" fill="none" stroke="#ff0000" stroke-width="1.71" stroke-linejoin="round"/>
<polyline points="1245.3,301.54 1245.8,300.41 1246.31,300.71 1246.81,303.39 1247.32,308.47 1247.82,314.73 1248.32,320.23 1248.83,323.28 1249.33,323.27 1249.84,320.92 1250.34,317.65 1250.84,314.7 1251.35,312.38 1251.85,309.98 1252.36,306.47 1252.86,301.45 1253.36,295.79 1253.87,291.51 1254.37,290.92 1254.88,295.41 1255.38,304.62 1255.88,316.35 1256.39,327.34 1256.89,334.53 1257.4,334.52 1257.9,332.08 1258.4,323.99 1258.91,314.17 1259.41,304.88 1259.92,297.68 1260.42,293.25 1260.92,291.54 1261.43,292.05 1261.93,294.16 1262.44,297.31 1262.94,301.14 1263.44,305.46 1263.95,310.25 1264.45,315.38 1264.96,320.43 1265.46,324.48 1265.96,326.23 1266.47,324.42 1266.97,318.55 1267.48,309.42 1267.98,299.27 1268.48,291.12 1268.99,287.67 1269.49,290.03 1270,297.11 1270.5,305.98 1271,313.19 1271.51,316.31 1272.01,315.14 1272.52,311.6 1273.02,308.66 1273.52,308.53 1274.03,311.39 1274.53,315.15 1275.04,316.58 1275.54,313.16 1276.04,304.64 1276.55,293.49 1277.05,283.91 1277.56,280.88 1278.06,283.13 1278.56,292.74 1279.07,305.24 1279.57,316.5 1280.08,323.54 1280.58,325.52 1281.08,323.6 1281.59,319.8 1282.09,315.72 1282.6,311.73 1283.1,307.22 1283.6,301.48 1284.11,294.69 1284.61,288.21 1285.12,284.12 1285.62,284.1 1286.12,288.45 1286.63,295.86 1286.88,299.98 1288.39,394" fill="none" stroke="#0000ff" stroke-width="1.9" stroke-linejoin="round"/>
<polyline points="1383.9,394 1384.74,321.62 1385.58,299.02 1386.08,307.11 1386.59,315.35 1387.09,321.95 1387.6,326.22 1388.1,328.17 1388.6,328.1 1389.11,326.24 1389.61,322.78 1390.12,317.96 1390.62,312.16 1391.12,305.82 1391.63,299.4 1392.13,293.49 1392.64,289.07 1393.14,287.52 1393.64,290.24 1394.15,297.85 1394.65,309.36 1395.16,322 1395.66,332.07 1396.16,335.6 1396.67,334.01 1397.17,326.45 1397.68,317.14 1398.18,309.5 1398.68,305.21 1399.19,303.65 1399.69,302.73 1400.2,300.67 1400.7,297.47 1401.2,295.01 1401.71,295.82 1402.21,301.14 1402.72,309.79 1403.22,318.54 1403.72,323.86 1404.23,323.96 1404.73,319.78 1405.24,314.22 1405.74,310.14 1406.24,308.6 1406.75,308.23 1407.25,306.57 1407.76,302.11 1408.26,295.75 1408.76,290.69 1409.27,290.44 1409.77,296.54 1410.28,307.26 1410.78,318.39 1411.28,325.57 1411.79,326.76 1412.29,323.2 1412.8,318.31 1413.3,315.15 1413.8,314.35 1414.31,313.69 1414.81,309.88 1415.32,301.27 1415.82,289.56 1416.32,281.79 1416.83,281.74 1417.33,282.55 1417.84,296.47 1418.34,312.6 1418.84,324.63 1419.35,328.75 1419.85,325.34 1420.36,318.32 1420.86,312.4 1421.36,310.23 1421.87,311.1 1422.37,311.8 1422.88,309.17 1423.38,302.4 1423.88,293.74 1424.39,287.24 1424.89,286.3 1425.4,291.68 1425.9,301.11 1426.4,310.63 1426.91,316.75 1427.41,318.18 1427.92,315.95 1428.42,312.4 1428.92,309.51 1429.43,307.84 1429.93,306.6 1430.44,304.55 1430.94,301.05 1431.44,296.62 1431.95,292.58 1432.45,290.37 1432.96,290.84 1433.46,294.05 1433.96,299.42 1434.47,306.11 1434.97,313.15 1435.48,319.38 1435.98,323.46 1436.48,324.12 1436.82,322.29 1438.33,394" fill="none" stroke="#0000ff" stroke-width="1.9" stroke-linejoin="round"/>
<polyline points="1543.5,394 1544.34,321.62 1545.18,320.31 1545.68,322.14 1546.19,322.71 1546.69,323.52 1547.2,325.22 1547.7,327.06 1548.2,327.26 1548.71,323.96 1549.21,316.35 1549.72,305.43 1550.22,293.85 1550.72,285.08 1551.23,284.37 1551.73,285.78 1552.24,295.37 1552.74,307.9 1553.24,319.81 1553.75,328.15 1554.25,331.51 1554.76,330.27 1555.26,326.05 1555.76,320.82 1556.27,315.97 1556.77,311.96 1557.28,308.48 1557.78,304.99 1558.28,301.41 1558.79,298.32 1559.29,296.79 1559.8,297.8 1560.3,301.66 1560.8,307.63 1561.31,314.17 1561.81,319.47 1562.32,322.23 1562.82,322.07 1563.32,319.61 1563.83,315.99 1564.33,312.28 1564.84,308.97 1565.34,305.9 1565.84,302.59 1566.35,298.85 1566.85,295.19 1567.36,292.88 1567.86,293.44 1568.36,297.91 1568.87,306.11 1569.37,316.42 1569.88,326.18 1570.38,332.58 1570.88,333.01 1571.39,329.33 1571.89,320.79 1572.4,310.62 1572.9,301.44 1573.4,295.03 1573.91,291.91 1574.41,291.43 1574.92,292.45 1575.42,294.11 1575.92,296.25 1576.43,299.41 1576.93,304.24 1577.44,310.86 1577.94,318.36 1578.44,324.9 1578.95,328.36 1579.45,327.2 1579.96,321.29 1580.46,312.07 1580.96,302.17 1581.47,294.38 1581.97,290.68 1582.48,291.5 1582.98,295.76 1583.48,301.41 1583.99,306.4 1584.49,309.52 1585,310.73 1585.5,310.94 1586,311.29 1586.51,312.48 1587.01,314.26 1587.52,315.54 1588.02,314.98 1588.52,311.66 1589.03,305.7 1589.53,298.33 1590.04,291.5 1590.54,287.2 1591.04,286.73 1591.55,290.3 1592.05,297.06 1592.56,305.42 1593.06,313.65 1593.56,320.31 1594.07,324.45 1594.57,325.66 1595.08,323.87 1595.58,319.34 1596.08,312.57 1596.59,304.44 1597.09,296.2 1597.6,289.32 1598.1,285.18 1598.6,284.61 1599.11,287.62 1599.61,293.3 1600.12,300.14 1600.62,306.55 1601.12,311.38 1601.63,314.23 1602.13,315.38 1602.64,315.44 1603.14,314.85 1603.64,313.57 1604.15,311.17 1604.65,307.19 1605.16,301.64 1605.66,295.38 1607.17,394" fill="none" stroke="#0000ff" stroke-width="1.9" stroke-linejoin="round"/>
<polyline points="1724.1,394 1724.94,321.62 1725.78,317.66 1726.28,318.7 1726.79,323.62 1727.29,329.71 1727.8,332.45 1728.3,328.09 1728.8,316.02 1729.31,299.49 1729.81,284.53" fill="none" stroke="#0000ff" stroke-width="1.9" stroke-linejoin="round"/>
<line x1="1245.3" y1="8.2" x2="1729.8" y2="8.2" stroke="#555" stroke-width="1.4"/>
<line x1="1245.3" y1="8.2" x2="1245.3" y2="394.5" stroke="#555" stroke-width="1.6"/>
<line x1="1240" y1="394" x2="1245.3" y2="394" stroke="#555" stroke-width="1.4"/>
<text x="1236.7" y="401" font-size="19.2" font-family="'Liberation Sans', Arial, sans-serif" fill="#000" stroke="#000" stroke-width="0.3" text-anchor="end">0</text>
<line x1="1240" y1="345.75" x2="1245.3" y2="345.75" stroke="#555" stroke-width="1.4"/>
<text x="1236.7" y="352.75" font-size="19.2" font-family="'Liberation Sans', Arial, sans-serif" fill="#000" stroke="#000" stroke-width="0.3" text-anchor="end" textLength="43.6" lengthAdjust="spacingAndGlyphs">1000</text>
<line x1="1240" y1="297.5" x2="1245.3" y2="297.5" stroke="#555" stroke-width="1.4"/>
<text x="1236.7" y="304.5" font-size="19.2" font-family="'Liberation Sans', Arial, sans-serif" fill="#000" stroke="#000" stroke-width="0.3" text-anchor="end" textLength="43.6" lengthAdjust="spacingAndGlyphs">2000</text>
<line x1="1240" y1="249.25" x2="1245.3" y2="249.25" stroke="#555" stroke-width="1.4"/>
<text x="1236.7" y="256.25" font-size="19.2" font-family="'Liberation Sans', Arial, sans-serif" fill="#000" stroke="#000" stroke-width="0.3" text-anchor="end" textLength="43.6" lengthAdjust="spacingAndGlyphs">3000</text>
<line x1="1240" y1="201" x2="1245.3" y2="201" stroke="#555" stroke-width="1.4"/>
<text x="1236.7" y="208" font-size="19.2" font-family="'Liberation Sans', Arial, sans-serif" fill="#000" stroke="#000" stroke-width="0.3" text-anchor="end" textLength="43.6" lengthAdjust="spacingAndGlyphs">4000</text>
<line x1="1240" y1="152.75" x2="1245.3" y2="152.75" stroke="#555" stroke-width="1.4"/>
<text x="1236.7" y="159.75" font-size="19.2" font-family="'Liberation Sans', Arial, sans-serif" fill="#000" stroke="#000" stroke-width="0.3" text-anchor="end" textLength="43.6" lengthAdjust="spacingAndGlyphs">5000</text>
<line x1="1240" y1="104.5" x2="1245.3" y2="104.5" stroke="#555" stroke-width="1.4"/>
<text x="1236.7" y="111.5" font-size="19.2" font-family="'Liberation Sans', Arial, sans-serif" fill="#000" stroke="#000" stroke-width="0.3" text-anchor="end" textLength="43.6" lengthAdjust="spacingAndGlyphs">6000</text>
<line x1="1240" y1="56.25" x2="1245.3" y2="56.25" stroke="#555" stroke-width="1.4"/>
<text x="1236.7" y="63.25" font-size="19.2" font-family="'Liberation Sans', Arial, sans-serif" fill="#000" stroke="#000" stroke-width="0.3" text-anchor="end" textLength="43.6" lengthAdjust="spacingAndGlyphs">7000</text>
<line x1="1240" y1="8" x2="1245.3" y2="8" stroke="#555" stroke-width="1.4"/>
<text x="1236.7" y="15" font-size="19.2" font-family="'Liberation Sans', Arial, sans-serif" fill="#000" stroke="#000" stroke-width="0.3" text-anchor="end" textLength="43.6" lengthAdjust="spacingAndGlyphs">8000</text>
<line x1="1454.2" y1="394" x2="1454.2" y2="399" stroke="#555" stroke-width="1.2"/>
<line x1="1664.5" y1="394" x2="1664.5" y2="399" stroke="#555" stroke-width="1.2"/>
<text x="1227.3" y="419.3" font-size="19.5" font-family="'Liberation Sans', Arial, sans-serif" fill="#000" stroke="#000" stroke-width="0.3" textLength="38.9" lengthAdjust="spacingAndGlyphs">60.0</text>
<text x="1433.2" y="419.3" font-size="19.5" font-family="'Liberation Sans', Arial, sans-serif" fill="#000" stroke="#000" stroke-width="0.3" textLength="38.1" lengthAdjust="spacingAndGlyphs">62.5</text>
<text x="1520" y="419.3" font-size="19.5" font-family="'Liberation Sans', Arial, sans-serif" fill="#000" stroke="#000" stroke-width="0.3" textLength="38.5" lengthAdjust="spacingAndGlyphs">63.5</text>
<text x="1597.9" y="419.3" font-size="19.5" font-family="'Liberation Sans', Arial, sans-serif" fill="#000" stroke="#000" stroke-width="0.3" textLength="38.4" lengthAdjust="spacingAndGlyphs">64.5</text>
<text x="1648.9" y="419.3" font-size="19.5" font-family="'Liberation Sans', Arial, sans-serif" fill="#000" stroke="#000" stroke-width="0.3" textLength="38.4" lengthAdjust="spacingAndGlyphs">65.0</text>
<text x="1441.5" y="461.2" font-size="23" font-family="'Liberation Sans', Arial, sans-serif" fill="#000" stroke="#000" stroke-width="0.3" textLength="108" lengthAdjust="spacingAndGlyphs">Time [sec]</text>
<text x="0" y="0" font-size="20.6" font-family="'Liberation Sans', Arial, sans-serif" fill="#000" stroke="#000" stroke-width="0.3" text-anchor="middle" textLength="297" lengthAdjust="spacingAndGlyphs" transform="translate(1173.2 195) rotate(-90)">NE-modulated conductance [nS]</text>
<text x="1268.5" y="120.4" font-size="23" font-family="'Liberation Sans', Arial, sans-serif" fill="#000" stroke="#000" stroke-width="0.3" textLength="339.5" lengthAdjust="spacingAndGlyphs">BR: 31.6 [bpm]=0.53  [Hz](mean)</text>
<line x1="1284.7" y1="152" x2="1289.6" y2="397.5" stroke="#000" stroke-width="1.8" stroke-dasharray="2 2.5"/>
<line x1="1434.7" y1="152" x2="1438.4" y2="395" stroke="#000" stroke-width="1.8" stroke-dasharray="2 2.5"/>
<line x1="1602" y1="152" x2="1606.3" y2="395" stroke="#000" stroke-width="1.8" stroke-dasharray="2 2.5"/>
<line x1="1287.3" y1="169.5" x2="1600.7" y2="169.5" stroke="#000" stroke-width="1.3"/>
<polyline points="1296.3,163.5 1287.3,169.5 1296.3,175.5" fill="none" stroke="#000" stroke-width="1.3" stroke-linejoin="round" stroke-linejoin="miter"/>
<polyline points="1426,163.5 1435,169.5 1426,175.5" fill="none" stroke="#000" stroke-width="1.3" stroke-linejoin="round" stroke-linejoin="miter"/>
<polyline points="1444,163.5 1435,169.5 1444,175.5" fill="none" stroke="#000" stroke-width="1.3" stroke-linejoin="round" stroke-linejoin="miter"/>
<polyline points="1591.7,163.5 1600.7,169.5 1591.7,175.5" fill="none" stroke="#000" stroke-width="1.3" stroke-linejoin="round" stroke-linejoin="miter"/>
<text x="1317.3" y="156.2" font-size="20" font-family="'Liberation Sans', Arial, sans-serif" fill="#000" stroke="#000" stroke-width="0.3" textLength="83" lengthAdjust="spacingAndGlyphs">0.56 [Hz]</text>
<text x="1471.5" y="157.8" font-size="20" font-family="'Liberation Sans', Arial, sans-serif" fill="#000" stroke="#000" stroke-width="0.3" textLength="71.2" lengthAdjust="spacingAndGlyphs">0.5 [Hz]</text>
<text x="1460" y="191.6" font-size="20" font-family="'Liberation Sans', Arial, sans-serif" fill="#000" stroke="#000" stroke-width="0.3" textLength="63.2" lengthAdjust="spacingAndGlyphs">10 [Hz]</text>
<text x="1545.5" y="197.2" font-size="20" font-family="'Liberation Sans', Arial, sans-serif" fill="#000" stroke="#000" stroke-width="0.3" textLength="63.2" lengthAdjust="spacingAndGlyphs">10 [Hz]</text>
<line x1="1452" y1="201.8" x2="1621" y2="201.8" stroke="#000" stroke-width="3.2"/>
<polygon points="1451,201.8 1461,196.3 1461,207.3" fill="#000"/>
<polygon points="1534.5,201.8 1524.5,196.3 1524.5,207.3" fill="#000"/>
<polygon points="1536.5,201.8 1546.5,196.3 1546.5,207.3" fill="#000"/>
<polygon points="1622,201.8 1612,196.3 1612,207.3" fill="#000"/>
<line x1="1450.5" y1="199" x2="1450.5" y2="213" stroke="#000" stroke-width="3"/>
<line x1="1535.5" y1="197" x2="1535.5" y2="213" stroke="#000" stroke-width="3"/>
<line x1="1623" y1="194" x2="1623" y2="208" stroke="#000" stroke-width="2.2"/>
<line x1="1451.5" y1="204" x2="1454.5" y2="390" stroke="#000" stroke-width="3.6" stroke-dasharray="13 7"/>
<line x1="1536.5" y1="210" x2="1540" y2="395" stroke="#000" stroke-width="3.6" stroke-dasharray="13 7"/>
<line x1="1622.4" y1="210" x2="1626" y2="398" stroke="#000" stroke-width="3.6" stroke-dasharray="13 7"/>
<line x1="1431.7" y1="57.7" x2="1449" y2="200" stroke="#555" stroke-width="1.0" stroke-dasharray="3 2.5"/>
<line x1="1635.6" y1="108.6" x2="1538" y2="248" stroke="#555" stroke-width="1.0" stroke-dasharray="3 2.5"/>
<polyline points="1414.4,19.96 1415.2,20.06 1416,20.2 1416.8,20.33 1417.6,20.43 1418.4,20.46 1419.2,20.44 1420,20.42 1420.8,20.45 1421.6,20.63 1422.4,21.04 1423.2,21.72 1424,22.69 1424.8,23.92 1425.6,25.32 1426.4,26.79 1427.2,28.2 1428,29.44 1428.8,30.42 1429.6,31.1 1430.4,31.51 1431.2,31.68 1432,31.7 1432.8,31.65 1433.6,31.6 1434.4,31.6 1435.2,31.66 1436,31.75 1436.8,31.85 1437.6,31.91 1438.4,31.91 1439.2,31.86 1440,31.79 1440.8,31.77 1441.6,31.89 1442.4,32.22 1443.2,32.83 1444,33.72 1444.8,34.88 1445.6,36.23 1446.4,37.66 1447.2,39.04 1448,40.26 1448.8,41.24 1449.6,41.92 1450.4,42.32 1451.2,42.48 1452,42.47 1452.8,42.38 1453.6,42.29 1454.4,42.24 1455.2,42.25 1456,42.3 1456.8,42.36 1457.6,42.39 1458.4,42.35 1459.2,42.27 1460,42.16 1460.8,42.09 1461.6,42.14 1462.4,42.4 1463.2,42.93 1464,43.75 1464.8,44.84 1465.6,46.13 1466.4,47.51 1467.2,48.87 1468,50.08 1468.8,51.04 1469.6,51.73 1470.4,52.12 1471.2,52.26 1472,52.23 1472.8,52.11 1473.6,51.97 1474.4,51.88 1475.2,51.84 1476,51.85 1476.8,51.86 1477.6,51.86 1478.4,51.79 1479.2,51.67 1480,51.52 1480.8,51.4 1481.6,51.4 1482.4,51.59 1483.2,52.04 1484,52.78 1484.8,53.8 1485.6,55.03 1486.4,56.37 1487.2,57.69 1488,58.88 1488.8,59.84 1489.6,60.52 1490.4,60.91 1491.2,61.04 1492,60.98 1492.8,60.83 1493.6,60.65 1494.4,60.51 1495.2,60.42 1496,60.38 1496.8,60.36 1497.6,60.32 1498.4,60.22 1499.2,60.07 1500,59.88 1500.8,59.71 1501.6,59.65 1502.4,59.77 1503.2,60.14 1504,60.81 1504.8,61.76 1505.6,62.92 1506.4,64.21 1507.2,65.51 1508,66.68 1508.8,67.63 1509.6,68.31 1510.4,68.69 1511.2,68.81 1512,68.73 1512.8,68.54 1513.6,68.33 1514.4,68.13 1515.2,68 1516,67.92 1516.8,67.86 1517.6,67.78 1518.4,67.65 1519.2,67.46 1520,67.23 1520.8,67.01 1521.6,66.89 1522.4,66.95 1523.2,67.25 1524,67.84 1524.8,68.71 1525.6,69.82 1526.4,71.06 1527.2,72.31 1528,73.47 1528.8,74.41 1529.6,75.08 1530.4,75.46 1531.2,75.57 1532,75.47 1532.8,75.25 1533.6,74.99 1534.4,74.76 1535.2,74.58 1536,74.45 1536.8,74.34 1537.6,74.23 1538.4,74.07 1539.2,73.84 1540,73.58 1540.8,73.32 1541.6,73.14 1542.4,73.12 1543.2,73.35 1544,73.87 1544.8,74.66 1545.6,75.7 1546.4,76.89 1547.2,78.11 1548,79.25 1548.8,80.18 1549.6,80.85 1550.4,81.22 1551.2,81.32 1552,81.2 1552.8,80.96 1553.6,80.66 1554.4,80.37 1555.2,80.14 1556,79.97 1556.8,79.83 1557.6,79.68 1558.4,79.48 1559.2,79.22 1560,78.92 1560.8,78.61 1561.6,78.38 1562.4,78.3 1563.2,78.46 1564,78.89 1564.8,79.62 1565.6,80.59 1566.4,81.72 1567.2,82.91 1568,84.02 1568.8,84.94 1569.6,85.6 1570.4,85.97 1571.2,86.06 1572,85.93 1572.8,85.65 1573.6,85.32 1574.4,84.99 1575.2,84.71 1576,84.49 1576.8,84.3 1577.6,84.11 1578.4,83.89 1579.2,83.6 1580,83.26 1580.8,82.91 1581.6,82.62 1582.4,82.48 1583.2,82.56 1584,82.92 1584.8,83.56 1585.6,84.47 1586.4,85.55 1587.2,86.69 1588,87.78 1588.8,88.69 1589.6,89.35 1590.4,89.71 1591.2,89.8 1592,89.65 1592.8,89.34 1593.6,88.97 1594.4,88.6 1595.2,88.27 1596,88 1596.8,87.77 1597.6,87.55 1598.4,87.29 1599.2,86.96 1600,86.59 1600.8,86.19 1601.6,85.85 1602.4,85.65 1603.2,85.66 1604,85.94 1604.8,86.51 1605.6,87.35 1606.4,88.37 1607.2,89.48 1608,90.53 1608.8,91.43 1609.6,92.08 1610.4,92.45 1611.2,92.52 1612,92.35 1612.8,92.02 1613.6,91.62 1614.4,91.2 1615.2,90.83 1616,90.51 1616.8,90.24 1617.6,89.97 1618.4,89.68 1619.2,89.32 1620,88.91 1620.8,88.48 1621.6,88.09 1622.4,87.82 1623.2,87.76 1624,87.96 1624.8,88.46 1625.6,89.23 1626.4,90.19 1627.2,91.25 1628,92.28 1628.8,93.16 1629.6,93.81 1630.4,94.17 1631.2,94.24 1632,94.06 1632.8,93.7 1633.6,93.26 1634.4,92.8 1635.2,92.38 1636,92.02 1636.8,91.7 1637.6,91.4 1638.4,91.06 1639.2,90.68 1640,90.23 1640.8,89.76 1641.6,89.31 1642.4,88.99 1643.2,88.85 1644,88.98 1644.8,89.4 1645.6,90.1 1646.4,91 1647.2,92.02 1648,93.02 1648.8,93.89 1649.6,94.52 1650.4,94.88 1651.2,94.94 1652,94.75 1652.8,94.37 1653.6,93.89 1654.4,93.39 1655.2,92.93" fill="none" stroke="#1a8f1a" stroke-width="4.6" stroke-linejoin="round" filter="url(#blur)" stroke-linecap="round"/>
<line x1="1430.5" y1="7.6" x2="1430.5" y2="56.8" stroke="#000" stroke-width="3.4"/>
<line x1="1636.6" y1="59.6" x2="1636.6" y2="109.1" stroke="#000" stroke-width="3.4"/>
</g>
<line x1="1252.8" y1="427.2" x2="1252.8" y2="633" stroke="#000" stroke-width="3.4" stroke-dasharray="10.8 6.9"/>
<line x1="1252.8" y1="633.4" x2="1252.8" y2="813.5" stroke="#000" stroke-width="3.4" stroke-dasharray="10.2 7.4"/>
<line x1="1357.1" y1="632.9" x2="1252.8" y2="632.9" stroke="#000" stroke-width="3.0" stroke-dasharray="10.5 7.2"/>
<line x1="1357.1" y1="632.9" x2="1357.1" y2="813.5" stroke="#000" stroke-width="3.2" stroke-dasharray="10.4 7.4"/>
<line x1="1357.1" y1="632.9" x2="1728" y2="408.5" stroke="#000" stroke-width="3.5" stroke-dasharray="11 7"/>
<text x="18.8" y="1334" font-size="30" font-family="'Liberation Sans', Arial, sans-serif" fill="#000" stroke="#000" stroke-width="0.3" textLength="580.2" lengthAdjust="spacingAndGlyphs">(a) Frequency: 0.25 [Hz], Amplitude: -3 [pA]</text>
<text x="603.2" y="1334" font-size="30" font-family="'Liberation Sans', Arial, sans-serif" fill="#000" stroke="#000" stroke-width="0.3" textLength="582.3" lengthAdjust="spacingAndGlyphs">(b) Frequency: 1.0 [Hz], Amplitude: -12 [pA]</text>
<text x="1178.8" y="1334" font-size="30" font-family="'Liberation Sans', Arial, sans-serif" fill="#000" stroke="#000" stroke-width="0.3" textLength="588.5" lengthAdjust="spacingAndGlyphs">(c) Frequency: 10.0 [Hz], Amplitude: -12 [pA]</text></svg></body></html>
